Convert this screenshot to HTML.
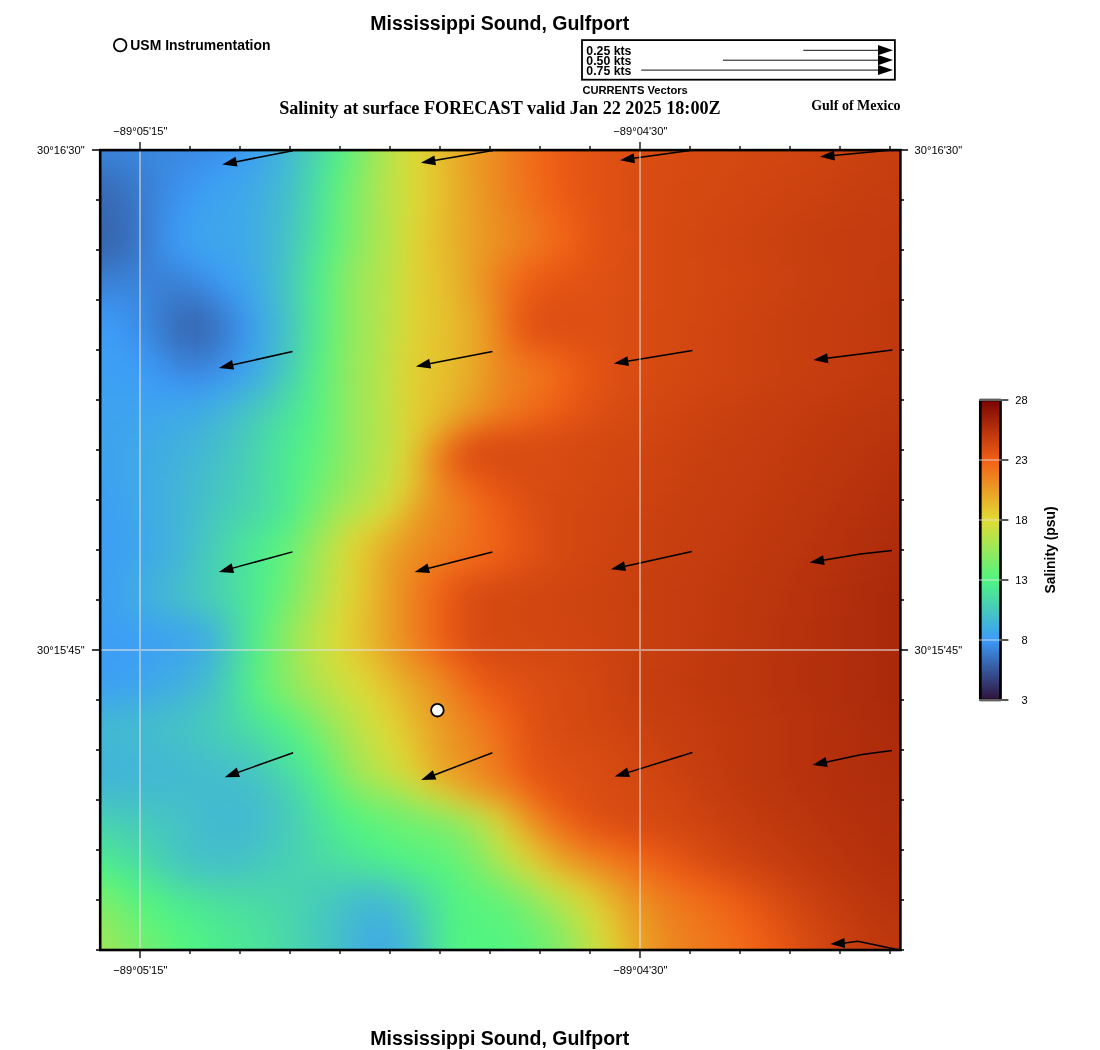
<!DOCTYPE html>
<html><head><meta charset="utf-8"><title>Mississippi Sound, Gulfport</title>
<style>
html,body{margin:0;padding:0;background:#fff}
body{width:1100px;height:1050px;position:relative;overflow:hidden;font-family:"Liberation Sans",sans-serif}
#f{position:absolute;left:100px;top:150px;width:800px;height:800px;overflow:hidden;font-size:0;line-height:0}
#f i{display:block;width:800px;height:2px}
svg{position:absolute;left:0;top:0;will-change:transform}
text{font-family:"Liberation Sans",sans-serif;fill:#000}
.sb{font-weight:bold}
.tb{font-family:"Liberation Serif",serif;font-weight:bold}
.an{font-size:11.11px}
</style></head><body>
<div id="f">
<i style="background:linear-gradient(90deg,#3a82d7,#3a83d9,#3a85db,#3a87de,#3a88e0,#3b8ae2,#3b8ce5,#3b90ea,#3c95ef,#3d9cf1,#3ea4ec,#41b0de,#44becc,#47ceb6,#4ddf9f,#59eb87,#73ed71,#94e95d,#b4e44c,#cddd3e,#ddd234,#e4c22e,#e7b12a,#e9a126,#eb9423,#ed8720,#ee791c,#f06c19,#ee6117,#ea5915,#e45514,#e15213,#de5013,#dc4e12,#da4d12,#d94c12,#d74b12,#d64a12,#d54911,#d54911,#d44811,#d24711,#d14611,#d04511,#cf4410,#cd4310,#cc4210,#cb4110,#c94010,#c83f0f,#c73e0f)"></i>
<i style="background:linear-gradient(90deg,#3a81d6,#3a82d8,#3a84da,#3a86dd,#3a88e0,#3b8ae3,#3b8de6,#3b91ea,#3c96ef,#3d9cf1,#3ea5eb,#41b0de,#44becc,#47ceb6,#4ddf9e,#59eb87,#73ed71,#95e95d,#b4e44c,#cddd3e,#ddd334,#e4c22e,#e7b12a,#e9a126,#eb9423,#ed8720,#ee791c,#f06c19,#ee6117,#ea5a15,#e45514,#e15213,#de5013,#dc4e12,#da4d12,#d94c12,#d74b12,#d64a12,#d54911,#d44911,#d34811,#d24711,#d14611,#d04511,#cf4410,#cd4310,#cc4210,#cb4110,#c94010,#c83f0f,#c73e0f)"></i>
<i style="background:linear-gradient(90deg,#3a80d4,#3a81d6,#3a84d9,#3a86dd,#3a88e0,#3b8be3,#3b8de7,#3b91eb,#3c97f0,#3d9df1,#3ea5eb,#41b0dd,#44becb,#47ceb6,#4ddf9e,#5aeb86,#74ed70,#95e95d,#b4e44c,#cddd3e,#ddd334,#e4c32e,#e7b12a,#e9a226,#eb9423,#ed8720,#ee791c,#f06c19,#ee6217,#ea5a15,#e45514,#e15213,#de5013,#dc4e12,#da4d12,#d84c12,#d74b12,#d64a12,#d54911,#d44911,#d34811,#d24711,#d14611,#d04511,#cf4410,#cd4310,#cc4210,#cb4110,#c94010,#c83f0f,#c73e0f)"></i>
<i style="background:linear-gradient(90deg,#3a7fd3,#3a80d5,#3a83d8,#3a86dc,#3a88e0,#3b8be4,#3b8ee7,#3b92ec,#3c98f0,#3d9ef1,#3ea6ea,#41b1dd,#44becb,#48ceb5,#4ddf9d,#5aeb86,#75ed70,#96e95d,#b4e44c,#cddd3e,#ddd334,#e4c32e,#e7b12a,#e9a226,#eb9423,#ed8720,#ee791c,#f06d19,#ee6217,#ea5a15,#e55514,#e15213,#de5013,#dc4e12,#da4d12,#d84c12,#d74b12,#d64a12,#d54911,#d44911,#d34811,#d24711,#d14611,#d04511,#ce4410,#cd4310,#cc4210,#cb4110,#c94010,#c83f0f,#c73e0f)"></i>
<i style="background:linear-gradient(90deg,#397ed1,#3a7fd4,#3a82d7,#3a85dc,#3a88e0,#3b8be4,#3b8fe8,#3b93ed,#3c98f0,#3d9ef0,#3fa6ea,#41b1dc,#44bfcb,#48cfb5,#4de09d,#5bec85,#75ed6f,#96e95c,#b5e34c,#cddd3e,#ddd334,#e4c32e,#e7b22a,#e9a226,#eb9423,#ed8720,#ee791c,#f06d19,#ee6217,#ea5a15,#e55514,#e15213,#de5013,#dc4e12,#da4d12,#d84c12,#d74b12,#d64a12,#d54911,#d44811,#d34811,#d24711,#d14611,#d04511,#ce4410,#cd4310,#cc4210,#ca4110,#c94010,#c83f0f,#c73e0f)"></i>
<i style="background:linear-gradient(90deg,#397ccf,#397ed2,#3a81d6,#3a85db,#3a88e0,#3b8ce5,#3b8fe9,#3c94ee,#3c99f1,#3d9ff0,#3fa7e9,#41b1dc,#44bfca,#48cfb5,#4ee09c,#5bec84,#76ed6f,#97e95c,#b5e34c,#cddd3e,#ddd334,#e4c32e,#e7b22a,#e9a226,#eb9423,#ed8720,#ee791c,#f06d19,#ef6217,#ea5a15,#e55514,#e15213,#de5013,#dc4e12,#da4d12,#d84c12,#d74b12,#d64a12,#d54911,#d44811,#d34811,#d24711,#d14611,#d04511,#ce4410,#cd4310,#cc4210,#ca4110,#c9400f,#c83f0f,#c63e0f)"></i>
<i style="background:linear-gradient(90deg,#397bce,#397dd1,#3a81d5,#3a85db,#3a89e0,#3b8ce5,#3b90ea,#3c95ee,#3c9af1,#3da0f0,#3fa7e9,#41b2db,#44bfca,#48cfb4,#4ee09c,#5cec84,#77ed6e,#98e95c,#b5e34b,#cddd3e,#ddd334,#e4c32e,#e7b22a,#e9a226,#eb9423,#ed8720,#ee791c,#f06d19,#ef6217,#ea5a15,#e55514,#e15213,#de5013,#dc4e12,#da4d12,#d84b12,#d74b12,#d64a12,#d54911,#d44811,#d34811,#d24711,#d14611,#cf4511,#ce4410,#cd4310,#cc4210,#ca4110,#c9400f,#c73f0f,#c63e0f)"></i>
<i style="background:linear-gradient(90deg,#397acc,#397ccf,#3a80d4,#3a84da,#3a89e0,#3b8de6,#3b91eb,#3c96ef,#3c9bf1,#3da1ef,#3fa8e8,#41b2db,#44bfc9,#48d0b4,#4ee19b,#5cec83,#78ed6e,#98e85b,#b6e34b,#cedd3e,#ddd334,#e4c32e,#e7b22a,#e9a226,#eb9423,#ed8720,#ee7a1c,#f06d19,#ef6217,#ea5a15,#e55514,#e15213,#de5013,#dc4e12,#da4d12,#d84b12,#d74b12,#d64a12,#d54911,#d44811,#d34711,#d24711,#d14611,#cf4511,#ce4410,#cd4310,#cb4210,#ca4110,#c9400f,#c73f0f,#c63e0f)"></i>
<i style="background:linear-gradient(90deg,#3979ca,#397bce,#3a7fd3,#3a84da,#3a89e0,#3b8de6,#3b92ec,#3c97f0,#3d9cf1,#3ea1ef,#3fa9e7,#41b3da,#44c0c9,#48d0b3,#4ee19b,#5dec83,#78ed6d,#99e85b,#b6e34b,#cedd3e,#ddd334,#e4c32e,#e7b22a,#e9a226,#eb9423,#ed8720,#ee7a1c,#f06d19,#ef6217,#ea5a15,#e55514,#e15213,#de5013,#db4e12,#da4d12,#d84b12,#d74a12,#d64a12,#d54911,#d44811,#d34711,#d24611,#d04611,#cf4510,#ce4410,#cd4310,#cb4210,#ca4110,#c9400f,#c73f0f,#c63e0f)"></i>
<i style="background:linear-gradient(90deg,#3977c8,#397acc,#397ed2,#3a83d9,#3a89e0,#3b8de7,#3b92ec,#3c98f0,#3d9df1,#3ea2ef,#3fa9e7,#41b3da,#44c0c9,#48d0b3,#4ee19a,#5eec82,#79ed6d,#99e85b,#b6e34b,#cedd3e,#ddd335,#e4c32e,#e7b22a,#e9a226,#eb9423,#ed8720,#ee7a1c,#f06d19,#ef6217,#ea5a15,#e55514,#e15213,#de5013,#db4e12,#da4c12,#d84b12,#d74a12,#d64a12,#d54911,#d44811,#d34711,#d24611,#d04511,#cf4410,#ce4410,#cc4310,#cb4210,#ca4110,#c8400f,#c73e0f,#c63e0f)"></i>
<i style="background:linear-gradient(90deg,#3976c6,#3979cb,#397dd1,#3a83d9,#3a89e0,#3b8ee7,#3b93ed,#3c99f1,#3d9ef1,#3ea3ee,#3faae6,#41b4d9,#44c0c8,#48d1b2,#4fe29a,#5eec81,#7aed6d,#9ae85a,#b6e34b,#cedd3e,#ddd335,#e4c42e,#e7b22a,#e9a226,#eb9423,#ed8720,#ee7a1c,#f06d19,#ef6217,#ea5a15,#e55514,#e15213,#de5013,#db4e12,#da4c12,#d84b12,#d74a12,#d64a12,#d54911,#d44811,#d34711,#d14611,#d04511,#cf4410,#ce4310,#cc4210,#cb4110,#ca4010,#c83f0f,#c73e0f,#c63e0f)"></i>
<i style="background:linear-gradient(90deg,#3975c5,#3978c9,#397dd0,#3a83d8,#3a89e0,#3b8ee8,#3b94ee,#3c9af1,#3d9ef1,#3ea3ee,#3faae6,#42b4d9,#44c1c8,#48d1b2,#4fe299,#5fed81,#7bed6c,#9ae85a,#b7e34b,#cedd3e,#ddd335,#e4c42e,#e7b22a,#e9a226,#eb9423,#ed8720,#ee7a1c,#f06d19,#ef6217,#ea5a15,#e55514,#e15213,#de5013,#db4e12,#d94c12,#d84b12,#d74a12,#d64a12,#d54911,#d44811,#d24711,#d14611,#d04511,#cf4410,#cd4310,#cc4210,#cb4110,#ca4010,#c83f0f,#c73e0f,#c63e0f)"></i>
<i style="background:linear-gradient(90deg,#3974c3,#3977c8,#397ccf,#3a82d8,#3a89e1,#3b8fe8,#3c95ef,#3c9af1,#3d9ff1,#3ea4ed,#3fabe5,#42b4d8,#44c1c7,#48d1b2,#4fe298,#5fed80,#7bed6c,#9be85a,#b7e34b,#cedd3e,#ddd335,#e4c42e,#e7b32a,#e9a326,#eb9423,#ed8720,#ee7a1c,#f06d19,#ef6217,#ea5a15,#e55514,#e15213,#de5013,#db4e12,#d94c12,#d84b12,#d74a12,#d64912,#d54911,#d44811,#d24711,#d14611,#d04511,#cf4410,#cd4310,#cc4210,#cb4110,#c94010,#c83f0f,#c73e0f,#c63d0f)"></i>
<i style="background:linear-gradient(90deg,#3872c1,#3976c6,#397bce,#3a82d7,#3a89e1,#3b8fe9,#3c95ef,#3c9bf2,#3da0f1,#3ea4ed,#40abe4,#42b5d8,#45c1c7,#48d1b1,#4fe398,#60ed80,#7ced6b,#9be85a,#b7e34a,#cedd3e,#ddd335,#e4c42f,#e7b32a,#e9a326,#eb9423,#ed8720,#ee7a1c,#f06d19,#ef6217,#ea5a15,#e55514,#e15213,#de5013,#db4e12,#d94c12,#d84b12,#d74a12,#d64911,#d54911,#d34811,#d24711,#d14611,#d04511,#ce4410,#cd4310,#cc4210,#cb4110,#c94010,#c83f0f,#c73e0f,#c63d0f)"></i>
<i style="background:linear-gradient(90deg,#3871c0,#3975c5,#397bcd,#3a82d7,#3a89e1,#3b90e9,#3c96f0,#3d9cf2,#3da1f0,#3ea5ec,#40ace4,#42b5d7,#45c2c7,#48d2b1,#50e397,#60ed7f,#7ded6b,#9ce859,#b7e34a,#cedd3e,#ddd335,#e4c42f,#e7b32a,#e9a326,#eb9523,#ed8720,#ee7a1c,#f06d19,#ef6317,#eb5b15,#e55514,#e15213,#de5013,#db4e12,#d94c12,#d84b12,#d74a12,#d54911,#d44911,#d34811,#d24711,#d14611,#d04511,#ce4410,#cd4310,#cc4210,#ca4110,#c94010,#c83f0f,#c73e0f,#c53d0f)"></i>
<i style="background:linear-gradient(90deg,#3870bf,#3974c4,#397acc,#3a81d6,#3a89e1,#3b90ea,#3c97f0,#3d9df2,#3da1f0,#3ea5ec,#40ace3,#42b5d7,#45c2c6,#49d2b0,#50e397,#61ed7f,#7ded6a,#9ce859,#b8e34a,#cedd3e,#ddd335,#e4c42f,#e7b32a,#e9a326,#eb9523,#ed8720,#ee7a1d,#f06e1a,#ef6317,#eb5b15,#e55614,#e15213,#de5013,#db4e12,#d94c12,#d84b12,#d74a12,#d54911,#d44811,#d34811,#d24711,#d14611,#cf4511,#ce4410,#cd4310,#cc4210,#ca4110,#c94010,#c83f0f,#c63e0f,#c53d0f)"></i>
<i style="background:linear-gradient(90deg,#386fbd,#3973c3,#3979cb,#3a81d6,#3a89e1,#3b90ea,#3c97f1,#3d9df2,#3ea2f0,#3ea6eb,#40ace3,#42b6d6,#45c2c6,#49d2b0,#50e396,#62ed7e,#7eec6a,#9de859,#b8e34a,#cedd3e,#ddd335,#e4c42f,#e7b32a,#e9a326,#eb9523,#ed8720,#ee7a1d,#f06e1a,#ef6317,#eb5b15,#e65614,#e15213,#de5013,#db4e12,#d94c12,#d84b12,#d64a12,#d54911,#d44811,#d34811,#d24711,#d14611,#cf4511,#ce4410,#cd4310,#cb4210,#ca4110,#c9400f,#c83f0f,#c63e0f,#c53d0f)"></i>
<i style="background:linear-gradient(90deg,#386ebc,#3872c1,#3979ca,#3a81d6,#3a89e1,#3b91eb,#3c98f1,#3d9ef2,#3ea2ef,#3fa6eb,#40ade2,#42b6d6,#45c2c5,#49d3b0,#50e496,#62ed7e,#7eec6a,#9de859,#b8e34a,#cedd3e,#ddd335,#e4c42f,#e7b32a,#e9a326,#eb9523,#ec8720,#ee7a1d,#f06e1a,#ef6317,#eb5b15,#e65614,#e15213,#de5013,#db4e12,#d94c12,#d84b12,#d64a12,#d54911,#d44811,#d34711,#d24711,#d04611,#cf4510,#ce4410,#cd4310,#cb4210,#ca4110,#c9400f,#c73f0f,#c63e0f,#c53d0f)"></i>
<i style="background:linear-gradient(90deg,#386ebb,#3872c0,#3978c9,#3a81d5,#3a89e1,#3b91eb,#3c99f1,#3d9ef2,#3ea3ef,#3fa7ea,#40ade2,#42b6d5,#45c3c5,#49d3af,#51e496,#62ed7d,#7fec69,#9de858,#b8e34a,#cedd3e,#ddd335,#e4c42f,#e7b32a,#e9a326,#eb9523,#ec8820,#ee7b1d,#f06e1a,#ef6317,#eb5b15,#e65614,#e15213,#de5013,#db4e12,#d94c12,#d84b12,#d64a12,#d54911,#d44811,#d34711,#d24611,#d04511,#cf4410,#ce4410,#cc4310,#cb4210,#ca4110,#c9400f,#c73f0f,#c63e0f,#c53d0f)"></i>
<i style="background:linear-gradient(90deg,#386dba,#3871bf,#3978c9,#3a80d5,#3a8ae2,#3b92ec,#3c99f1,#3d9ff1,#3ea3ef,#3fa7ea,#40ade1,#42b7d5,#45c3c5,#49d3af,#51e495,#63ed7d,#7fec69,#9ee858,#b8e34a,#cedd3e,#ddd335,#e4c42f,#e7b32a,#e9a326,#eb9523,#ec8820,#ee7b1d,#f06e1a,#ef6417,#eb5b15,#e65614,#e15213,#de5013,#db4e12,#d94c12,#d84b12,#d64a12,#d54911,#d44811,#d34711,#d24611,#d04511,#cf4410,#ce4310,#cc4210,#cb4110,#ca4010,#c83f0f,#c73f0f,#c63e0f,#c53d0f)"></i>
<i style="background:linear-gradient(90deg,#386cb9,#3870be,#3977c8,#3a80d5,#3a8ae2,#3b92ec,#3c9af2,#3da0f1,#3ea3ee,#3fa7e9,#40aee1,#42b7d5,#45c3c4,#49d3af,#51e495,#63ed7d,#80ec69,#9ee858,#b8e34a,#cedd3e,#ddd335,#e4c42f,#e7b32a,#e9a326,#eb9523,#ec8820,#ee7b1d,#f06f1a,#ef6417,#eb5c15,#e65614,#e15213,#de5013,#db4e12,#d94c12,#d84b12,#d64a12,#d54911,#d44811,#d34711,#d14611,#d04511,#cf4410,#cd4310,#cc4210,#cb4110,#ca4010,#c83f0f,#c73e0f,#c63d0f,#c53d0f)"></i>
<i style="background:linear-gradient(90deg,#386bb8,#3870be,#3977c8,#3a80d5,#3b8ae2,#3b93ed,#3c9af2,#3da0f1,#3ea4ee,#3fa8e9,#40aee1,#42b7d4,#45c3c4,#49d4ae,#51e594,#64ed7c,#80ec69,#9ee858,#b8e34a,#cedd3e,#ddd334,#e4c42f,#e7b32a,#e9a326,#eb9523,#ec8820,#ee7b1d,#f06f1a,#ef6417,#ec5c15,#e65614,#e15213,#de5013,#db4e12,#d94c12,#d84b12,#d64a12,#d54911,#d44811,#d34711,#d14611,#d04511,#cf4410,#cd4310,#cc4210,#cb4110,#c94010,#c83f0f,#c73e0f,#c63d0f,#c53d0f)"></i>
<i style="background:linear-gradient(90deg,#386bb7,#386fbd,#3976c7,#3a80d4,#3b8ae2,#3b93ed,#3c9bf2,#3da0f1,#3ea4ee,#3fa8e9,#40aee0,#42b7d4,#45c4c4,#49d4ae,#51e594,#64ee7c,#81ec68,#9ee758,#b8e34a,#cedd3e,#ddd334,#e4c42f,#e7b32a,#e9a426,#eb9523,#ec8820,#ee7b1d,#f06f1a,#ef6417,#ec5c15,#e65614,#e25313,#de5013,#db4e12,#d94c12,#d84b12,#d64a12,#d54911,#d44811,#d24711,#d14611,#d04511,#ce4410,#cd4310,#cc4210,#cb4110,#c94010,#c83f0f,#c73e0f,#c63d0f,#c53d0f)"></i>
<i style="background:linear-gradient(90deg,#386ab6,#386fbc,#3976c6,#3a80d4,#3b8ae2,#3b94ed,#3c9bf2,#3da1f1,#3ea4ed,#3fa8e9,#40aee0,#42b8d4,#45c4c4,#49d4ae,#51e594,#64ee7c,#81ec68,#9ee758,#b8e34a,#cedd3e,#ddd334,#e4c42f,#e7b32a,#e9a426,#eb9623,#ec8820,#ee7c1d,#f0701a,#ef6517,#ec5c16,#e75714,#e25313,#de5013,#db4e12,#d94c12,#d84b12,#d64a12,#d54911,#d44811,#d24711,#d14611,#d04511,#ce4410,#cd4310,#cc4210,#ca4110,#c94010,#c83f0f,#c73e0f,#c53d0f,#c43c0f)"></i>
<i style="background:linear-gradient(90deg,#386ab5,#386ebb,#3976c6,#3a80d4,#3b8be3,#3c94ee,#3d9cf2,#3da1f0,#3ea5ed,#3fa8e8,#40afe0,#42b8d4,#45c4c3,#49d4ad,#52e593,#65ee7b,#81ec68,#9fe758,#b8e34a,#cedd3e,#ddd334,#e4c42f,#e7b32a,#e9a426,#eb9623,#ec8920,#ee7c1d,#ef701a,#ef6518,#ec5d16,#e75714,#e25313,#de5013,#db4e12,#d94c12,#d74b12,#d64a12,#d54911,#d34811,#d24711,#d14611,#cf4511,#ce4410,#cd4310,#cb4210,#ca4110,#c9400f,#c83f0f,#c63e0f,#c53d0f,#c43c0f)"></i>
<i style="background:linear-gradient(90deg,#3869b5,#386ebb,#3975c5,#3a80d4,#3b8be3,#3c94ee,#3d9cf2,#3ea2f0,#3ea5ed,#3fa8e8,#40afe0,#42b8d3,#45c4c3,#49d4ad,#52e593,#65ee7b,#82ec68,#9fe758,#b8e34a,#cedd3e,#ddd334,#e4c42e,#e7b32a,#e9a427,#eb9623,#ec8920,#ee7c1d,#ef701a,#ef6618,#ec5d16,#e75714,#e25313,#de5013,#db4e12,#d94c12,#d74b12,#d64a12,#d54911,#d34811,#d24711,#d14611,#cf4511,#ce4410,#cd4310,#cb4210,#ca4110,#c9400f,#c73f0f,#c63e0f,#c53d0f,#c43c0f)"></i>
<i style="background:linear-gradient(90deg,#3869b4,#386dba,#3975c5,#3a80d4,#3b8be3,#3c95ee,#3d9df2,#3ea2f0,#3ea5ed,#3fa9e8,#40afdf,#42b8d3,#45c4c3,#49d5ad,#52e593,#65ee7b,#82ec68,#9fe758,#b8e34a,#cedd3e,#ddd334,#e4c42e,#e7b32a,#e9a427,#ea9623,#ec8920,#ee7d1d,#ef711a,#f06618,#ed5d16,#e75714,#e25313,#de5013,#db4e12,#d94c12,#d74b12,#d64a12,#d44911,#d34811,#d24711,#d14611,#cf4510,#ce4410,#cc4210,#cb4110,#ca4110,#c9400f,#c73f0f,#c63e0f,#c53d0f,#c43c0f)"></i>
<i style="background:linear-gradient(90deg,#3868b3,#386dba,#3975c5,#3a80d4,#3b8be4,#3c95ef,#3d9df2,#3ea2f0,#3ea5ec,#3fa9e8,#40afdf,#43b8d3,#45c5c2,#49d5ac,#52e693,#65ee7b,#82ec67,#9fe758,#b8e34a,#cedd3e,#ddd334,#e4c42e,#e7b32a,#e9a427,#ea9623,#ec8920,#ee7d1d,#ef711a,#f06618,#ed5e16,#e75714,#e25313,#de5013,#db4e12,#d94c12,#d74b12,#d64a12,#d44911,#d34811,#d24711,#d04511,#cf4410,#ce4310,#cc4210,#cb4110,#ca4010,#c83f0f,#c73e0f,#c63e0f,#c53d0f,#c43c0f)"></i>
<i style="background:linear-gradient(90deg,#3868b3,#386cb9,#3974c4,#3a80d4,#3b8ce4,#3c96ef,#3d9ef2,#3ea3ef,#3ea5ec,#3fa9e8,#40afdf,#43b9d3,#45c5c2,#49d5ac,#52e692,#66ee7b,#82ec67,#9fe758,#b8e34a,#cedd3e,#ddd334,#e4c32e,#e7b32a,#e9a427,#ea9723,#ec8a20,#ee7d1d,#ef721a,#f06718,#ed5e16,#e85814,#e25313,#de5013,#db4e12,#d94c12,#d74b12,#d64a12,#d44811,#d34711,#d24611,#d04511,#cf4410,#cd4310,#cc4210,#cb4110,#c94010,#c83f0f,#c73e0f,#c63d0f,#c53d0f,#c43c0f)"></i>
<i style="background:linear-gradient(90deg,#3768b2,#386cb8,#3974c4,#3a80d4,#3b8ce4,#3c96ef,#3d9ef2,#3ea3ef,#3ea5ec,#3fa9e7,#41afdf,#43b9d2,#45c5c2,#4ad5ac,#52e692,#66ee7a,#83ec67,#9fe758,#b8e34a,#cedd3e,#ded234,#e4c32e,#e7b32a,#e9a427,#ea9723,#ec8a20,#ee7e1d,#ef721b,#f06718,#ed5e16,#e85815,#e25313,#de5013,#db4e12,#d94c12,#d74b12,#d64a12,#d44811,#d34711,#d14611,#d04511,#cf4410,#cd4310,#cc4210,#cb4110,#c94010,#c83f0f,#c73e0f,#c63d0f,#c53d0f,#c43c0f)"></i>
<i style="background:linear-gradient(90deg,#3767b2,#386cb8,#3974c4,#3a80d4,#3b8ce4,#3c97ef,#3d9ef1,#3ea3ef,#3ea6ec,#3fa9e7,#41afdf,#43b9d2,#45c5c2,#4ad5ac,#52e692,#66ee7a,#83ec67,#9fe758,#b8e34a,#cedd3e,#ded234,#e4c32e,#e7b32a,#e9a427,#ea9723,#ec8a20,#ee7e1e,#ef731b,#f06818,#ed5f16,#e85815,#e25314,#de5013,#db4e12,#d94c12,#d74b12,#d64a12,#d44811,#d34711,#d14611,#d04511,#ce4410,#cd4310,#cc4210,#ca4110,#c94010,#c83f0f,#c73e0f,#c53d0f,#c43c0f,#c43c0f)"></i>
<i style="background:linear-gradient(90deg,#3767b1,#386bb8,#3974c3,#3a80d4,#3b8ce5,#3c97f0,#3d9ff1,#3ea3ee,#3ea6ec,#3fa9e7,#41b0df,#43b9d2,#45c5c1,#4ad6ab,#52e692,#66ee7a,#83ec67,#9fe758,#b8e34a,#cedd3e,#ded234,#e4c32e,#e7b32a,#e9a427,#ea9723,#ec8b21,#ee7f1e,#ef731b,#f06818,#ee5f16,#e85815,#e25314,#de5013,#db4e12,#d94c12,#d74b12,#d64912,#d44811,#d34711,#d14611,#d04511,#ce4410,#cd4310,#cc4210,#ca4110,#c9400f,#c83f0f,#c63e0f,#c53d0f,#c43c0f,#c33c0f)"></i>
<i style="background:linear-gradient(90deg,#3767b1,#386bb7,#3973c3,#3a80d4,#3b8de5,#3c97f0,#3d9ff1,#3ea4ee,#3ea6ec,#3fa9e7,#41b0df,#43b9d2,#45c6c1,#4ad6ab,#52e691,#66ee7a,#83ec67,#9fe758,#b7e34a,#cedd3e,#ded234,#e4c32e,#e7b32a,#e9a527,#ea9724,#ec8b21,#ee7f1e,#ef741b,#f06918,#ee6016,#e85815,#e25314,#de5013,#db4e12,#d94c12,#d74b12,#d64911,#d44811,#d24711,#d14611,#d04511,#ce4410,#cd4310,#cb4210,#ca4110,#c9400f,#c73f0f,#c63e0f,#c53d0f,#c43c0f,#c33c0f)"></i>
<i style="background:linear-gradient(90deg,#3766b1,#386bb7,#3973c3,#3a80d4,#3b8de5,#3c98f0,#3da0f1,#3ea4ee,#3ea6eb,#3fa9e7,#41b0de,#43b9d2,#46c6c1,#4ad6ab,#53e691,#66ee7a,#83ec67,#9fe758,#b7e34a,#cedc3e,#ded134,#e4c32e,#e7b32a,#e9a527,#ea9824,#ec8b21,#ee801e,#ef741b,#f06a19,#ee6016,#e95915,#e25314,#de5013,#db4e12,#d94c12,#d74b12,#d64911,#d44811,#d24711,#d14611,#cf4511,#ce4410,#cd4310,#cb4210,#ca4110,#c9400f,#c73f0f,#c63e0f,#c53d0f,#c43c0f,#c33c0f)"></i>
<i style="background:linear-gradient(90deg,#3766b0,#386ab6,#3973c2,#3a80d4,#3b8de6,#3c98f0,#3da0f1,#3ea4ee,#3ea6eb,#3fa9e7,#41b0de,#43b9d2,#46c6c1,#4ad6aa,#53e791,#67ee7a,#83ec67,#9fe758,#b7e34a,#cedc3e,#ded134,#e4c22e,#e7b32a,#e9a527,#ea9824,#ec8c21,#ed801e,#ef751b,#f06a19,#ee6116,#e95915,#e35314,#de5013,#db4e12,#d94c12,#d74b12,#d54911,#d44811,#d24711,#d14611,#cf4511,#ce4410,#cc4210,#cb4110,#ca4010,#c83f0f,#c73e0f,#c63e0f,#c53d0f,#c43c0f,#c33b0f)"></i>
<i style="background:linear-gradient(90deg,#3766b0,#386ab6,#3873c2,#3a80d4,#3b8de6,#3c99f0,#3da0f1,#3ea4ed,#3ea6eb,#3fa9e7,#41b0de,#43b9d1,#46c6c0,#4ad7aa,#53e791,#67ee79,#84ec67,#9fe758,#b7e34b,#cedc3e,#ded134,#e4c22e,#e7b32a,#e8a527,#ea9824,#ec8c21,#ed811e,#ef751b,#f06b19,#ee6117,#e95915,#e35314,#de5013,#db4e12,#d94c12,#d74b12,#d54911,#d44811,#d24711,#d14611,#cf4510,#ce4310,#cc4210,#cb4110,#ca4010,#c83f0f,#c73e0f,#c63d0f,#c53d0f,#c43c0f,#c33b0f)"></i>
<i style="background:linear-gradient(90deg,#3766b0,#386ab6,#3873c2,#3a80d4,#3b8ee6,#3c99f0,#3da1f0,#3ea4ed,#3ea6eb,#3fa9e7,#41b0de,#43bad1,#46c6c0,#4ad7aa,#53e790,#67ee79,#84ec66,#9fe758,#b7e34b,#cedc3e,#ded134,#e4c22e,#e7b32a,#e8a527,#ea9824,#ec8c21,#ed811e,#ef761b,#f06b19,#ee6117,#e95915,#e35314,#de5013,#db4e12,#d94c12,#d74b12,#d54911,#d44811,#d24711,#d14611,#cf4410,#ce4310,#cc4210,#cb4110,#c94010,#c83f0f,#c73e0f,#c63d0f,#c53d0f,#c43c0f,#c33b0f)"></i>
<i style="background:linear-gradient(90deg,#3766af,#386ab6,#3873c2,#3a80d4,#3b8ee6,#3c99f0,#3da1f0,#3ea5ed,#3ea6eb,#3fa9e7,#41b0de,#43bad1,#46c7c0,#4ad7aa,#53e790,#67ee79,#84ec66,#9fe758,#b7e34b,#cedc3e,#ded134,#e4c22e,#e7b32a,#e8a527,#ea9824,#ec8d21,#ed811e,#ef761c,#f06b19,#ef6217,#e95a15,#e35414,#de5013,#db4e12,#d94c12,#d74b12,#d54911,#d44811,#d24711,#d04611,#cf4410,#cd4310,#cc4210,#cb4110,#c94010,#c83f0f,#c73e0f,#c63d0f,#c43c0f,#c43c0f,#c33b0f)"></i>
<i style="background:linear-gradient(90deg,#3765af,#386ab5,#3873c2,#3a80d4,#3b8ee6,#3c99f0,#3da1f0,#3ea5ed,#3ea6eb,#3fa9e7,#41b0de,#43bad1,#46c7c0,#4ad7a9,#53e790,#68ee79,#84ec66,#9fe757,#b7e34b,#cedc3e,#ded033,#e4c22e,#e7b32a,#e8a527,#ea9924,#ec8d21,#ed821e,#ef761c,#f06c19,#ef6217,#e95a15,#e35414,#de5013,#db4e12,#d94c12,#d74b12,#d54911,#d44811,#d24711,#d04511,#cf4410,#cd4310,#cc4210,#ca4110,#c94010,#c83f0f,#c73e0f,#c53d0f,#c43c0f,#c33c0f,#c33b0f)"></i>
<i style="background:linear-gradient(90deg,#3765af,#386ab5,#3873c2,#3a80d4,#3b8ee7,#3c9af0,#3da1f0,#3ea5ed,#3fa6eb,#3fa9e7,#41b0de,#43bad1,#46c7bf,#4ad7a9,#53e790,#68ee79,#84ec66,#9fe757,#b7e34b,#cedc3e,#ded033,#e4c22e,#e7b32a,#e8a527,#ea9924,#ec8d21,#ed821e,#ef771c,#f06c19,#ef6217,#ea5a15,#e35414,#de5013,#dc4e12,#d94c12,#d74b12,#d54911,#d34811,#d24711,#d04511,#cf4410,#cd4310,#cc4210,#ca4110,#c94010,#c83f0f,#c63e0f,#c53d0f,#c43c0f,#c33c0f,#c33b0e)"></i>
<i style="background:linear-gradient(90deg,#3765af,#386ab5,#3873c2,#3a80d4,#3b8ee7,#3c9af0,#3da1f0,#3ea5ed,#3fa6eb,#3fa9e7,#41b0de,#43bad1,#46c7bf,#4ad8a9,#54e78f,#68ee78,#85ec66,#9fe757,#b7e34b,#cedc3d,#ded033,#e4c22e,#e7b32a,#e8a527,#ea9924,#ec8d21,#ed821e,#ef771c,#f06c19,#ef6217,#ea5a15,#e35414,#de5013,#dc4e12,#d94c12,#d74b12,#d54911,#d34811,#d24711,#d04511,#cf4410,#cd4310,#cc4210,#ca4110,#c9400f,#c83f0f,#c63e0f,#c53d0f,#c43c0f,#c33c0f,#c33b0e)"></i>
<i style="background:linear-gradient(90deg,#3765af,#386ab5,#3873c2,#3a80d4,#3b8ee7,#3c9af0,#3da1f0,#3ea5ed,#3fa6eb,#3fa9e7,#41b0de,#43bad0,#46c7bf,#4ad8a8,#54e88f,#68ee78,#85ec66,#9fe757,#b7e34b,#cedc3d,#ded033,#e4c12e,#e7b32a,#e8a527,#ea9924,#ec8d21,#ed821e,#ef771c,#f06c19,#ef6317,#ea5a15,#e35414,#de5013,#dc4e12,#d94c12,#d74b12,#d54911,#d34811,#d24711,#d04511,#cf4410,#cd4310,#cc4210,#ca4110,#c9400f,#c83f0f,#c63e0f,#c53d0f,#c43c0f,#c33b0f,#c23b0e)"></i>
<i style="background:linear-gradient(90deg,#3766af,#386ab6,#3873c2,#3a80d4,#3b8ee7,#3c9af0,#3da1f0,#3ea5ed,#3ea6eb,#3fa9e7,#41b0de,#43bad0,#46c8bf,#4ad8a8,#54e88f,#69ee78,#85ec66,#9fe757,#b7e34b,#cedc3d,#ded033,#e4c12e,#e7b32a,#e8a527,#ea9924,#ec8d21,#ed821e,#ef771c,#f06c19,#ef6317,#ea5a15,#e35414,#de5013,#dc4e12,#d94c12,#d74b12,#d54911,#d34811,#d24611,#d04511,#cf4410,#cd4310,#cc4210,#ca4110,#c9400f,#c73f0f,#c63e0f,#c53d0f,#c43c0f,#c33b0f,#c23b0e)"></i>
<i style="background:linear-gradient(90deg,#3766b0,#386ab6,#3873c2,#3a80d4,#3b8ee7,#3c9af0,#3da1f0,#3ea5ed,#3ea6eb,#3fa9e7,#41b0de,#43bad0,#46c8be,#4ad8a8,#54e88e,#69ee78,#86eb65,#a0e757,#b7e34b,#cedc3d,#dfd033,#e4c12e,#e7b32a,#e8a527,#ea9924,#ec8d21,#ed821e,#ef771c,#f06c19,#ef6317,#ea5a15,#e35414,#de5013,#dc4e12,#d94c12,#d74b12,#d54911,#d34811,#d24611,#d04511,#ce4410,#cd4310,#cb4210,#ca4110,#c9400f,#c73f0f,#c63e0f,#c53d0f,#c43c0f,#c33b0f,#c23b0e)"></i>
<i style="background:linear-gradient(90deg,#3766b0,#386ab6,#3973c2,#3a80d4,#3b8ee6,#3c99f0,#3da1f0,#3ea4ed,#3ea6eb,#3fa9e7,#41b0de,#43bbd0,#46c8be,#4bd9a7,#54e88e,#6aee77,#86eb65,#a0e757,#b7e34b,#cedb3d,#dfd033,#e4c12e,#e7b32a,#e8a527,#ea9924,#ec8d21,#ed821e,#ef771c,#f06c19,#ef6217,#ea5a15,#e35414,#de5013,#dc4e12,#d94c12,#d74b12,#d54911,#d34811,#d24611,#d04511,#ce4410,#cd4310,#cb4210,#ca4110,#c9400f,#c73f0f,#c63e0f,#c53d0f,#c43c0f,#c33b0f,#c23b0e)"></i>
<i style="background:linear-gradient(90deg,#3766b1,#386bb7,#3973c3,#3a80d5,#3b8ee6,#3c99f0,#3da1f0,#3ea4ed,#3ea6eb,#3fa9e7,#41b0de,#43bbd0,#46c8be,#4bd9a7,#55e88d,#6aee77,#87eb65,#a0e757,#b7e34b,#cedb3d,#dfcf33,#e4c12e,#e7b32a,#e8a527,#ea9924,#ec8d21,#ed811e,#ef761c,#f06c19,#ef6217,#ea5a15,#e35414,#de5013,#dc4e12,#d94c12,#d74b12,#d54911,#d34811,#d24611,#d04511,#ce4410,#cd4310,#cb4210,#ca4110,#c9400f,#c73f0f,#c63e0f,#c53d0f,#c43c0f,#c33b0f,#c23b0e)"></i>
<i style="background:linear-gradient(90deg,#3767b1,#386bb7,#3974c3,#3a80d5,#3b8ee6,#3c99ef,#3da0f0,#3ea4ed,#3ea6eb,#3fa9e7,#41b0de,#43bbd0,#46c8bd,#4bd9a6,#55e88d,#6bee77,#87eb64,#a0e757,#b7e34b,#cedb3d,#dfcf33,#e4c12e,#e7b32a,#e8a527,#ea9924,#ec8c21,#ed811e,#ef761b,#f06b19,#ef6217,#e95a15,#e35414,#de5013,#dc4e12,#d94c12,#d74b12,#d54911,#d34811,#d24611,#d04511,#ce4410,#cd4310,#cb4210,#ca4110,#c9400f,#c73f0f,#c63e0f,#c53d0f,#c43c0f,#c33b0f,#c23b0e)"></i>
<i style="background:linear-gradient(90deg,#3768b2,#386cb8,#3974c4,#3a80d5,#3b8de6,#3c98ef,#3da0f0,#3ea4ee,#3ea6ec,#3fa9e7,#41b0de,#43bbd0,#46c9bd,#4bdaa6,#55e98d,#6bee76,#88eb64,#a1e757,#b7e34b,#cfdb3d,#dfcf33,#e4c12e,#e7b32a,#e8a527,#ea9824,#ec8c21,#ed801e,#ef751b,#f06b19,#ee6217,#e95a15,#e35414,#de5013,#dc4e12,#d94c12,#d74b12,#d54911,#d34811,#d24611,#d04511,#ce4410,#cd4310,#cb4210,#ca4110,#c9400f,#c73f0f,#c63e0f,#c53d0f,#c43c0f,#c33b0f,#c23b0e)"></i>
<i style="background:linear-gradient(90deg,#3868b3,#386cb9,#3975c5,#3a80d5,#3b8de5,#3c98ef,#3d9ff0,#3ea3ee,#3ea5ec,#3fa9e7,#41b0de,#43bbcf,#46c9bd,#4bdaa5,#56e98c,#6cee76,#89eb64,#a1e756,#b7e34b,#cfdb3d,#dfcf33,#e4c12e,#e7b32a,#e8a527,#ea9824,#ec8b21,#ee801e,#ef741b,#ef6a19,#ee6117,#e95915,#e35314,#de5013,#dc4e12,#d94c12,#d74b12,#d54911,#d34811,#d24611,#d04511,#ce4410,#cd4310,#cb4210,#ca4110,#c9400f,#c73f0f,#c63e0f,#c53d0f,#c43c0f,#c33b0f,#c23b0e)"></i>
<i style="background:linear-gradient(90deg,#3869b4,#386dba,#3975c5,#3a81d5,#3b8de5,#3c97ee,#3d9ff0,#3ea3ee,#3ea5ec,#3fa9e7,#41b0de,#43bbcf,#46c9bc,#4bdaa5,#56e98c,#6dee75,#89eb63,#a2e756,#b7e34a,#cfdb3d,#dfcf33,#e4c22e,#e7b32a,#e8a527,#ea9824,#ec8b21,#ee7f1e,#ef741b,#ef6a19,#ee6117,#e95915,#e35314,#de5013,#dc4e12,#d94c12,#d74b12,#d54911,#d34811,#d24611,#d04511,#ce4410,#cd4310,#cb4210,#ca4110,#c9400f,#c73f0f,#c63e0f,#c53d0f,#c43c0f,#c33b0f,#c23b0e)"></i>
<i style="background:linear-gradient(90deg,#386ab6,#386ebb,#3976c6,#3a81d5,#3b8ce4,#3c96ed,#3d9eef,#3ea2ee,#3ea5ec,#3fa9e8,#41b0de,#43bbcf,#46cabc,#4bdba4,#56e98b,#6dee75,#8aeb63,#a2e756,#b7e34a,#cfdb3d,#dfcf33,#e4c22e,#e6b42a,#e8a527,#ea9724,#ec8a20,#ee7e1d,#ef731b,#ef6918,#ee6016,#e95915,#e25314,#de5013,#db4e12,#d94c12,#d74b12,#d54911,#d34811,#d24611,#d04511,#cf4410,#cd4310,#cc4210,#ca4110,#c9400f,#c73f0f,#c63e0f,#c53d0f,#c43c0f,#c33b0f,#c23a0e)"></i>
<i style="background:linear-gradient(90deg,#386bb7,#386fbd,#3976c7,#3a81d5,#3b8ce4,#3c95ed,#3d9def,#3ea2ef,#3ea4ed,#3fa9e8,#41b0de,#43bbcf,#46cabc,#4bdba4,#57e98b,#6eee74,#8beb63,#a2e756,#b7e34a,#cfdb3d,#dfcf33,#e4c22e,#e6b42a,#e8a527,#ea9723,#ec8920,#ee7d1d,#ef721a,#ef6818,#ed6016,#e85915,#e25314,#de5013,#db4e12,#d94c12,#d74b12,#d54911,#d34811,#d24711,#d04511,#cf4410,#cd4310,#cc4210,#ca4110,#c9400f,#c73f0f,#c63e0f,#c53d0f,#c43c0f,#c33b0e,#c23a0e)"></i>
<i style="background:linear-gradient(90deg,#386cb9,#3870be,#3977c8,#3a81d6,#3b8be3,#3c94ec,#3d9cef,#3da1ef,#3ea4ed,#3fa8e8,#41b0de,#43bbcf,#47cabb,#4cdba3,#57ea8a,#6fee74,#8ceb62,#a3e755,#b8e34a,#cfdb3d,#dfcf33,#e4c22e,#e6b42a,#e8a527,#ea9723,#ec8920,#ee7c1d,#ef711a,#ef6718,#ed5f16,#e85815,#e25313,#de5013,#db4e12,#d94c12,#d74b12,#d54911,#d34811,#d24711,#d04511,#cf4410,#cd4310,#cc4210,#ca4110,#c9400f,#c73f0f,#c63e0f,#c53d0f,#c43c0f,#c33b0e,#c23a0e)"></i>
<i style="background:linear-gradient(90deg,#386dba,#3871c0,#3978c9,#3a81d6,#3b8be2,#3c93eb,#3d9bef,#3da0ef,#3ea4ed,#3fa8e8,#41b0de,#43bbcf,#47cabb,#4cdca3,#58ea89,#70ee73,#8cea62,#a3e755,#b8e24a,#cfdb3d,#dfcf33,#e4c22e,#e6b42a,#e8a527,#ea9623,#ec8820,#ee7b1d,#ef6f1a,#ef6618,#ec5e16,#e85815,#e25313,#de5013,#db4e12,#d94c12,#d74b12,#d54911,#d34811,#d24711,#d04511,#cf4410,#cd4310,#cc4210,#ca4110,#c9400f,#c73f0f,#c63e0f,#c53d0f,#c43c0f,#c33b0e,#c23a0e)"></i>
<i style="background:linear-gradient(90deg,#386ebc,#3872c1,#3979ca,#3a81d6,#3b8ae1,#3b92ea,#3c9aee,#3d9fef,#3ea3ee,#3fa8e9,#41b0de,#43bccf,#47cbba,#4cdca2,#58ea89,#70ee73,#8dea61,#a4e755,#b8e24a,#cfdb3d,#dfcf33,#e4c22e,#e6b42a,#e8a527,#eb9623,#ed8720,#ee7a1c,#ef6e1a,#ee6517,#ec5d16,#e75714,#e25313,#de5013,#db4e12,#d94c12,#d74b12,#d54911,#d34811,#d24711,#d04511,#cf4410,#cd4310,#cc4210,#ca4110,#c9400f,#c73f0f,#c63e0f,#c53d0f,#c43c0f,#c33b0e,#c23a0e)"></i>
<i style="background:linear-gradient(90deg,#3870be,#3974c3,#397acc,#3a81d6,#3a89e1,#3b91e9,#3c99ee,#3d9eef,#3ea3ee,#3fa8e9,#41b0de,#43bcce,#47cbba,#4cdca2,#59ea88,#71ee72,#8eea61,#a4e655,#b8e24a,#cfdb3d,#dfcf33,#e4c22e,#e6b42b,#e8a527,#eb9523,#ed861f,#ee781c,#ef6d19,#ee6417,#eb5d16,#e75714,#e25313,#de5013,#db4e12,#d94c12,#d74b12,#d54911,#d44811,#d24711,#d04511,#cf4410,#cd4310,#cc4210,#ca4110,#c9400f,#c83f0f,#c63e0f,#c53d0f,#c43c0f,#c23b0e,#c23a0e)"></i>
<i style="background:linear-gradient(90deg,#3871c0,#3975c5,#397bcd,#3a82d7,#3a89e0,#3b90e7,#3c97ed,#3d9eef,#3ea2ee,#3fa7e9,#41b0de,#43bcce,#47cbba,#4cdda1,#59ea88,#72ed72,#8fea60,#a5e654,#b9e24a,#cfdb3d,#dfcf33,#e4c22e,#e6b52b,#e8a527,#eb9523,#ed851f,#ee771c,#ef6b19,#ee6317,#eb5c15,#e65714,#e15213,#de5013,#db4e12,#d94c12,#d74b12,#d54911,#d44811,#d24711,#d04511,#cf4410,#cd4310,#cc4210,#ca4110,#c9400f,#c83f0f,#c63e0f,#c53d0f,#c43c0f,#c23b0e,#c23a0e)"></i>
<i style="background:linear-gradient(90deg,#3873c2,#3976c7,#397cce,#3a82d7,#3a88df,#3b8ee6,#3c96ec,#3d9def,#3ea2ef,#3fa7e9,#41b0df,#43bcce,#47cbba,#4cdda1,#59ea87,#73ed71,#8fea60,#a5e654,#b9e24a,#d0db3d,#dfcf33,#e4c32e,#e6b52b,#e8a527,#eb9523,#ed841f,#ee761b,#ef6a19,#ed6117,#ea5b15,#e65614,#e15213,#de5013,#db4e12,#d94c12,#d74b12,#d54911,#d44811,#d24711,#d04611,#cf4410,#cd4310,#cc4210,#ca4110,#c94010,#c83f0f,#c63e0f,#c53d0f,#c43c0f,#c23b0e,#c13a0e)"></i>
<i style="background:linear-gradient(90deg,#3974c4,#3978c9,#397ccf,#3a82d7,#3a87de,#3b8de5,#3c95eb,#3d9bef,#3da1ef,#3fa7ea,#41afdf,#43bcce,#47ccb9,#4ddda0,#5aeb87,#74ed71,#90ea60,#a6e654,#b9e249,#d0db3d,#dfcf33,#e4c32e,#e6b52b,#e8a527,#eb9423,#ed831f,#ef751b,#ee6918,#ed6016,#ea5a15,#e55614,#e15213,#de5013,#db4e12,#d94c12,#d74b12,#d54911,#d44811,#d24711,#d04611,#cf4410,#cd4310,#cc4210,#ca4110,#c94010,#c83f0f,#c63e0f,#c53d0f,#c43c0f,#c23b0e,#c13a0e)"></i>
<i style="background:linear-gradient(90deg,#3976c6,#3979ca,#397dd1,#3a82d7,#3a86dd,#3b8ce3,#3c93ea,#3c9aef,#3da0ef,#3fa7ea,#41afdf,#43bcce,#47ccb9,#4ddda0,#5aeb86,#74ed70,#91ea5f,#a6e654,#b9e249,#d0db3d,#dfcf33,#e4c32e,#e6b52b,#e8a527,#eb9423,#ed821e,#ef731b,#ee6718,#ec5f16,#e95a15,#e55514,#e15213,#de4f13,#db4e12,#d94c12,#d74b12,#d54911,#d44811,#d24711,#d14611,#cf4410,#cd4310,#cc4210,#cb4110,#c94010,#c83f0f,#c63e0f,#c53d0f,#c43c0f,#c23b0e,#c13a0e)"></i>
<i style="background:linear-gradient(90deg,#3977c8,#397acc,#397ed2,#3a82d8,#3a86dc,#3b8be2,#3b92e9,#3c99ee,#3da0ef,#3fa6ea,#40afdf,#43bcce,#47ccb9,#4ddea0,#5beb86,#75ed70,#92ea5f,#a7e653,#bae249,#d0db3c,#dfcf33,#e4c32e,#e6b52b,#e8a527,#eb9323,#ed821e,#ef721b,#ee6618,#ec5e16,#e85915,#e45514,#e15213,#dd4f13,#db4e12,#d94c12,#d74b12,#d54911,#d44811,#d24711,#d14611,#cf4410,#ce4310,#cc4210,#cb4110,#c94010,#c83f0f,#c63e0f,#c53d0f,#c43c0f,#c23b0e,#c13a0e)"></i>
<i style="background:linear-gradient(90deg,#3979ca,#397cce,#3a7fd3,#3a82d8,#3a85db,#3a89e0,#3b90e7,#3c98ee,#3d9fef,#3ea6eb,#40afdf,#43bcce,#47ccb8,#4dde9f,#5beb86,#76ed6f,#92ea5f,#a7e653,#bae249,#d0db3c,#dfcf33,#e4c32e,#e6b62b,#e8a527,#eb9323,#ed811e,#ef711a,#ee6517,#eb5d16,#e85815,#e45514,#e05213,#dd4f13,#db4e12,#d94c12,#d74b12,#d54911,#d44811,#d24711,#d14611,#cf4510,#ce4310,#cc4210,#cb4110,#c94010,#c83f0f,#c63e0f,#c53d0f,#c43c0f,#c23b0e,#c13a0e)"></i>
<i style="background:linear-gradient(90deg,#397acc,#397dd0,#3a80d5,#3a83d8,#3a84da,#3a88de,#3b8fe6,#3c97ed,#3d9eef,#3ea5eb,#40afdf,#43bcce,#47ccb8,#4dde9f,#5beb85,#76ed6f,#93e95e,#a7e653,#bae249,#d0db3c,#dfcf33,#e4c32e,#e6b62b,#e8a527,#eb9322,#ed801e,#ef701a,#ed6417,#ea5c15,#e75714,#e35414,#e05113,#dd4f13,#db4e12,#d94c12,#d74b12,#d54911,#d44811,#d24711,#d14611,#cf4510,#ce4310,#cc4210,#cb4110,#c94010,#c83f0f,#c63e0f,#c53d0f,#c43c0f,#c23b0e,#c13a0e)"></i>
<i style="background:linear-gradient(90deg,#397cce,#397ed2,#3a81d6,#3a83d8,#3a84d9,#3a87dd,#3b8de4,#3c95ec,#3d9eef,#3ea5eb,#40afe0,#43bcce,#47ccb8,#4dde9f,#5ceb85,#77ed6f,#93e95e,#a8e653,#bae249,#d0da3c,#dfcf33,#e4c42e,#e6b62b,#e8a627,#eb9322,#ed7f1e,#ef6f1a,#ed6317,#ea5b15,#e65714,#e35414,#e05113,#dd4f13,#db4e12,#d94c12,#d74b12,#d54911,#d44811,#d24711,#d14611,#cf4510,#ce4310,#cc4210,#cb4110,#c94010,#c83f0f,#c63e0f,#c53d0f,#c43c0f,#c23b0e,#c13a0e)"></i>
<i style="background:linear-gradient(90deg,#397dd1,#3a80d4,#3a82d7,#3a83d9,#3a83d9,#3a85db,#3b8be2,#3c94eb,#3d9def,#3ea5eb,#40afe0,#43bcce,#47ccb8,#4dde9e,#5ceb85,#77ed6e,#94e95e,#a8e653,#bae249,#d0da3c,#dfcf33,#e4c42e,#e6b62b,#e8a627,#eb9322,#ed7f1e,#ee6e1a,#ed6117,#e95a15,#e65614,#e35314,#e05113,#dd4f13,#db4e12,#d94c12,#d74b12,#d54911,#d44811,#d24711,#d14611,#cf4510,#ce4310,#cc4210,#cb4110,#c94010,#c83f0f,#c63e0f,#c53d0f,#c43c0f,#c23b0e,#c13a0e)"></i>
<i style="background:linear-gradient(90deg,#3a7fd3,#3a81d6,#3a83d8,#3a83d9,#3a82d8,#3a84d9,#3b8ae1,#3c93ea,#3d9cef,#3ea4ec,#40aee0,#43bcce,#47ccb8,#4ddf9e,#5ceb84,#77ed6e,#94e95e,#a8e653,#bae249,#d1da3c,#dfcf33,#e4c42e,#e6b62b,#e8a627,#eb9222,#ee7e1e,#ee6d19,#ec6016,#e85915,#e55514,#e25314,#df5113,#dd4f13,#db4e12,#d94c12,#d74b12,#d54911,#d44811,#d24711,#d14611,#cf4510,#ce4310,#cc4210,#cb4110,#c94010,#c83f0f,#c63e0f,#c53d0f,#c33c0f,#c23b0e,#c13a0e)"></i>
<i style="background:linear-gradient(90deg,#3a80d5,#3a82d8,#3a84da,#3a83d9,#3a82d7,#3a83d8,#3a88df,#3b91e8,#3d9bee,#3ea4ec,#40aee0,#43bcce,#47cdb8,#4ddf9e,#5ceb84,#78ed6e,#94e95d,#a8e653,#bbe249,#d1da3c,#dfcf33,#e4c42e,#e6b72b,#e8a627,#eb9222,#ee7e1d,#ee6c19,#ec5f16,#e85815,#e45514,#e25313,#df5113,#dd4f13,#db4d12,#d94c12,#d74b12,#d54911,#d44811,#d24711,#d14611,#cf4510,#ce4310,#cc4210,#cb4110,#c94010,#c83f0f,#c63e0f,#c53d0f,#c33c0f,#c23b0e,#c13a0e)"></i>
<i style="background:linear-gradient(90deg,#3a82d7,#3a84d9,#3a85db,#3a84d9,#3a81d6,#3a81d6,#3a87dd,#3b90e7,#3c9aee,#3ea3ec,#40aee1,#43bcce,#47cdb8,#4ddf9e,#5deb84,#78ed6e,#94e95d,#a8e652,#bbe248,#d1da3c,#dfcf33,#e4c42e,#e6b72b,#e8a627,#eb9222,#ee7d1d,#ee6b19,#eb5e16,#e75814,#e45414,#e15213,#df5113,#dd4f13,#db4d12,#d94c12,#d74b12,#d54911,#d44811,#d24711,#d14611,#cf4510,#ce4310,#cc4210,#cb4110,#c94010,#c83f0f,#c63e0f,#c53d0f,#c33c0f,#c23b0e,#c13a0e)"></i>
<i style="background:linear-gradient(90deg,#3a83d9,#3a85db,#3a85dc,#3a84da,#3a81d5,#3a80d4,#3a85db,#3b8ee5,#3c99ed,#3ea2ec,#40aee1,#43bccf,#47ccb8,#4ddf9e,#5deb84,#78ed6e,#95e95d,#a9e652,#bbe248,#d1da3c,#dfcf33,#e4c42e,#e6b72b,#e8a627,#eb9322,#ee7d1d,#ee6a19,#eb5e16,#e65714,#e35414,#e15213,#df5113,#dd4f13,#db4d12,#d94c12,#d74b12,#d54911,#d44811,#d24711,#d14611,#cf4410,#ce4310,#cc4210,#cb4110,#c94010,#c83f0f,#c63e0f,#c53d0f,#c33c0f,#c23b0e,#c13a0e)"></i>
<i style="background:linear-gradient(90deg,#3a85db,#3a86dd,#3a86dd,#3a84da,#3a80d5,#3a7fd3,#3a83d8,#3b8de4,#3c98ed,#3ea2ec,#40ade1,#43bbcf,#47ccb8,#4edf9e,#5deb84,#78ed6e,#95e95d,#a9e652,#bbe248,#d1da3c,#dfcf33,#e4c42e,#e6b72b,#e8a727,#eb9322,#ed7d1d,#ee6a19,#ea5d16,#e65614,#e35314,#e15213,#df5013,#dd4f13,#db4d12,#d94c12,#d74b12,#d54911,#d44811,#d24711,#d14611,#cf4410,#cd4310,#cc4210,#ca4110,#c94010,#c83f0f,#c63e0f,#c53d0f,#c33c0f,#c23b0e,#c13a0e)"></i>
<i style="background:linear-gradient(90deg,#3a86dd,#3a87de,#3a87de,#3a84da,#3a80d4,#397ed1,#3a82d6,#3b8be2,#3c96ec,#3ea1ec,#40ade1,#43bbcf,#47ccb8,#4edf9e,#5deb84,#79ed6d,#95e95d,#a9e652,#bbe248,#d1da3c,#e0cf33,#e4c42e,#e6b72b,#e8a727,#eb9322,#ed7d1d,#ee6918,#ea5c15,#e55614,#e25313,#e05213,#df5013,#dd4f13,#db4d12,#d94c12,#d74a12,#d54911,#d44811,#d24711,#d04611,#cf4410,#cd4310,#cc4210,#ca4110,#c9400f,#c73f0f,#c63e0f,#c53d0f,#c33c0f,#c23a0e,#c13a0e)"></i>
<i style="background:linear-gradient(90deg,#3a88df,#3a88e0,#3a87df,#3a84da,#3a7fd3,#397ccf,#3a80d4,#3b8ae0,#3c95eb,#3ea0ec,#40ade2,#43bbcf,#47ccb8,#4edf9e,#5dec83,#79ed6d,#95e95d,#a9e652,#bbe248,#d1da3c,#e0cf33,#e4c42e,#e6b82b,#e8a727,#eb9323,#ed7d1d,#ed6818,#e95b15,#e45514,#e25313,#e05113,#de5013,#dd4f13,#db4d12,#d94c12,#d74a12,#d54911,#d44811,#d24711,#d04611,#cf4410,#cd4310,#cc4210,#ca4110,#c9400f,#c73f0f,#c63e0f,#c53d0f,#c33b0f,#c23a0e,#c13a0e)"></i>
<i style="background:linear-gradient(90deg,#3a89e1,#3a89e2,#3a88e0,#3a84da,#3a7fd2,#397bce,#3a7ed2,#3a88de,#3c94ea,#3da0ec,#40ace2,#43bbcf,#47ccb8,#4edf9e,#5dec83,#79ed6d,#95e95d,#a9e652,#bbe248,#d1da3c,#e0cf33,#e4c42e,#e6b82b,#e8a827,#eb9423,#ed7d1d,#ed6818,#e95b15,#e45514,#e15213,#e05113,#de5013,#dd4f13,#db4d12,#d94c12,#d74a12,#d54911,#d44811,#d24711,#d04511,#cf4410,#cd4310,#cc4210,#ca4110,#c9400f,#c73f0f,#c63e0f,#c53d0f,#c33b0f,#c23a0e,#c13a0e)"></i>
<i style="background:linear-gradient(90deg,#3b8be3,#3b8be3,#3a89e1,#3a84db,#397ed2,#397acc,#397dd0,#3a86dc,#3c93e9,#3d9fec,#40ace2,#43bbd0,#47ccb8,#4edf9e,#5dec83,#79ed6d,#95e95d,#a9e652,#bbe248,#d1da3c,#e0cf33,#e4c42e,#e6b82b,#e8a828,#eb9423,#ed7c1d,#ed6718,#e85a15,#e35414,#e15213,#df5113,#de5013,#dc4f13,#db4d12,#d94c12,#d74a12,#d54911,#d34811,#d24711,#d04511,#cf4410,#cd4310,#cc4210,#ca4110,#c9400f,#c73f0f,#c63d0f,#c43c0f,#c33b0f,#c23a0e,#c13a0e)"></i>
<i style="background:linear-gradient(90deg,#3b8ce5,#3b8ce5,#3a89e2,#3a85db,#397ed1,#3979cb,#397bce,#3a85da,#3b91e7,#3d9eec,#40abe3,#43bad0,#47ccb9,#4edf9e,#5dec83,#79ed6d,#95e95d,#a9e652,#bbe248,#d1da3c,#e0cf32,#e4c52e,#e6b82b,#e8a828,#eb9423,#ed7c1d,#ec6718,#e75915,#e25314,#e05113,#df5113,#de5013,#dc4f13,#da4d12,#d94c12,#d74a12,#d54911,#d34811,#d24711,#d04511,#cf4410,#cd4310,#cc4210,#ca4110,#c9400f,#c73e0f,#c63d0f,#c43c0f,#c33b0f,#c23a0e,#c1390e)"></i>
<i style="background:linear-gradient(90deg,#3b8de7,#3b8de6,#3b8ae2,#3a85db,#397dd1,#3978c9,#397acb,#3a83d8,#3b90e6,#3d9dec,#40abe3,#43bad0,#47ccb9,#4edf9e,#5dec83,#79ed6d,#95e95d,#a9e652,#bce248,#d2da3b,#e0cf32,#e4c52e,#e6b92c,#e8a928,#eb9523,#ed7d1d,#ec6618,#e75915,#e25314,#e05113,#df5013,#de5013,#dc4f13,#da4d12,#d84c12,#d74a12,#d54911,#d34811,#d24611,#d04511,#ce4410,#cd4310,#cb4210,#ca4110,#c83f0f,#c73e0f,#c63d0f,#c43c0f,#c33b0f,#c23a0e,#c0390e)"></i>
<i style="background:linear-gradient(90deg,#3b8fe8,#3b8ee7,#3b8be3,#3a85db,#397dd0,#3977c8,#3978c9,#3a81d5,#3b8fe5,#3d9deb,#40abe3,#43bad1,#47ccb9,#4edf9e,#5dec83,#79ed6d,#95e95d,#a9e652,#bce248,#d2da3b,#e0cf32,#e4c52e,#e6b92c,#e8a928,#eb9523,#ed7d1d,#ec6618,#e65815,#e15313,#df5113,#de5013,#de4f13,#dc4e13,#da4d12,#d84c12,#d74a12,#d54911,#d34811,#d24611,#d04511,#ce4410,#cd4310,#cb4210,#ca4110,#c83f0f,#c73e0f,#c63d0f,#c43c0f,#c33b0f,#c13a0e,#c0390e)"></i>
<i style="background:linear-gradient(90deg,#3b90ea,#3b8fe9,#3b8be4,#3a85db,#397ccf,#3976c6,#3977c7,#3a80d3,#3b8de3,#3d9ceb,#3faae3,#43bad1,#47ccb9,#4edf9e,#5dec83,#79ed6d,#95e95d,#a9e652,#bce248,#d2da3b,#e0cf32,#e4c52f,#e6b92c,#e8aa28,#ea9623,#ed7d1d,#ec6618,#e65815,#e15213,#df5013,#de5013,#dd4f13,#dc4e13,#da4d12,#d84c12,#d74a12,#d54911,#d34811,#d14611,#d04511,#ce4410,#cd4310,#cb4210,#ca4010,#c83f0f,#c73e0f,#c53d0f,#c43c0f,#c33b0f,#c13a0e,#c0390e)"></i>
<i style="background:linear-gradient(90deg,#3b91ec,#3b90ea,#3b8ce5,#3a85dc,#397ccf,#3975c5,#3975c5,#397ed1,#3b8ce2,#3d9beb,#3faae4,#43b9d1,#47cbb9,#4edf9e,#5dec83,#79ed6d,#95e95d,#a9e652,#bce248,#d2da3b,#e0cf32,#e4c52f,#e6b92c,#e8aa28,#ea9623,#ed7d1d,#eb6518,#e55714,#e05213,#df5013,#de5013,#dd4f13,#dc4e13,#da4d12,#d84c12,#d74a12,#d54911,#d34811,#d14611,#d04511,#ce4410,#cd4310,#cb4110,#ca4010,#c83f0f,#c73e0f,#c53d0f,#c43c0f,#c33b0e,#c13a0e,#c0390e)"></i>
<i style="background:linear-gradient(90deg,#3b93ed,#3b91eb,#3b8ce6,#3a85dc,#397cce,#3974c4,#3974c3,#397dcf,#3b8be0,#3d9aea,#3fa9e4,#43b9d2,#47cbba,#4ede9e,#5dec83,#79ed6d,#95e95d,#a9e652,#bce248,#d2da3b,#e0cf32,#e4c52f,#e6b92c,#e8ab28,#ea9623,#ed7d1d,#eb6518,#e55714,#e05113,#de5013,#de5013,#dd4f13,#dc4e13,#da4d12,#d84b12,#d64a12,#d54911,#d34811,#d14611,#d04511,#ce4410,#cc4210,#cb4110,#c94010,#c83f0f,#c73e0f,#c53d0f,#c43c0f,#c33b0e,#c13a0e,#c0390e)"></i>
<i style="background:linear-gradient(90deg,#3b94ee,#3b92ec,#3b8de6,#3a85dc,#397bce,#3973c3,#3873c2,#397bcd,#3b8adf,#3d99ea,#3fa9e4,#43b9d2,#47cbba,#4ede9e,#5dec83,#79ed6d,#95e95d,#a9e652,#bce148,#d2d93b,#e0cf32,#e4c52f,#e6ba2c,#e8ab28,#ea9723,#ed7d1d,#eb6518,#e55714,#e05113,#de5013,#dd4f13,#dd4f13,#dc4e13,#da4d12,#d84b12,#d64a12,#d54911,#d34711,#d14611,#d04511,#ce4410,#cc4210,#cb4110,#c94010,#c83f0f,#c63e0f,#c53d0f,#c43c0f,#c23b0e,#c13a0e,#c0390e)"></i>
<i style="background:linear-gradient(90deg,#3c95f0,#3b93ed,#3b8ee7,#3a86dc,#397bce,#3872c2,#3871c0,#397acc,#3b89de,#3c99ea,#3fa9e4,#43b9d2,#47cbba,#4ede9e,#5dec83,#79ed6d,#95e95d,#a9e652,#bce148,#d2d93b,#e0cf32,#e4c52f,#e6ba2c,#e8ab28,#ea9724,#ec7d1d,#eb6517,#e45614,#df5113,#de5013,#dd4f13,#dd4f13,#dc4e12,#da4d12,#d84b12,#d64a12,#d54911,#d34711,#d14611,#cf4511,#ce4410,#cc4210,#cb4110,#c94010,#c83f0f,#c63e0f,#c53d0f,#c43c0f,#c23b0e,#c13a0e,#c0390e)"></i>
<i style="background:linear-gradient(90deg,#3c96f1,#3b93ee,#3b8ee8,#3a86dd,#397bcd,#3872c1,#3870be,#3979ca,#3a88dd,#3c98e9,#3fa8e5,#43b9d2,#47cbba,#4ede9e,#5dec83,#79ed6d,#95e95d,#a9e652,#bce148,#d2d93b,#e0cf32,#e4c52f,#e6ba2c,#e8ac28,#ea9824,#ec7d1d,#ea6417,#e45614,#df5113,#dd4f13,#dd4f13,#dd4f13,#dc4e12,#da4d12,#d84b12,#d64a12,#d54911,#d34711,#d14611,#cf4511,#ce4310,#cc4210,#cb4110,#c94010,#c83f0f,#c63e0f,#c53d0f,#c43c0f,#c23b0e,#c13a0e,#c0390e)"></i>
<i style="background:linear-gradient(90deg,#3c97f2,#3b94ef,#3b8fe9,#3a86dd,#397bcd,#3871c0,#386fbd,#3978c9,#3a87db,#3c98e9,#3fa8e5,#43b8d3,#47cbba,#4ede9e,#5dec83,#79ed6d,#95e95d,#a9e652,#bce148,#d2d93b,#e0cf32,#e4c52f,#e6ba2c,#e8ac28,#ea9824,#ec7d1d,#ea6417,#e45614,#df5113,#dd4f13,#dd4f13,#dd4f13,#dc4e12,#da4d12,#d84b12,#d64a12,#d44911,#d34711,#d14611,#cf4510,#ce4310,#cc4210,#ca4110,#c94010,#c83f0f,#c63e0f,#c53d0f,#c43c0f,#c23b0e,#c13a0e,#c0390e)"></i>
<i style="background:linear-gradient(90deg,#3c98f3,#3c95f0,#3b8fe9,#3a86dd,#397bcd,#3871bf,#386fbc,#3977c7,#3a86da,#3c97e8,#3fa8e5,#42b8d3,#47cbba,#4ede9e,#5eec83,#79ed6d,#95e95d,#a9e652,#bce148,#d3d93b,#e0cf32,#e4c52f,#e6ba2c,#e7ac29,#ea9824,#ec7e1d,#ea6417,#e45614,#df5113,#dd4f13,#dd4f13,#dd4f13,#dc4e12,#da4d12,#d84b12,#d64a12,#d44911,#d34711,#d14611,#cf4510,#cd4310,#cc4210,#ca4110,#c9400f,#c73f0f,#c63e0f,#c53d0f,#c33c0f,#c23b0e,#c13a0e,#c0390e)"></i>
<i style="background:linear-gradient(90deg,#3c99f3,#3c96f1,#3b90ea,#3a87de,#397bcd,#3870bf,#386ebb,#3976c6,#3a85da,#3c97e8,#3fa7e5,#42b8d3,#47cbba,#4ede9e,#5eec83,#79ed6d,#95e95d,#a9e652,#bce148,#d3d93b,#e0cf32,#e4c52f,#e6ba2c,#e7ad29,#ea9924,#ec7e1d,#ea6417,#e45614,#df5113,#dd4f13,#dd4f13,#dd4f13,#dc4e12,#da4d12,#d84b12,#d64a12,#d44911,#d34711,#d14611,#cf4410,#cd4310,#cc4210,#ca4110,#c9400f,#c73f0f,#c63e0f,#c53d0f,#c33c0f,#c23b0e,#c13a0e,#c0390e)"></i>
<i style="background:linear-gradient(90deg,#3c99f4,#3c96f2,#3b90eb,#3a87de,#397bcd,#3870be,#386dbb,#3975c5,#3a85d9,#3c96e8,#3fa7e5,#42b8d3,#47cbbb,#4ede9e,#5eec83,#79ed6d,#95e95d,#a9e652,#bce147,#d3d93b,#e0cf32,#e4c52f,#e6ba2c,#e7ad29,#ea9924,#ec7e1d,#ea6417,#e45614,#df5113,#dd4f13,#dd4f13,#dd4f13,#dc4e12,#da4d12,#d84b12,#d64a12,#d44811,#d34711,#d14611,#cf4410,#cd4310,#cc4210,#ca4110,#c9400f,#c73f0f,#c63e0f,#c53d0f,#c33c0f,#c23b0e,#c13a0e,#c0390e)"></i>
<i style="background:linear-gradient(90deg,#3c9af4,#3c97f2,#3b91eb,#3a87de,#397bcd,#3870be,#386dba,#3975c5,#3a84d8,#3c96e8,#3fa7e5,#42b8d3,#47cabb,#4ede9e,#5eec83,#79ed6d,#95e95d,#a9e652,#bde147,#d3d93b,#e0ce32,#e4c52f,#e6bb2c,#e7ad29,#ea9924,#ec7e1e,#ea6518,#e45614,#df5113,#de5013,#dd4f13,#dd4f13,#dc4e12,#da4d12,#d84b12,#d64a12,#d44811,#d24711,#d14611,#cf4410,#cd4310,#cc4210,#ca4110,#c9400f,#c73f0f,#c63e0f,#c53d0f,#c33c0f,#c23b0e,#c13a0e,#c0390e)"></i>
<i style="background:linear-gradient(90deg,#3c9bf5,#3c98f3,#3b91ec,#3a88df,#397bce,#3870be,#386dba,#3975c5,#3a84d8,#3c96e8,#3fa7e5,#42b8d3,#47cbbb,#4ede9e,#5eec83,#79ed6d,#95e95d,#a9e652,#bde147,#d3d93b,#e0ce32,#e4c52f,#e6bb2c,#e7ad29,#ea9a24,#ec7f1e,#ea6518,#e45714,#df5113,#de5013,#dd4f13,#dd4f13,#dc4e12,#da4d12,#d84b12,#d64a12,#d44811,#d24711,#d14611,#cf4410,#cd4310,#cc4210,#ca4110,#c9400f,#c73f0f,#c63e0f,#c43c0f,#c33c0f,#c23b0e,#c13a0e,#c0390e)"></i>
<i style="background:linear-gradient(90deg,#3c9bf5,#3c98f3,#3b92ed,#3a88e0,#397cce,#3870be,#386dba,#3975c4,#3a84d8,#3c96e8,#3fa7e5,#42b8d3,#47cbba,#4ede9e,#5eec83,#79ed6d,#95e95d,#a9e652,#bde147,#d3d93a,#e0ce32,#e4c52f,#e6bb2c,#e7ad29,#ea9a24,#ec7f1e,#ea6518,#e45714,#e05213,#de5013,#dd4f13,#dd4f13,#dc4e12,#da4d12,#d84b12,#d64a12,#d44811,#d24711,#d14611,#cf4410,#cd4310,#cc4210,#ca4110,#c9400f,#c73f0f,#c63d0f,#c43c0f,#c33b0f,#c23b0e,#c13a0e,#c0390e)"></i>
<i style="background:linear-gradient(90deg,#3c9cf5,#3c99f4,#3b92ed,#3a89e0,#397ccf,#3871bf,#386dba,#3975c4,#3a84d8,#3c96e8,#3fa7e5,#42b8d3,#47cbba,#4edf9e,#5eec82,#79ed6d,#95e95d,#a9e652,#bde147,#d3d93a,#e0ce32,#e4c52f,#e6bb2c,#e7ad29,#ea9a24,#ec7f1e,#ea6618,#e55815,#e05213,#df5113,#de5013,#dd4f13,#dc4e12,#da4d12,#d84b12,#d64a12,#d44811,#d24711,#d04611,#cf4410,#cd4310,#cc4210,#ca4110,#c9400f,#c73e0f,#c63d0f,#c43c0f,#c33b0f,#c23b0e,#c13a0e,#c0390e)"></i>
<i style="background:linear-gradient(90deg,#3c9cf5,#3c99f4,#3b93ee,#3a89e1,#397ccf,#3871bf,#386dbb,#3975c5,#3a84d8,#3c96e8,#3fa7e5,#42b8d3,#47cbba,#4edf9e,#5eec82,#7aed6d,#95e95d,#a9e652,#bde147,#d4d93a,#e0ce32,#e4c52e,#e6bb2c,#e7ad29,#ea9a24,#ec801e,#eb6718,#e55915,#e15314,#df5113,#de5013,#dd4f13,#dc4e12,#da4d12,#d84b12,#d64a12,#d44811,#d24711,#d04611,#cf4410,#cd4310,#cb4210,#ca4110,#c9400f,#c73e0f,#c63d0f,#c43c0f,#c33b0f,#c23b0e,#c13a0e,#c0390e)"></i>
<i style="background:linear-gradient(90deg,#3c9df5,#3c9af4,#3b94ee,#3b8ae2,#397dd0,#3872c0,#386ebb,#3975c5,#3a84d9,#3c96e8,#3fa7e5,#42b8d3,#47cbba,#4edf9d,#5eec82,#7aed6d,#95e95d,#a9e652,#bde147,#d4d83a,#e1ce32,#e4c52e,#e6bb2c,#e7ad29,#ea9a24,#ec801e,#eb6718,#e65915,#e25414,#e05213,#df5013,#dd4f13,#dc4e12,#da4d12,#d84b12,#d64a12,#d44811,#d24711,#d04611,#cf4410,#cd4310,#cb4210,#ca4110,#c9400f,#c73e0f,#c63d0f,#c43c0f,#c33b0f,#c23b0e,#c13a0e,#c0390e)"></i>
<i style="background:linear-gradient(90deg,#3d9df5,#3c9af4,#3b94ef,#3b8ae3,#397ed1,#3872c1,#386fbc,#3976c6,#3a85d9,#3c96e8,#3fa7e5,#43b8d3,#47cbba,#4edf9d,#5fec82,#7aed6c,#95e95d,#a9e552,#bee147,#d4d83a,#e1ce32,#e4c52e,#e6bb2c,#e7ad29,#ea9a24,#ec801e,#eb6818,#e75b15,#e35514,#e15213,#df5113,#dd4f13,#dc4e13,#da4d12,#d84b12,#d64a12,#d44811,#d24711,#d04611,#cf4410,#cd4310,#cb4210,#ca4110,#c8400f,#c73e0f,#c63d0f,#c43c0f,#c33b0f,#c23a0e,#c13a0e,#c0390e)"></i>
<i style="background:linear-gradient(90deg,#3d9df5,#3c9bf5,#3c95f0,#3b8be4,#3a7fd2,#3973c2,#386fbd,#3977c7,#3a85da,#3c97e8,#3fa8e5,#43b8d2,#47cbb9,#4edf9d,#5fec82,#7aed6c,#95e95d,#aae552,#bee147,#d4d83a,#e1ce32,#e4c52e,#e6bb2c,#e7ad29,#ea9a24,#ec811e,#ec6919,#e75c15,#e45614,#e15314,#e05113,#de5013,#dc4e13,#da4d12,#d84b12,#d64a12,#d44811,#d24711,#d04511,#cf4410,#cd4310,#cb4210,#ca4110,#c8400f,#c73e0f,#c63d0f,#c43c0f,#c33b0f,#c23a0e,#c13a0e,#c0390e)"></i>
<i style="background:linear-gradient(90deg,#3d9ef5,#3c9bf5,#3c95f0,#3b8ce5,#3a7fd3,#3974c4,#3870bf,#3977c8,#3a86db,#3c97e8,#3fa8e5,#43b9d2,#47cbb9,#4edf9d,#5fec81,#7aed6c,#96e95d,#aae552,#bee147,#d4d83a,#e1ce32,#e4c42e,#e6bb2c,#e7ad29,#ea9b24,#ec811e,#ec6a19,#e85d16,#e55714,#e25414,#e05213,#de5013,#dc4e13,#da4d12,#d84b12,#d64a12,#d44811,#d24711,#d04511,#cf4410,#cd4310,#cb4210,#ca4110,#c8400f,#c73e0f,#c63d0f,#c43c0f,#c33b0f,#c23a0e,#c13a0e,#c0390e)"></i>
<i style="background:linear-gradient(90deg,#3d9ef5,#3c9bf5,#3c96f1,#3b8de6,#3a80d5,#3975c5,#3872c0,#3978ca,#3a87db,#3c98e9,#3fa8e4,#43b9d2,#47ccb9,#4fe09c,#5fec81,#7bed6c,#96e95d,#aae552,#bee147,#d4d83a,#e1ce32,#e4c42e,#e6bb2c,#e7ad29,#ea9b24,#ec821e,#ec6c19,#e95f16,#e65815,#e35514,#e15213,#de5013,#dc4e13,#da4d12,#d84b12,#d64a12,#d44811,#d24711,#d04511,#cf4410,#cd4310,#cb4210,#ca4110,#c8400f,#c73e0f,#c63d0f,#c43c0f,#c33b0f,#c23a0e,#c13a0e,#c0390e)"></i>
<i style="background:linear-gradient(90deg,#3d9ef5,#3c9cf5,#3c96f1,#3b8ee7,#3a81d6,#3976c7,#3873c2,#397acb,#3a87dc,#3c98e9,#3fa9e4,#43b9d1,#47ccb8,#4fe09c,#60ec81,#7bed6c,#96e95c,#aae552,#bee146,#d5d83a,#e1cd32,#e4c42e,#e6ba2c,#e7ad29,#ea9b24,#ec831f,#ec6d19,#ea6016,#e75a15,#e45614,#e15313,#df5013,#dc4f13,#da4d12,#d84b12,#d64a12,#d44811,#d24711,#d04511,#cf4410,#cd4310,#cb4210,#ca4110,#c8400f,#c73e0f,#c63d0f,#c43c0f,#c33b0f,#c23a0e,#c13a0e,#c0390e)"></i>
<i style="background:linear-gradient(90deg,#3d9ef5,#3c9cf5,#3c97f2,#3b8ee8,#3a83d8,#3978c9,#3974c4,#397bcd,#3a88de,#3c99e9,#3fa9e4,#43bad1,#47ccb8,#4fe09b,#60ec81,#7bed6c,#96e95c,#aae551,#bfe146,#d5d83a,#e1cd32,#e4c42e,#e6ba2c,#e7ad29,#ea9b24,#ec831f,#ed6e1a,#ea6217,#e85b15,#e55714,#e25314,#df5113,#dc4f13,#da4d12,#d84b12,#d64a12,#d44811,#d24711,#d04511,#cf4410,#cd4310,#cb4210,#ca4110,#c8400f,#c73e0f,#c63d0f,#c43c0f,#c33b0f,#c23a0e,#c13a0e,#c0390e)"></i>
<i style="background:linear-gradient(90deg,#3d9ff5,#3c9cf5,#3c98f2,#3b8fe9,#3a84d9,#3979cb,#3975c6,#397ccf,#3b89df,#3d99ea,#3fa9e4,#43bad1,#47cdb8,#4fe09b,#60ec80,#7ced6b,#96e95c,#aae551,#bfe146,#d5d839,#e1cd31,#e4c42e,#e6ba2c,#e7ad29,#ea9b24,#ec841f,#ed6f1a,#eb6417,#e95d16,#e65815,#e35414,#df5113,#dd4f13,#da4d12,#d84b12,#d64a12,#d44811,#d24711,#d04511,#cf4410,#cd4310,#cb4210,#ca4110,#c8400f,#c73e0f,#c63d0f,#c43c0f,#c33b0f,#c23a0e,#c13a0e,#c0390e)"></i>
<i style="background:linear-gradient(90deg,#3d9ff5,#3d9df5,#3c98f3,#3b90ea,#3a85db,#397acd,#3977c8,#397dd0,#3b8be0,#3d9aea,#3faae3,#43bad0,#47cdb7,#4fe19b,#60ec80,#7ced6b,#97e95c,#abe551,#bfe046,#d5d839,#e1cd31,#e4c42e,#e6ba2c,#e7ad29,#ea9b24,#ec841f,#ed711a,#ec6518,#ea5e16,#e75915,#e35414,#e05113,#dd4f13,#da4d12,#d84b12,#d64a12,#d44811,#d24711,#d04511,#cf4410,#cd4310,#cb4210,#ca4110,#c8400f,#c73e0f,#c63d0f,#c43c0f,#c33b0f,#c23a0e,#c13a0e,#c0390e)"></i>
<i style="background:linear-gradient(90deg,#3d9ff4,#3d9df5,#3c99f3,#3b91eb,#3a86dd,#397ccf,#3979ca,#3a7fd2,#3b8ce1,#3d9bea,#40aae3,#43bbd0,#48cdb6,#4fe19a,#61ec80,#7ced6b,#97e95c,#abe551,#bfe046,#d5d739,#e1cd31,#e4c42e,#e6ba2c,#e7ad29,#ea9b24,#ec851f,#ed721b,#ec6718,#eb6016,#e85a15,#e45514,#e05113,#dd4f13,#da4d12,#d84b12,#d64a12,#d44811,#d24711,#d04511,#cf4410,#cd4310,#cb4210,#ca4110,#c8400f,#c73e0f,#c63d0f,#c43c0f,#c33b0f,#c23a0e,#c13a0e,#c0390e)"></i>
<i style="background:linear-gradient(90deg,#3d9ff4,#3d9df5,#3c99f3,#3b92ec,#3a88de,#397dd1,#397acc,#3a80d4,#3b8de3,#3d9cea,#40abe2,#43bbcf,#48ceb6,#4fe19a,#61ed80,#7ced6b,#97e95c,#abe551,#bfe046,#d5d739,#e1cd31,#e4c42e,#e6ba2c,#e7ad29,#ea9b24,#ec861f,#ee741b,#ed6918,#eb6117,#e95b15,#e55514,#e05213,#dd4f13,#da4d12,#d84b12,#d64a12,#d44811,#d24711,#d04511,#cf4410,#cd4310,#cb4210,#ca4110,#c8400f,#c73e0f,#c63d0f,#c43c0f,#c33b0f,#c23a0e,#c13a0e,#c0390e)"></i>
<i style="background:linear-gradient(90deg,#3d9ff4,#3d9ef5,#3c9af4,#3b93ed,#3a89e0,#3a7fd3,#397ccf,#3a82d6,#3b8ee4,#3d9dea,#40abe2,#43bcce,#48ceb5,#4fe199,#61ed7f,#7ded6b,#97e95c,#abe551,#c0e046,#d6d739,#e1cd31,#e4c42e,#e6ba2c,#e7ad29,#ea9b24,#ec861f,#ee751b,#ed6a19,#ec6317,#ea5c15,#e55614,#e15213,#dd4f13,#da4d12,#d84b12,#d64a12,#d44811,#d24711,#d04511,#cf4410,#cd4310,#cb4210,#ca4110,#c8400f,#c73e0f,#c63d0f,#c43c0f,#c33b0f,#c23a0e,#c13a0e,#c0390e)"></i>
<i style="background:linear-gradient(90deg,#3d9ff4,#3d9ef5,#3c9af4,#3b94ee,#3b8ae2,#3a81d5,#397ed1,#3a84d8,#3b8fe5,#3d9deb,#40ace1,#43bcce,#48cfb5,#50e299,#61ed7f,#7ded6b,#98e95c,#abe551,#c0e046,#d6d739,#e1cd31,#e4c32e,#e6ba2c,#e7ac29,#ea9b24,#ec8720,#ee761c,#ee6c19,#ed6417,#ea5d16,#e65614,#e15213,#dd4f13,#da4d12,#d84b12,#d64a12,#d44811,#d24711,#d04511,#cf4410,#cd4310,#cb4210,#ca4110,#c8400f,#c73e0f,#c63d0f,#c43c0f,#c33b0f,#c23a0e,#c13a0e,#c0390e)"></i>
<i style="background:linear-gradient(90deg,#3da0f4,#3d9ef5,#3c9bf4,#3c95ef,#3b8ce4,#3a82d7,#3a80d3,#3a85da,#3b91e6,#3d9eeb,#40ade1,#44bdcd,#48cfb4,#50e298,#61ed7f,#7ded6a,#98e95b,#abe551,#c0e046,#d6d739,#e1cc31,#e4c32e,#e6b92c,#e8ac29,#ea9b24,#ec8720,#ee771c,#ee6d19,#ed6618,#eb5e16,#e65714,#e15213,#dd4f13,#da4d12,#d84b12,#d64912,#d44811,#d24711,#d04511,#cf4410,#cd4310,#cb4210,#ca4110,#c83f0f,#c73e0f,#c63d0f,#c43c0f,#c33b0f,#c23a0e,#c13a0e,#c0390e)"></i>
<i style="background:linear-gradient(90deg,#3da0f4,#3d9ef5,#3c9bf4,#3c96f0,#3b8de5,#3a84da,#3a81d6,#3a87dc,#3c92e7,#3d9fea,#40ade0,#44bdcc,#48d0b3,#50e298,#62ed7e,#7eed6a,#98e95b,#ace551,#c0e045,#d6d739,#e1cc31,#e4c32e,#e6b92c,#e8ac28,#ea9b24,#ec8720,#ee781c,#ee6f1a,#ee6718,#ec5e16,#e75714,#e15213,#dd4f13,#da4d12,#d84b12,#d64912,#d44811,#d24711,#d04511,#ce4410,#cd4310,#cb4210,#ca4110,#c83f0f,#c73e0f,#c63d0f,#c43c0f,#c33b0f,#c23a0e,#c13a0e,#c0390e)"></i>
<i style="background:linear-gradient(90deg,#3da0f3,#3d9ff4,#3c9cf5,#3c97f1,#3b8ee7,#3a86dc,#3a83d8,#3b89de,#3c94e8,#3ea0ea,#40aedf,#44becb,#48d0b3,#50e397,#62ed7e,#7eed6a,#98e95b,#ace551,#c0e045,#d6d739,#e1cc31,#e4c32e,#e6b92c,#e8ac28,#ea9b24,#ec8820,#ee791c,#ee701a,#ee6818,#ec5f16,#e75815,#e25313,#dd4f13,#da4d12,#d84b12,#d64911,#d44811,#d24711,#d04511,#ce4410,#cd4310,#cb4210,#ca4110,#c83f0f,#c73e0f,#c63d0f,#c43c0f,#c33b0f,#c23a0e,#c13a0e,#c0390e)"></i>
<i style="background:linear-gradient(90deg,#3da0f3,#3d9ff4,#3c9cf5,#3c97f1,#3b90e8,#3a87de,#3a85da,#3b8be0,#3c95e9,#3ea1ea,#40afde,#44bfcb,#48d1b2,#50e397,#62ed7e,#7eed6a,#98e95b,#ace551,#c0e045,#d6d739,#e1cc31,#e4c32e,#e6b92c,#e8ac28,#ea9a24,#ec8820,#ee7a1c,#ef711a,#ef6918,#ed6016,#e85815,#e25313,#dd4f13,#da4d12,#d84b12,#d64911,#d44811,#d24611,#d04511,#ce4410,#cd4310,#cb4210,#ca4110,#c83f0f,#c73e0f,#c63d0f,#c43c0f,#c33b0f,#c23a0e,#c13a0e,#c0390e)"></i>
<i style="background:linear-gradient(90deg,#3da0f3,#3d9ff4,#3d9df5,#3c98f2,#3b91ea,#3a89e0,#3a87dd,#3b8ce2,#3c97ea,#3ea2e9,#41b0de,#44bfca,#48d1b1,#50e396,#62ed7e,#7eed6a,#98e95b,#ace551,#c0e045,#d6d739,#e1cc31,#e4c32e,#e6b92c,#e8ab28,#ea9a24,#ec8820,#ee7b1d,#ef721b,#ef6a19,#ed6016,#e85815,#e25313,#dd4f13,#da4d12,#d84b12,#d54911,#d34811,#d24611,#d04511,#ce4410,#cd4310,#cb4210,#ca4110,#c83f0f,#c73e0f,#c63d0f,#c43c0f,#c33b0f,#c23a0e,#c13a0e,#c0390e)"></i>
<i style="background:linear-gradient(90deg,#3da0f3,#3d9ff4,#3d9df5,#3c99f2,#3b92eb,#3b8be2,#3a89df,#3b8ee4,#3c98ea,#3ea4e9,#41b0dd,#44c0c9,#49d2b0,#50e496,#62ed7d,#7eec6a,#98e85b,#ace551,#c0e045,#d6d739,#e1cc31,#e4c32e,#e6b82b,#e8ab28,#ea9a24,#ec8820,#ee7b1d,#ef731b,#ef6a19,#ed6117,#e85915,#e25313,#dd4f13,#da4d12,#d84b12,#d54911,#d34811,#d24611,#d04511,#ce4410,#cd4310,#cb4210,#ca4010,#c83f0f,#c73e0f,#c53d0f,#c43c0f,#c33b0f,#c23a0e,#c1390e,#c0390e)"></i>
<i style="background:linear-gradient(90deg,#3da0f3,#3d9ff4,#3d9df5,#3c9af3,#3b93ec,#3b8de4,#3b8be1,#3b90e5,#3d9aea,#3ea5e8,#41b1db,#44c1c8,#49d3af,#51e495,#63ed7d,#7eec6a,#99e85b,#ace551,#c1e045,#d6d738,#e2cc31,#e4c22e,#e6b82b,#e8ab28,#ea9a24,#ec8920,#ee7c1d,#ef731b,#ef6b19,#ee6117,#e85915,#e25313,#dd4f13,#da4d12,#d84b12,#d54911,#d34811,#d14611,#d04511,#ce4410,#cd4310,#cb4210,#ca4010,#c83f0f,#c73e0f,#c53d0f,#c43c0f,#c33b0f,#c23a0e,#c0390e,#c0390e)"></i>
<i style="background:linear-gradient(90deg,#3da1f3,#3da0f4,#3d9ef4,#3c9af3,#3c95ed,#3b8ee6,#3b8de3,#3b92e7,#3d9beb,#3fa6e7,#41b2da,#45c2c6,#49d3af,#51e595,#63ee7d,#7fec6a,#99e85b,#ace550,#c1e045,#d6d638,#e2cc31,#e4c22e,#e6b82b,#e8aa28,#ea9a24,#ec8920,#ee7c1d,#ef741b,#ef6b19,#ee6117,#e85915,#e25313,#dd4f13,#da4d12,#d74b12,#d54911,#d34811,#d14611,#d04511,#ce4410,#cd4310,#cb4110,#ca4010,#c83f0f,#c73e0f,#c53d0f,#c43c0f,#c33b0f,#c23a0e,#c0390e,#c0390e)"></i>
<i style="background:linear-gradient(90deg,#3da1f2,#3da0f3,#3d9ef4,#3c9bf3,#3c96ee,#3b90e8,#3b8ee5,#3c93e8,#3d9deb,#3fa7e6,#41b4d9,#45c3c5,#49d4ae,#51e594,#63ee7d,#7fec69,#99e85b,#ace550,#c1e045,#d6d638,#e2cc31,#e4c22e,#e6b82b,#e8aa28,#ea9924,#ec8920,#ee7c1d,#ef741b,#ef6b19,#ee6117,#e85915,#e25313,#dd4f13,#da4d12,#d74b12,#d54911,#d34811,#d14611,#d04511,#ce4410,#cc4310,#cb4110,#c94010,#c83f0f,#c73e0f,#c53d0f,#c43c0f,#c33b0f,#c13a0e,#c0390e,#bf390e)"></i>
<i style="background:linear-gradient(90deg,#3da1f2,#3da0f3,#3d9ff4,#3c9cf3,#3c97ef,#3b91e9,#3b90e6,#3c95e9,#3d9eea,#3fa9e5,#42b5d7,#45c4c4,#49d5ad,#51e594,#63ee7c,#7fec69,#99e85b,#ace550,#c1e045,#d6d638,#e2cb31,#e4c22e,#e6b72b,#e8aa28,#ea9924,#ec8820,#ee7c1d,#ef741b,#ef6b19,#ee6117,#e85915,#e25313,#dd4f13,#da4d12,#d74b12,#d54911,#d34711,#d14611,#cf4511,#ce4410,#cc4210,#cb4110,#c94010,#c83f0f,#c63e0f,#c53d0f,#c43c0f,#c33b0e,#c13a0e,#c0390e,#bf390e)"></i>
<i style="background:linear-gradient(90deg,#3da1f2,#3da0f3,#3d9ff4,#3d9df3,#3c98f0,#3c93ea,#3c92e8,#3c97e9,#3ea0ea,#3faae4,#42b6d6,#45c5c3,#49d6ac,#51e693,#63ee7c,#7fec69,#99e85b,#ace550,#c1e045,#d6d638,#e2cb31,#e4c22e,#e6b72b,#e8a928,#ea9924,#ec8820,#ee7c1d,#ef741b,#f06b19,#ee6117,#e85915,#e25313,#dd4f13,#da4d12,#d74b12,#d54911,#d34711,#d14611,#cf4510,#ce4310,#cc4210,#cb4110,#c94010,#c83f0f,#c63e0f,#c53d0f,#c43c0f,#c23b0e,#c13a0e,#c0390e,#bf380e)"></i>
<i style="background:linear-gradient(90deg,#3da1f2,#3da0f3,#3d9ff4,#3d9df3,#3c99f0,#3c95ec,#3c94e9,#3c99ea,#3ea1e9,#40abe2,#42b7d4,#45c6c1,#4ad6ab,#51e692,#63ee7c,#7fed69,#99e85b,#ace550,#c1e045,#d6d638,#e2cb31,#e5c22e,#e6b72b,#e8a928,#ea9824,#ec8820,#ee7c1d,#ef741b,#f06b19,#ee6117,#e85915,#e25313,#dd4f13,#da4c12,#d74a12,#d54911,#d34711,#d14611,#cf4510,#ce4310,#cc4210,#cb4110,#c94010,#c83f0f,#c63e0f,#c53d0f,#c33c0f,#c23b0e,#c13a0e,#c0390e,#bf380e)"></i>
<i style="background:linear-gradient(90deg,#3da1f2,#3da1f3,#3da0f3,#3d9ef3,#3c9af1,#3c96ed,#3c96ea,#3d9bea,#3ea3e8,#40ade1,#43b8d3,#46c7c0,#4ad7aa,#51e792,#63ee7c,#7fed69,#99e85b,#ace550,#c1e045,#d7d638,#e2cb31,#e5c12e,#e6b62b,#e8a828,#ea9824,#ec8820,#ee7c1d,#ef741b,#f06b19,#ee6117,#e85815,#e25313,#dd4f13,#d94c12,#d74a12,#d44911,#d24711,#d14611,#cf4410,#cd4310,#cc4210,#ca4110,#c9400f,#c73f0f,#c63e0f,#c53d0f,#c33c0f,#c23b0e,#c13a0e,#c0390e,#bf380e)"></i>
<i style="background:linear-gradient(90deg,#3da1f2,#3da1f2,#3da0f3,#3d9ef3,#3c9bf1,#3c98ed,#3c98eb,#3d9dea,#3ea5e7,#40aedf,#43bad1,#46c8be,#4ad8a8,#52e791,#63ee7c,#7fed69,#99e85b,#ace550,#c1e045,#d7d638,#e2cb31,#e5c12e,#e6b62b,#e8a827,#ea9723,#ec8720,#ee7c1d,#ef731b,#f06a19,#ed6016,#e85815,#e15213,#dd4f13,#d94c12,#d74a12,#d44811,#d24711,#d04611,#cf4410,#cd4310,#cc4210,#ca4110,#c9400f,#c73f0f,#c63d0f,#c43c0f,#c33b0f,#c23b0e,#c13a0e,#c0390e,#bf380e)"></i>
<i style="background:linear-gradient(90deg,#3da1f2,#3da1f2,#3da0f3,#3d9ff3,#3d9cf1,#3c99ee,#3c99ec,#3d9eea,#3fa6e6,#41b0dd,#43bbcf,#46c9bd,#4ad9a7,#52e791,#63ee7b,#7fed69,#99e85b,#ace550,#c1e045,#d7d638,#e2cb31,#e5c12e,#e6b52b,#e8a727,#ea9723,#ed8720,#ee7b1d,#ef731b,#ef6a19,#ed6016,#e85815,#e15213,#dc4f13,#d94c12,#d64a12,#d44811,#d24711,#d04511,#cf4410,#cd4310,#cb4210,#ca4110,#c8400f,#c73e0f,#c63d0f,#c43c0f,#c33b0f,#c23a0e,#c0390e,#bf390e,#be380e)"></i>
<i style="background:linear-gradient(90deg,#3da1f2,#3da1f2,#3da0f2,#3d9ff3,#3d9df1,#3d9bee,#3d9bec,#3ea0ea,#3fa8e5,#41b1db,#43bdcd,#47cabb,#4adaa6,#52e890,#64ee7b,#7fed69,#99e85b,#ace550,#c1e045,#d7d638,#e2cb31,#e5c12d,#e6b52b,#e8a627,#ea9623,#ed861f,#ee7b1d,#ef721b,#ef6918,#ed6016,#e75814,#e15213,#dc4e13,#d94c12,#d64a12,#d44811,#d24711,#d04511,#ce4410,#cd4310,#cb4210,#ca4010,#c83f0f,#c73e0f,#c53d0f,#c43c0f,#c33b0f,#c13a0e,#c0390e,#bf380e,#be380e)"></i>
<i style="background:linear-gradient(90deg,#3da1f1,#3da1f2,#3da1f2,#3da0f2,#3d9ef1,#3d9cee,#3d9dec,#3ea2e9,#3faae3,#41b3d9,#44becb,#47ccb9,#4bdba5,#52e890,#64ee7b,#7fed69,#99e85b,#ace550,#c1e045,#d6d638,#e2cb31,#e5c02d,#e6b42a,#e8a627,#eb9523,#ed861f,#ee7a1d,#ef721a,#ef6918,#ed5f16,#e75714,#e15213,#dc4e13,#d94c12,#d64a12,#d44811,#d24611,#d04511,#ce4410,#cd4310,#cb4110,#ca4010,#c83f0f,#c73e0f,#c53d0f,#c43c0f,#c33b0e,#c13a0e,#c0390e,#bf380e,#be380e)"></i>
<i style="background:linear-gradient(90deg,#3da2f1,#3da1f2,#3da1f2,#3da0f2,#3d9ff1,#3d9dee,#3d9fec,#3ea3e8,#40abe2,#42b5d7,#44c0c9,#47cdb8,#4bdba4,#52e98f,#64ef7b,#7fed69,#99e85b,#ace550,#c1e045,#d6d638,#e2cb31,#e5c02d,#e7b32a,#e8a527,#eb9423,#ed851f,#ee7a1c,#ef711a,#ef6818,#ec5f16,#e65714,#e05213,#dc4e12,#d84c12,#d64a12,#d34811,#d14611,#d04511,#ce4410,#cc4210,#cb4110,#c94010,#c83f0f,#c63e0f,#c53d0f,#c43c0f,#c23b0e,#c13a0e,#c0390e,#bf380e,#be370e)"></i>
<i style="background:linear-gradient(90deg,#3da2f1,#3da1f1,#3da1f2,#3da1f1,#3da0f0,#3d9fee,#3ea0ec,#3ea5e8,#40ade0,#42b6d6,#44c1c7,#47ceb6,#4bdca3,#52e98e,#64ef7b,#7fed69,#99e85b,#ace550,#c1e045,#d6d638,#e2cb31,#e5bf2d,#e7b32a,#e9a426,#eb9423,#ed841f,#ee791c,#ef701a,#ef6718,#ec5e16,#e65714,#e05113,#db4e12,#d84b12,#d54911,#d34811,#d14611,#cf4511,#ce4310,#cc4210,#cb4110,#c94010,#c83f0f,#c63e0f,#c53d0f,#c33c0f,#c23b0e,#c13a0e,#c0390e,#be380e,#be370e)"></i>
<i style="background:linear-gradient(90deg,#3da2f1,#3da2f1,#3da2f1,#3da1f1,#3da1f0,#3da0ee,#3ea2eb,#3fa7e6,#40aedf,#42b8d4,#45c2c5,#48cfb4,#4bdda1,#52e98e,#64ef7b,#7fed69,#99e85b,#ace550,#c1e045,#d6d638,#e2cb31,#e5bf2d,#e7b22a,#e9a326,#eb9222,#ed841f,#ee781c,#ef6f1a,#ef6618,#ec5d16,#e65614,#e05113,#db4e12,#d84b12,#d54911,#d34711,#d14611,#cf4510,#cd4310,#cc4210,#ca4110,#c9400f,#c73f0f,#c63e0f,#c43c0f,#c33b0f,#c23a0e,#c1390e,#bf390e,#be380e,#bd370e)"></i>
<i style="background:linear-gradient(90deg,#3ea2f1,#3da2f1,#3ea2f1,#3ea2f0,#3ea2ef,#3ea1ed,#3ea3ea,#3fa8e5,#41b0dd,#43b9d2,#45c4c3,#48d0b3,#4bdea0,#52ea8d,#64ef7a,#7fed69,#99e85b,#ace551,#c1e045,#d6d638,#e2ca31,#e5bf2d,#e7b12a,#e9a126,#eb9122,#ed831f,#ee771c,#ef6e1a,#ef6618,#eb5d16,#e55614,#df5113,#db4d12,#d84b12,#d54911,#d34711,#d14611,#cf4410,#cd4310,#cc4210,#ca4110,#c9400f,#c73e0f,#c63d0f,#c43c0f,#c33b0f,#c23a0e,#c0390e,#bf380e,#be380e,#bd370e)"></i>
<i style="background:linear-gradient(90deg,#3ea2f1,#3ea2f1,#3ea2f1,#3ea2f0,#3ea2ef,#3ea2ed,#3ea5ea,#3faae4,#41b1db,#43bbd0,#45c5c2,#48d2b1,#4cdf9f,#53ea8d,#64ef7a,#7fed69,#99e85b,#ace551,#c1e045,#d6d638,#e2ca31,#e5be2d,#e7b029,#e9a026,#eb9022,#ed811e,#ee761c,#ef6d19,#ee6517,#eb5c15,#e55514,#df5013,#db4d12,#d74b12,#d54911,#d24711,#d04611,#cf4410,#cd4310,#cb4210,#ca4110,#c83f0f,#c73e0f,#c53d0f,#c43c0f,#c33b0e,#c13a0e,#c0390e,#bf380e,#be370e,#bd370e)"></i>
<i style="background:linear-gradient(90deg,#3ea2f1,#3ea2f1,#3ea2f0,#3ea3ef,#3ea3ee,#3ea4ec,#3fa6e9,#40abe3,#41b3da,#43bcce,#46c7c0,#48d3b0,#4ce09e,#53eb8c,#64ef7a,#7fed69,#99e85b,#ace551,#c1e045,#d6d638,#e2ca31,#e5bd2d,#e7af29,#e99e25,#eb8e21,#ed801e,#ee751b,#ef6c19,#ee6417,#ea5b15,#e45514,#de5013,#da4d12,#d74b12,#d54911,#d24711,#d04511,#ce4410,#cd4310,#cb4210,#ca4010,#c83f0f,#c73e0f,#c53d0f,#c43c0f,#c23b0e,#c13a0e,#c0390e,#bf380e,#bd370e,#bd370e)"></i>
<i style="background:linear-gradient(90deg,#3ea2f1,#3ea2f1,#3ea3f0,#3ea3ef,#3ea4ed,#3ea5eb,#3fa7e8,#40ace1,#42b4d8,#44bdcc,#46c8be,#49d4ae,#4ce09d,#53eb8c,#64ef7a,#7fed69,#99e85b,#ace551,#c0e045,#d6d638,#e2ca31,#e5bd2d,#e7ad29,#e99d25,#eb8d21,#ed7f1e,#ee741b,#ee6b19,#ed6317,#e95b15,#e35414,#de5013,#da4d12,#d74a12,#d44811,#d24711,#d04511,#ce4410,#cc4310,#cb4110,#c94010,#c83f0f,#c63e0f,#c53d0f,#c33c0f,#c23b0e,#c13a0e,#c0390e,#be380e,#bd370e,#bc360e)"></i>
<i style="background:linear-gradient(90deg,#3ea2f1,#3ea2f0,#3ea3f0,#3ea4ee,#3ea4ed,#3ea6ea,#3fa8e7,#40aee0,#42b5d6,#44bfca,#46c9bc,#49d5ad,#4ce19c,#53eb8b,#64ef7a,#7fed69,#99e85b,#ace551,#c0e045,#d6d639,#e2ca30,#e5bc2c,#e7ac28,#e99b24,#eb8b21,#ec7d1d,#ed721b,#ee6a19,#ed6117,#e95a15,#e35414,#de4f13,#da4d12,#d74a12,#d44811,#d24711,#d04511,#ce4410,#cc4210,#cb4110,#c94010,#c83f0f,#c63e0f,#c53d0f,#c33c0f,#c23b0e,#c13a0e,#bf390e,#be380e,#bd370e,#bc360d)"></i>
<i style="background:linear-gradient(90deg,#3ea2f1,#3ea2f0,#3ea3ef,#3ea4ee,#3ea5ec,#3fa7ea,#3fa9e6,#40afdf,#42b7d5,#44c0c9,#47cabb,#49d6ab,#4ce29b,#53ec8a,#64ef79,#7fed69,#99e85b,#ace551,#c0e045,#d6d639,#e2c930,#e5bb2c,#e8aa28,#e99824,#eb8920,#ec7b1d,#ed711a,#ed6818,#ec6016,#e85915,#e25314,#dd4f13,#d94c12,#d64a12,#d44811,#d24611,#d04511,#ce4310,#cc4210,#ca4110,#c9400f,#c73f0f,#c63e0f,#c43c0f,#c33b0f,#c23a0e,#c0390e,#bf380e,#be370e,#bd370e,#bc360d)"></i>
<i style="background:linear-gradient(90deg,#3ea2f1,#3ea2f0,#3ea3ef,#3ea4ed,#3ea6eb,#3fa7e9,#40abe4,#41b0dd,#42b8d3,#44c1c7,#47cbb9,#49d7aa,#4ce39a,#53ec8a,#65ef79,#7fed69,#99e85b,#ace551,#c0e045,#d6d639,#e2c930,#e5ba2c,#e8a828,#e99623,#eb861f,#ec791c,#ed6f1a,#ed6718,#eb5f16,#e75815,#e15313,#dd4f13,#d94c12,#d64a12,#d44811,#d14611,#cf4511,#cd4310,#cc4210,#ca4110,#c9400f,#c73f0f,#c63d0f,#c43c0f,#c33b0f,#c13a0e,#c0390e,#bf380e,#be370e,#bc360e,#bc360d)"></i>
<i style="background:linear-gradient(90deg,#3ea2f0,#3ea3f0,#3ea3ef,#3ea5ed,#3fa6eb,#3fa8e8,#40ace3,#41b1dc,#43b9d2,#45c2c6,#47ccb8,#4ad8a9,#4de399,#53ec89,#65f079,#7fed69,#99e85b,#ace551,#c0e045,#d6d639,#e2c930,#e6b92c,#e8a627,#e99323,#eb831f,#ec771c,#ec6d19,#ec6518,#ea5e16,#e65714,#e15213,#dc4e13,#d94c12,#d64a12,#d34811,#d14611,#cf4510,#cd4310,#cc4210,#ca4110,#c9400f,#c73e0f,#c63d0f,#c43c0f,#c33b0f,#c13a0e,#c0390e,#bf380e,#bd370e,#bc360d,#bb360d)"></i>
<i style="background:linear-gradient(90deg,#3ea2f0,#3ea3f0,#3ea4ee,#3ea5ec,#3fa7ea,#3fa9e7,#40ade2,#41b2db,#43bad1,#45c3c5,#47cdb7,#4ad9a8,#4de498,#54ed89,#65f079,#80ed69,#99e85b,#ace551,#c0e045,#d6d639,#e2c830,#e6b72b,#e8a427,#e99022,#ea801e,#eb741b,#eb6b19,#eb6317,#e95c16,#e55614,#e05113,#dc4e12,#d84b12,#d64911,#d34811,#d14611,#cf4410,#cd4310,#cb4210,#ca4110,#c83f0f,#c73e0f,#c53d0f,#c43c0f,#c23b0e,#c13a0e,#c0390e,#be380e,#bd370e,#bc360d,#bb350d)"></i>
<i style="background:linear-gradient(90deg,#3ea2f0,#3ea3f0,#3ea4ee,#3ea6ec,#3fa7e9,#3faae6,#40ade1,#41b3da,#43bbd0,#45c4c3,#47ceb6,#4ad9a7,#4de498,#54ed89,#65f079,#80ed69,#99e85b,#ace551,#c0e045,#d6d639,#e2c830,#e6b62b,#e8a126,#e98d21,#ea7d1d,#ea721b,#eb6919,#ea6217,#e85b15,#e45514,#df5113,#db4e12,#d84b12,#d54911,#d34711,#d14611,#cf4410,#cd4310,#cb4210,#ca4010,#c83f0f,#c73e0f,#c53d0f,#c43c0f,#c23b0e,#c13a0e,#c0390e,#be380e,#bd370e,#bc360d,#bb350d)"></i>
<i style="background:linear-gradient(90deg,#3ea2f0,#3ea3ef,#3ea4ee,#3ea6ec,#3fa8e9,#3faae5,#40aee0,#42b4d9,#43bcce,#45c5c2,#48cfb4,#4adaa6,#4de597,#54ed88,#65f078,#80ed69,#99e85b,#ace551,#c0e046,#d5d639,#e2c730,#e6b42b,#e89f25,#e98a20,#e97a1d,#ea6f1a,#ea6718,#e96016,#e75a15,#e35414,#de5013,#da4d12,#d74b12,#d54911,#d34711,#d14611,#cf4410,#cd4310,#cb4110,#c94010,#c83f0f,#c63e0f,#c53d0f,#c43c0f,#c23b0e,#c13a0e,#bf390e,#be380e,#bd370e,#bc360d,#bb350d)"></i>
<i style="background:linear-gradient(90deg,#3ea2f0,#3ea3ef,#3ea4ee,#3ea6eb,#3fa8e8,#40abe4,#40afdf,#42b5d8,#43bccd,#45c6c1,#48d0b3,#4adba5,#4de596,#54ee88,#65f078,#80ed68,#99e85b,#ace551,#c0e046,#d5d639,#e2c630,#e6b22a,#e99c25,#e9861f,#e9771c,#e96c19,#e96418,#e85e16,#e65815,#e25314,#de5013,#da4d12,#d74b12,#d54911,#d34711,#d04611,#ce4410,#cd4310,#cb4110,#c94010,#c83f0f,#c63e0f,#c53d0f,#c33c0f,#c23b0e,#c1390e,#bf380e,#be370e,#bd360e,#bb360d,#ba350d)"></i>
<i style="background:linear-gradient(90deg,#3ea2f0,#3ea3ef,#3ea5ed,#3fa7eb,#3fa9e7,#40ace4,#41b0de,#42b6d7,#44bdcc,#46c6c0,#48d1b3,#4adba4,#4de696,#54ee87,#66f078,#80ed68,#99e85b,#ace551,#c0e046,#d5d639,#e2c630,#e7b02a,#e99824,#e9821f,#e8731b,#e86919,#e86217,#e75c16,#e55714,#e15313,#dd4f13,#d94c12,#d74a12,#d44911,#d24711,#d04511,#ce4410,#cc4210,#cb4110,#c94010,#c83f0f,#c63e0f,#c53d0f,#c33c0f,#c23a0e,#c0390e,#bf380e,#be370e,#bc360e,#bb350d,#ba350d)"></i>
<i style="background:linear-gradient(90deg,#3ea2f0,#3ea3ef,#3ea5ed,#3fa7ea,#3fa9e7,#40ace3,#41b0dd,#42b6d6,#44becc,#46c7bf,#48d1b2,#4adca3,#4de695,#54ee87,#66f078,#80ed68,#99e85b,#ace551,#c0e046,#d5d639,#e2c530,#e7ae29,#e99523,#e97f1e,#e76f1a,#e76618,#e76016,#e55a15,#e35614,#e05213,#dc4e13,#d94c12,#d64a12,#d44811,#d24711,#d04511,#ce4410,#cc4210,#cb4110,#c94010,#c83f0f,#c63e0f,#c53d0f,#c33b0f,#c23a0e,#c0390e,#bf380e,#bd370e,#bc360d,#bb350d,#ba350d)"></i>
<i style="background:linear-gradient(90deg,#3ea2f0,#3ea3ef,#3ea5ed,#3fa7ea,#3faae6,#40ade2,#41b1dd,#42b7d5,#44becb,#46c8bf,#48d2b1,#4bdda3,#4ee794,#55ee86,#66f078,#80ed68,#99e85b,#ace550,#c0e046,#d5d639,#e2c42f,#e7ac29,#e99222,#e87b1d,#e66c19,#e66417,#e55e16,#e45915,#e25414,#df5113,#db4e12,#d84c12,#d64a12,#d44811,#d24711,#d04511,#ce4410,#cc4210,#ca4110,#c9400f,#c73f0f,#c63e0f,#c43c0f,#c33b0f,#c13a0e,#c0390e,#bf380e,#bd370e,#bc360d,#bb350d,#ba340d)"></i>
<i style="background:linear-gradient(90deg,#3ea2f0,#3ea3ef,#3ea5ed,#3fa7e9,#3faae6,#40ade2,#41b2dc,#42b8d4,#44bfca,#46c8be,#48d2b0,#4bdda2,#4ee794,#55ef86,#66f077,#80ed68,#99e85b,#ace550,#c0e046,#d5d639,#e2c32f,#e7aa28,#e98e21,#e8771c,#e56818,#e56117,#e45b15,#e35714,#e15314,#de5013,#db4d12,#d84b12,#d64911,#d44811,#d24611,#d04511,#ce4310,#cc4210,#ca4110,#c9400f,#c73f0f,#c63d0f,#c43c0f,#c33b0f,#c13a0e,#c0390e,#bf380e,#bd370e,#bc360d,#bb350d,#ba340d)"></i>
<i style="background:linear-gradient(90deg,#3ea2f0,#3ea3ef,#3ea5ec,#3fa8e9,#3faae5,#40aee1,#41b2db,#42b8d3,#44c0c9,#46c9bd,#48d3b0,#4bdea1,#4ee893,#55ef86,#67f077,#80ed68,#99e85b,#ace550,#c0e046,#d5d639,#e2c22f,#e8a727,#e98b21,#e7731b,#e46518,#e35e16,#e35915,#e25514,#e05213,#dd4f13,#da4d12,#d74b12,#d54911,#d34811,#d14611,#d04511,#ce4310,#cc4210,#ca4110,#c9400f,#c73e0f,#c63d0f,#c43c0f,#c33b0f,#c13a0e,#c0390e,#be380e,#bd370e,#bc360d,#ba350d,#b9340d)"></i>
<i style="background:linear-gradient(90deg,#3ea2f0,#3ea4ef,#3ea5ec,#3fa8e9,#40abe5,#40aee0,#41b3da,#43b9d2,#44c0c8,#46c9bd,#49d3af,#4bdea1,#4ee893,#55ef85,#67f077,#81ed68,#99e85b,#ace550,#c0e046,#d5d539,#e2c12f,#e8a527,#e98720,#e76f1a,#e36217,#e25b15,#e25715,#e05414,#df5113,#dc4e13,#d94c12,#d74a12,#d54911,#d34711,#d14611,#cf4511,#cd4310,#cc4210,#ca4110,#c8400f,#c73e0f,#c63d0f,#c43c0f,#c33b0e,#c13a0e,#c0390e,#be380e,#bd370e,#bb360d,#ba350d,#b9340d)"></i>
<i style="background:linear-gradient(90deg,#3ea2f0,#3ea4ee,#3ea6ec,#3fa8e8,#40abe4,#40afe0,#41b3da,#43b9d2,#44c1c8,#46cabc,#49d4ae,#4bdea0,#4ee892,#56ef85,#67f077,#81ed68,#99e85b,#ace550,#c0e046,#d5d539,#e2bf2e,#e8a226,#e9841f,#e66c19,#e25f16,#e15915,#e05614,#df5313,#de5013,#db4e12,#d94c12,#d64a12,#d44911,#d34711,#d14611,#cf4510,#cd4310,#cb4210,#ca4110,#c83f0f,#c73e0f,#c53d0f,#c43c0f,#c23b0e,#c13a0e,#c0390e,#be380e,#bd370e,#bb360d,#ba340d,#b9340d)"></i>
<i style="background:linear-gradient(90deg,#3ea2f0,#3ea4ee,#3ea6ec,#3fa8e8,#40ace4,#40afdf,#41b4d9,#43bad1,#44c1c7,#46cabb,#49d4ae,#4bdfa0,#4ee992,#56ef84,#68f076,#81ec68,#99e85b,#ace550,#c0e045,#d5d539,#e3be2e,#e8a026,#e9811e,#e56919,#e15c16,#e05714,#df5414,#de5113,#dd4f13,#da4d12,#d84b12,#d64a12,#d44811,#d24711,#d14611,#cf4410,#cd4310,#cb4210,#ca4010,#c83f0f,#c73e0f,#c53d0f,#c43c0f,#c23b0e,#c13a0e,#bf390e,#be380e,#bd360e,#bb350d,#ba340d,#b9340d)"></i>
<i style="background:linear-gradient(90deg,#3ea2f0,#3ea4ee,#3ea6eb,#3fa9e8,#40ace4,#41b0df,#42b4d8,#43bad0,#45c2c7,#47cabb,#49d4ad,#4bdf9f,#4ee991,#56ef84,#68f076,#81ec68,#99e85b,#ade550,#c0e045,#d5d439,#e3bd2e,#e99d25,#e97d1d,#e56618,#e05915,#df5514,#de5213,#dd5013,#dc4f13,#da4d12,#d84b12,#d64911,#d44811,#d24711,#d14611,#cf4410,#cd4310,#cb4210,#ca4010,#c83f0f,#c73e0f,#c53d0f,#c43c0f,#c23b0e,#c13a0e,#bf390e,#be370e,#bc360e,#bb350d,#ba340d,#b8330d)"></i>
<i style="background:linear-gradient(90deg,#3ea3f0,#3ea4ee,#3ea6eb,#3fa9e7,#40ace3,#41b0de,#42b5d8,#43bbd0,#45c2c6,#47cbba,#49d5ad,#4bdf9f,#4fe991,#57ef84,#68f076,#81ec67,#99e85b,#ade550,#c0e045,#d5d439,#e3bb2d,#e99b24,#e97a1d,#e46317,#df5715,#de5314,#dd5113,#dc5013,#db4e12,#d94c12,#d74b12,#d54911,#d34811,#d24711,#d04511,#cf4410,#cd4310,#cb4110,#c94010,#c83f0f,#c73e0f,#c53d0f,#c43c0f,#c23b0e,#c13a0e,#bf380e,#be370e,#bc360d,#bb350d,#b9340d,#b8330d)"></i>
<i style="background:linear-gradient(90deg,#3ea3f0,#3ea4ee,#3ea6eb,#3fa9e7,#40ace3,#41b0de,#42b5d7,#43bbcf,#45c2c5,#47cbba,#49d5ac,#4be09e,#4fe991,#57f083,#69f075,#82ec67,#99e85b,#ade550,#c1e045,#d5d438,#e3ba2d,#e99824,#e9781c,#e46017,#df5514,#dd5213,#dc5013,#dc4f13,#db4d12,#d94c12,#d74a12,#d54911,#d34811,#d24611,#d04511,#ce4410,#cd4310,#cb4110,#c94010,#c83f0f,#c63e0f,#c53d0f,#c43c0f,#c23b0e,#c1390e,#bf380e,#be370e,#bc360d,#bb350d,#b9340d,#b8330d)"></i>
<i style="background:linear-gradient(90deg,#3ea3f0,#3ea4ee,#3fa6eb,#3fa9e7,#40ade2,#41b1dd,#42b5d7,#43bbcf,#45c3c5,#47cbb9,#49d5ac,#4be09e,#4fea90,#57f083,#69f075,#82ec67,#9ae85a,#ade550,#c1e045,#d6d338,#e3b92d,#e99623,#e9751b,#e35e16,#de5414,#dc5113,#dc4f13,#db4e12,#da4d12,#d84c12,#d64a12,#d54911,#d34711,#d14611,#d04511,#ce4410,#cc4210,#cb4110,#c94010,#c83f0f,#c63e0f,#c53d0f,#c33c0f,#c23b0e,#c0390e,#bf380e,#bd370e,#bc360d,#ba350d,#b9340d,#b8330d)"></i>
<i style="background:linear-gradient(90deg,#3ea3f0,#3ea4ee,#3fa6eb,#3fa9e7,#40ade2,#41b1dd,#42b6d6,#43bcce,#45c3c4,#47ccb9,#49d6ac,#4be09e,#4fea90,#58f082,#6af075,#82ec67,#9ae85a,#ade550,#c1e045,#d6d338,#e4b82c,#e99423,#e9731b,#e35c16,#dd5213,#dc5013,#db4f13,#db4e12,#da4d12,#d84b12,#d64a12,#d44911,#d34711,#d14611,#d04511,#ce4410,#cc4210,#cb4110,#c94010,#c83f0f,#c63e0f,#c53d0f,#c33c0f,#c23a0e,#c0390e,#bf380e,#bd370e,#bc360d,#ba350d,#b9340d,#b8330d)"></i>
<i style="background:linear-gradient(90deg,#3ea2f0,#3ea4ee,#3fa7eb,#3faae6,#40ade2,#41b1dc,#42b6d6,#43bcce,#45c4c4,#47ccb9,#49d6ab,#4ce09d,#4fea90,#58f082,#6af075,#83ec67,#9ae85a,#aee550,#c2e044,#d6d238,#e4b72c,#ea9222,#e9711a,#e25b15,#dd5113,#db4f13,#db4e12,#da4d12,#d94c12,#d84b12,#d64a12,#d44811,#d24711,#d14611,#cf4511,#ce4410,#cc4210,#ca4110,#c94010,#c83f0f,#c63e0f,#c53d0f,#c33c0f,#c23a0e,#c0390e,#bf380e,#bd370e,#bc360d,#ba350d,#b9330d,#b7330d)"></i>
<i style="background:linear-gradient(90deg,#3ea2f0,#3ea4ee,#3fa7ea,#3faae6,#40ade1,#41b2dc,#42b7d5,#43bdcd,#45c4c3,#47ccb8,#49d6ab,#4ce19d,#4fea8f,#58f082,#6bf074,#83ec67,#9ae85a,#aee54f,#c2df44,#d7d238,#e4b62c,#ea9122,#e96f1a,#e25a15,#dd5113,#db4e13,#da4d12,#da4d12,#d94c12,#d84b12,#d64a12,#d44811,#d24711,#d14611,#cf4511,#ce4310,#cc4210,#ca4110,#c9400f,#c73f0f,#c63e0f,#c53d0f,#c33b0f,#c23a0e,#c0390e,#bf380e,#bd370e,#bb360d,#ba340d,#b8330d,#b7320d)"></i>
<i style="background:linear-gradient(90deg,#3ea2f0,#3ea4ee,#3fa7ea,#3faae6,#40aee1,#41b2dc,#42b7d5,#44bdcd,#45c4c3,#47cdb8,#49d6ab,#4ce19d,#4fea8f,#59f081,#6bf074,#83ec66,#9ae85a,#aee54f,#c3df44,#d7d137,#e4b52c,#ea8f22,#e96e1a,#e25915,#dc5013,#db4e12,#da4d12,#da4d12,#d94c12,#d84b12,#d64a12,#d44811,#d24711,#d14611,#cf4510,#ce4310,#cc4210,#ca4110,#c9400f,#c73f0f,#c63e0f,#c43c0f,#c33b0f,#c13a0e,#c0390e,#be380e,#bd370e,#bb360d,#ba340d,#b8330d,#b7320d)"></i>
<i style="background:linear-gradient(90deg,#3ea2f0,#3ea4ee,#3fa7ea,#3faae6,#40aee1,#41b2db,#42b7d4,#44bdcc,#45c5c3,#47cdb7,#49d7ab,#4ce19d,#50ea8f,#59f081,#6cf074,#84ec66,#9ae85a,#afe54f,#c3df44,#d7d137,#e4b42b,#ea8e21,#e96d19,#e25815,#dc5013,#da4e12,#da4d12,#da4d12,#d94c12,#d74b12,#d64911,#d44811,#d24711,#d04611,#cf4410,#cd4310,#cc4210,#ca4110,#c9400f,#c73f0f,#c63e0f,#c43c0f,#c33b0f,#c13a0e,#c0390e,#be380e,#bd370e,#bb350d,#ba340d,#b8330d,#b7320d)"></i>
<i style="background:linear-gradient(90deg,#3ea2f0,#3ea4ee,#3fa7ea,#3faae6,#40aee1,#41b2db,#42b8d4,#44becc,#45c5c2,#47cdb7,#49d7aa,#4ce19c,#50eb8e,#5af081,#6cf073,#84ec66,#9be85a,#afe44f,#c4df44,#d8d137,#e4b32b,#ea8d21,#e96c19,#e25815,#dd5013,#da4d12,#da4d12,#d94c12,#d94c12,#d74b12,#d54911,#d44811,#d24711,#d04511,#cf4410,#cd4310,#cb4210,#ca4110,#c9400f,#c73f0f,#c63d0f,#c43c0f,#c33b0f,#c13a0e,#c0390e,#be380e,#bd370e,#bb350d,#b9340d,#b8330d,#b7320d)"></i>
<i style="background:linear-gradient(90deg,#3ea2f0,#3ea4ee,#3fa7ea,#3faae6,#40aee0,#41b3da,#42b8d4,#44becb,#45c5c2,#47cdb7,#49d7aa,#4ce19c,#50eb8e,#5af080,#6df073,#85ec66,#9be85a,#afe44f,#c4df43,#d8d037,#e5b32b,#ea8c21,#e96c19,#e35815,#dd5013,#db4d12,#da4d12,#d94c12,#d94c12,#d74b12,#d54911,#d34811,#d24711,#d04511,#cf4410,#cd4310,#cb4210,#ca4110,#c83f0f,#c73e0f,#c63d0f,#c43c0f,#c33b0f,#c13a0e,#c0390e,#be380e,#bc360e,#bb350d,#b9340d,#b8330d,#b6320d)"></i>
<i style="background:linear-gradient(90deg,#3ea2f0,#3ea4ee,#3fa7ea,#3faae5,#40aee0,#41b3da,#42b8d3,#44becb,#45c6c1,#47ceb6,#49d7aa,#4ce19c,#50eb8e,#5af080,#6eef72,#85ec65,#9be859,#b0e44e,#c4df43,#d8d036,#e5b22b,#ea8c21,#e96c19,#e35815,#de5013,#db4e12,#da4d12,#d94c12,#d94c12,#d74b12,#d54911,#d34811,#d24611,#d04511,#cf4410,#cd4310,#cb4210,#ca4010,#c83f0f,#c73e0f,#c63d0f,#c43c0f,#c33b0e,#c13a0e,#c0390e,#be380e,#bc360e,#bb350d,#b9340d,#b7330d,#b6320d)"></i>
<i style="background:linear-gradient(90deg,#3ea2f0,#3ea4ee,#3fa7ea,#3faae5,#40afe0,#41b3da,#43b8d3,#44bfca,#46c6c1,#47ceb6,#49d7aa,#4ce19c,#50eb8e,#5bf080,#6eef72,#86ec65,#9ce859,#b0e44e,#c5df43,#d8d036,#e5b22b,#ea8c21,#ea6c19,#e45915,#de5113,#db4e12,#da4d12,#d94c12,#d84c12,#d74b12,#d54911,#d34811,#d24611,#d04511,#ce4410,#cd4310,#cb4210,#ca4010,#c83f0f,#c73e0f,#c53d0f,#c43c0f,#c23b0e,#c13a0e,#bf390e,#be370e,#bc360d,#bb350d,#b9340d,#b7320d,#b6310c)"></i>
<i style="background:linear-gradient(90deg,#3ea2f1,#3ea4ee,#3fa7ea,#3fabe5,#40afe0,#41b3da,#43b9d2,#44bfca,#46c6c1,#47ceb6,#49d7aa,#4ce19c,#50eb8d,#5bf07f,#6fef72,#86ec65,#9ce859,#b1e44e,#c5de42,#d9cf36,#e5b12b,#ea8c21,#ea6c19,#e45a15,#df5113,#dc4e12,#da4d12,#d94c12,#d84c12,#d74a12,#d54911,#d34811,#d14611,#d04511,#ce4410,#cd4310,#cb4110,#c94010,#c83f0f,#c73e0f,#c53d0f,#c43c0f,#c23b0e,#c13a0e,#bf390e,#be370e,#bc360d,#ba350d,#b9340d,#b7320d,#b6310c)"></i>
<i style="background:linear-gradient(90deg,#3ea2f1,#3ea4ee,#3fa7ea,#3fabe5,#40afe0,#41b4d9,#43b9d2,#44bfca,#46c6c0,#47ceb6,#49d7a9,#4ce29c,#50eb8d,#5cf07f,#70ef71,#87ec64,#9de859,#b1e44e,#c6de42,#d9cf36,#e5b12b,#eb8c21,#ea6d1a,#e55b15,#e05213,#dc4f13,#da4d12,#d94c12,#d84c12,#d74a12,#d54911,#d34811,#d14611,#d04511,#ce4410,#cd4310,#cb4110,#c94010,#c83f0f,#c73e0f,#c53d0f,#c43c0f,#c23b0e,#c13a0e,#bf380e,#be370e,#bc360d,#ba350d,#b9330d,#b7320d,#b5310c)"></i>
<i style="background:linear-gradient(90deg,#3ea2f1,#3ea4ee,#3fa7ea,#3fabe5,#40afdf,#42b4d9,#43b9d2,#44c0c9,#46c7c0,#47cfb5,#49d8a9,#4ce29c,#51eb8d,#5cf07e,#71ef71,#88eb64,#9ee858,#b2e44d,#c6de42,#d9cf36,#e5b12b,#eb8c21,#eb6e1a,#e65c16,#e15314,#dd4f13,#db4d12,#d94c12,#d84b12,#d74a12,#d54911,#d34811,#d14611,#d04511,#ce4410,#cd4310,#cb4110,#c94010,#c83f0f,#c73e0f,#c53d0f,#c43c0f,#c23b0e,#c13a0e,#bf380e,#bd370e,#bc360d,#ba350d,#b8330d,#b7320d,#b5310c)"></i>
<i style="background:linear-gradient(90deg,#3ea2f1,#3ea4ee,#3fa7ea,#40abe5,#40afdf,#42b4d9,#43b9d1,#44c0c9,#46c7bf,#47cfb5,#49d8a9,#4ce29c,#51eb8d,#5df07e,#71ef70,#89eb64,#9ee858,#b2e44d,#c7de42,#dacf36,#e5b12a,#eb8d21,#eb6f1a,#e75d16,#e25414,#dd5013,#db4d12,#d94c12,#d84b12,#d74a12,#d54911,#d34711,#d14611,#d04511,#ce4410,#cd4310,#cb4110,#c94010,#c83f0f,#c63e0f,#c53d0f,#c43c0f,#c23b0e,#c0390e,#bf380e,#bd370e,#bc360d,#ba340d,#b8330d,#b6320d,#b5310c)"></i>
<i style="background:linear-gradient(90deg,#3da2f1,#3ea4ee,#3fa7ea,#40abe5,#41afdf,#42b4d8,#43bad1,#44c0c9,#46c7bf,#48cfb5,#4ad8a9,#4ce29c,#51eb8d,#5ef07e,#72ef70,#89eb63,#9fe758,#b3e44d,#c7de41,#dace35,#e5b12a,#eb8d21,#eb701a,#e85f16,#e35514,#de5013,#db4e12,#d94c12,#d84b12,#d64a12,#d54911,#d34711,#d14611,#d04511,#ce4410,#cc4310,#cb4110,#c94010,#c83f0f,#c63e0f,#c53d0f,#c33c0f,#c23b0e,#c0390e,#bf380e,#bd370e,#bb360d,#ba340d,#b8330d,#b6320d,#b5310c)"></i>
<i style="background:linear-gradient(90deg,#3da1f1,#3ea4ee,#3fa7ea,#40abe5,#41afdf,#42b4d8,#43bad1,#44c0c8,#46c7bf,#48cfb5,#4ad8a9,#4ce29b,#51eb8c,#5ef07d,#73ef6f,#8aeb63,#a0e757,#b4e44c,#c8de41,#dace35,#e5b02a,#eb8e21,#ec721b,#e96016,#e45614,#df5113,#dc4e12,#da4c12,#d84b12,#d64a12,#d54911,#d34711,#d14611,#d04511,#ce4410,#cc4210,#ca4110,#c9400f,#c83f0f,#c63e0f,#c53d0f,#c33c0f,#c23a0e,#c0390e,#bf380e,#bd370e,#bb360d,#ba340d,#b8330d,#b6320d,#b5300c)"></i>
<i style="background:linear-gradient(90deg,#3da1f2,#3ea4ef,#3fa7ea,#40abe5,#41b0df,#42b5d8,#43bad0,#44c1c8,#46c8be,#48cfb4,#4ad8a9,#4ce29b,#51eb8c,#5ff07d,#74ee6f,#8beb62,#a0e757,#b5e34c,#c9dd41,#dacd35,#e5b02a,#eb8f21,#ec731b,#e96217,#e55714,#e05213,#dc4e13,#da4c12,#d84b12,#d64a12,#d44911,#d34711,#d14611,#d04511,#ce4410,#cc4210,#ca4110,#c9400f,#c73f0f,#c63e0f,#c53d0f,#c33c0f,#c23a0e,#c0390e,#bf380e,#bd370e,#bb350d,#b9340d,#b8330d,#b6310c,#b4300c)"></i>
<i style="background:linear-gradient(90deg,#3da1f2,#3ea3ef,#3fa7ea,#40abe5,#41b0df,#42b5d8,#43bad0,#44c1c7,#46c8be,#48cfb4,#4ad8a9,#4ce29b,#52eb8c,#5ff07d,#75ee6e,#8ceb62,#a1e756,#b5e34b,#c9dd40,#dbcd35,#e6b02a,#eb8f22,#ec751b,#ea6317,#e65915,#e05213,#dc4f13,#da4d12,#d84b12,#d64a12,#d44911,#d34711,#d14611,#cf4511,#ce4410,#cc4210,#ca4110,#c9400f,#c73f0f,#c63e0f,#c53d0f,#c33b0f,#c23a0e,#c0390e,#be380e,#bd370e,#bb350d,#b9340d,#b7330d,#b6310c,#b4300c)"></i>
<i style="background:linear-gradient(90deg,#3da1f2,#3ea3ef,#3fa7ea,#40abe5,#41b0de,#42b5d8,#43bbd0,#44c1c7,#46c8be,#48d0b4,#4ad8a9,#4ce29b,#52eb8c,#60f07c,#76ee6e,#8dea61,#a2e756,#b6e34b,#cadd40,#dbcc34,#e6af2a,#eb9022,#ec761c,#eb6518,#e75a15,#e15313,#dd4f13,#da4d12,#d84b12,#d64a12,#d44811,#d34711,#d14611,#cf4511,#ce4410,#cc4210,#ca4110,#c9400f,#c73f0f,#c63e0f,#c43c0f,#c33b0f,#c13a0e,#c0390e,#be380e,#bd360e,#bb350d,#b9340d,#b7320d,#b5310c,#b4300c)"></i>
<i style="background:linear-gradient(90deg,#3da1f2,#3ea3ef,#3fa7ea,#40abe5,#41b0de,#42b5d7,#43bbd0,#45c1c7,#46c8bd,#48d0b4,#4ad8a9,#4ce29b,#52eb8c,#61f07c,#77ee6d,#8eea60,#a3e755,#b7e34a,#cbdc3f,#dccc34,#e6af2a,#eb9022,#ed771c,#ec6618,#e85b15,#e25414,#dd4f13,#da4d12,#d84b12,#d64a12,#d44811,#d24711,#d14611,#cf4511,#ce4410,#cc4210,#ca4110,#c83f0f,#c73e0f,#c63d0f,#c43c0f,#c33b0f,#c13a0e,#c0390e,#be380e,#bc360e,#bb350d,#b9340d,#b7320d,#b5310c,#b4300c)"></i>
<i style="background:linear-gradient(90deg,#3da1f2,#3ea3ef,#3fa7ea,#40abe5,#41b0de,#42b5d7,#43bbcf,#45c2c6,#46c9bd,#48d0b3,#4ad8a8,#4ce29b,#52eb8b,#61f07b,#78ee6d,#8fea60,#a4e655,#b8e34a,#ccdc3f,#dccb34,#e6ae2a,#eb9022,#ed781c,#ec6818,#e95c16,#e35414,#de5013,#da4d12,#d84b12,#d64a12,#d44811,#d24711,#d14611,#cf4510,#ce4310,#cc4210,#ca4110,#c83f0f,#c73e0f,#c63d0f,#c43c0f,#c33b0f,#c13a0e,#c0390e,#be380e,#bc360d,#bb350d,#b9340d,#b7320d,#b5310c,#b4300c)"></i>
<i style="background:linear-gradient(90deg,#3da1f3,#3ea3ef,#3fa7ea,#40abe5,#41b0de,#42b5d7,#43bbcf,#45c2c6,#46c9bd,#48d0b3,#4ad8a8,#4ce29b,#53eb8b,#62f07b,#79ee6c,#91ea5f,#a5e654,#b9e249,#ccdb3e,#ddca33,#e6ad29,#eb9022,#ed7a1c,#ed6919,#ea5d16,#e45514,#de5013,#da4d12,#d84b12,#d64911,#d44811,#d24711,#d14611,#cf4410,#cd4310,#cc4210,#ca4110,#c83f0f,#c73e0f,#c63d0f,#c43c0f,#c33b0f,#c13a0e,#c0390e,#be370e,#bc360d,#ba350d,#b9330d,#b7320d,#b5310c,#b32f0c)"></i>
<i style="background:linear-gradient(90deg,#3da0f3,#3ea3ef,#3fa7ea,#40abe5,#41b0de,#42b5d7,#43bbcf,#45c2c6,#46c9bc,#48d0b3,#4ad8a8,#4ce29b,#53eb8b,#63f07a,#7aed6b,#92ea5f,#a7e653,#bae249,#cddb3e,#ddc933,#e6ac29,#eb9022,#ed7b1d,#ed6a19,#ea5e16,#e55614,#df5113,#da4d12,#d84b12,#d54911,#d44811,#d24711,#d04611,#cf4410,#cd4310,#cc4210,#ca4010,#c83f0f,#c73e0f,#c53d0f,#c43c0f,#c33b0e,#c13a0e,#bf390e,#be370e,#bc360d,#ba350d,#b8330d,#b7320d,#b5300c,#b32f0c)"></i>
<i style="background:linear-gradient(90deg,#3da0f3,#3ea3f0,#3fa7eb,#40abe5,#41b0de,#42b6d7,#43bccf,#45c2c5,#46cabc,#48d1b3,#4ad8a8,#4ce29b,#53eb8b,#64ef7a,#7ced6b,#93e95e,#a8e653,#bce248,#ceda3d,#dec732,#e7ab29,#eb9022,#ed7b1d,#ee6c19,#eb5f16,#e65714,#df5113,#db4d12,#d74b12,#d54911,#d34811,#d24711,#d04511,#cf4410,#cd4310,#cb4210,#ca4010,#c83f0f,#c73e0f,#c53d0f,#c43c0f,#c23b0e,#c13a0e,#bf390e,#be370e,#bc360d,#ba350d,#b8330d,#b6320d,#b4300c,#b32f0c)"></i>
<i style="background:linear-gradient(90deg,#3da0f3,#3ea3f0,#3fa7eb,#40abe5,#41b0de,#42b6d6,#43bcce,#45c3c5,#46cabc,#48d1b2,#4ad9a8,#4ce29b,#54eb8a,#64ef79,#7ded6a,#95e95d,#a9e552,#bde147,#cfd93c,#dec632,#e7aa29,#eb9022,#ed7c1d,#ee6d19,#ec6016,#e65714,#e05113,#db4d12,#d74b12,#d54911,#d34811,#d24611,#d04511,#cf4410,#cd4310,#cb4210,#c94010,#c83f0f,#c73e0f,#c53d0f,#c43c0f,#c23b0e,#c13a0e,#bf380e,#bd370e,#bc360d,#ba340d,#b8330d,#b6320d,#b4300c,#b32f0c)"></i>
<i style="background:linear-gradient(90deg,#3da0f3,#3ea3f0,#3fa6eb,#40abe5,#41b0de,#42b6d6,#43bcce,#45c3c5,#46cabb,#48d1b2,#4ad9a8,#4de29b,#54ec8a,#65ef79,#7eed69,#96e95c,#abe551,#bee147,#d0d83c,#dfc531,#e7a928,#eb9022,#ed7d1d,#ee6e1a,#ec6117,#e75815,#e05213,#db4e12,#d74b12,#d54911,#d34811,#d24611,#d04511,#ce4410,#cd4310,#cb4210,#c94010,#c83f0f,#c63e0f,#c53d0f,#c43c0f,#c23b0e,#c13a0e,#bf380e,#bd370e,#bc360d,#ba340d,#b8330d,#b6320d,#b4300c,#b32f0c)"></i>
<i style="background:linear-gradient(90deg,#3da0f4,#3ea3f0,#3fa6eb,#40abe5,#41b0de,#42b6d6,#43bcce,#45c3c4,#47cabb,#48d1b1,#4ad9a7,#4de29a,#54ec8a,#66ef78,#7fed69,#98e95b,#ace550,#c0e046,#d2d73b,#dfc331,#e7a828,#eb9022,#ed7d1d,#ee6f1a,#ed6217,#e85915,#e15213,#db4e12,#d84b12,#d54911,#d34811,#d14611,#d04511,#ce4410,#cd4310,#cb4110,#c94010,#c83f0f,#c63e0f,#c53d0f,#c43c0f,#c23b0e,#c13a0e,#bf380e,#bd370e,#bb360d,#ba340d,#b8330d,#b6310c,#b4300c,#b22f0c)"></i>
<i style="background:linear-gradient(90deg,#3da0f4,#3ea2f0,#3fa6eb,#40abe5,#41b0de,#42b6d6,#43bcce,#45c4c4,#47cbba,#48d2b1,#4ad9a7,#4de29a,#55ec89,#67ef78,#81ec68,#99e85b,#aee54f,#c1e045,#d3d63a,#e0c230,#e8a727,#eb8f22,#ee7e1d,#ef6f1a,#ed6317,#e85915,#e15313,#db4e12,#d84b12,#d54911,#d34711,#d14611,#d04511,#ce4410,#cc4310,#cb4110,#c94010,#c83f0f,#c63e0f,#c53d0f,#c43c0f,#c23b0e,#c0390e,#bf380e,#bd370e,#bb360d,#ba340d,#b8330d,#b6310c,#b4300c,#b22f0c)"></i>
<i style="background:linear-gradient(90deg,#3da0f4,#3ea2f0,#3ea6eb,#40abe5,#41b0de,#42b6d6,#43bdcd,#45c4c4,#47cbba,#48d2b0,#4adaa7,#4de39a,#55ec89,#68ef77,#82ec67,#9be85a,#b0e44e,#c3df44,#d4d539,#e1c02f,#e8a527,#eb8f22,#ee7e1e,#ef701a,#ee6417,#e95a15,#e25313,#dc4e12,#d84b12,#d54911,#d34711,#d14611,#cf4511,#ce4410,#cc4210,#cb4110,#c94010,#c83f0f,#c63e0f,#c53d0f,#c33c0f,#c23b0e,#c0390e,#bf380e,#bd370e,#bb350d,#b9340d,#b7330d,#b6310c,#b4300c,#b22e0c)"></i>
<i style="background:linear-gradient(90deg,#3da0f4,#3ea2f0,#3ea6eb,#40abe5,#41b0de,#42b6d6,#43bdcd,#45c4c3,#47ccb9,#48d3b0,#4adaa6,#4de399,#56ec88,#69ef76,#84ec66,#9de859,#b2e44d,#c4df43,#d5d439,#e1bf2f,#e8a427,#eb8f21,#ee7f1e,#ef711a,#ee6417,#ea5b15,#e25314,#dc4e13,#d84b12,#d54911,#d34711,#d14611,#cf4511,#ce4310,#cc4210,#cb4110,#c9400f,#c73f0f,#c63e0f,#c53d0f,#c33c0f,#c23a0e,#c0390e,#bf380e,#bd370e,#bb350d,#b9340d,#b7320d,#b5310c,#b32f0c,#b22e0c)"></i>
<i style="background:linear-gradient(90deg,#3d9ff4,#3ea2f1,#3ea6eb,#40abe5,#41b0de,#42b6d6,#44bdcd,#45c5c3,#47ccb9,#48d3af,#4adaa5,#4de399,#56ec88,#6aef76,#86ec65,#9fe758,#b4e34c,#c6de42,#d6d338,#e2bd2e,#e8a226,#ec8e21,#ee7f1e,#ef711a,#ee6517,#ea5b15,#e35414,#dc4e13,#d84b12,#d54911,#d34711,#d14611,#cf4510,#ce4310,#cc4210,#ca4110,#c9400f,#c73f0f,#c63e0f,#c53d0f,#c33c0f,#c23a0e,#c0390e,#be380e,#bd370e,#bb350d,#b9340d,#b7320d,#b5310c,#b32f0c,#b22e0c)"></i>
<i style="background:linear-gradient(90deg,#3d9ff4,#3ea2f1,#3ea6eb,#40abe5,#41b0de,#42b6d6,#44bdcc,#45c5c2,#47cdb8,#49d4af,#4adba5,#4ee498,#57ec87,#6cef75,#87eb64,#a1e757,#b6e34b,#c8dd41,#d8d137,#e3bb2e,#e9a126,#ec8e21,#ee7f1e,#ef721a,#ef6518,#ea5b15,#e35414,#dc4f13,#d84b12,#d54911,#d24711,#d14611,#cf4410,#cd4310,#cc4210,#ca4110,#c9400f,#c73f0f,#c63e0f,#c53d0f,#c33b0f,#c23a0e,#c0390e,#be380e,#bd360e,#bb350d,#b9340d,#b7320d,#b5310c,#b32f0c,#b12e0c)"></i>
<i style="background:linear-gradient(90deg,#3d9ff4,#3ea2f1,#3ea6ec,#40abe5,#41b0de,#42b6d6,#44bdcc,#45c5c2,#47cdb7,#49d4ae,#4adba4,#4ee497,#58ec86,#6dee74,#89eb64,#a3e755,#b8e24a,#cadc40,#d9d036,#e3b92d,#e9a026,#ec8d21,#ee7f1e,#ef721b,#ef6618,#eb5c15,#e45414,#dd4f13,#d84b12,#d54911,#d24711,#d14611,#cf4410,#cd4310,#cc4210,#ca4110,#c9400f,#c73f0f,#c63d0f,#c43c0f,#c33b0f,#c23a0e,#c0390e,#be380e,#bc360e,#bb350d,#b9340d,#b7320d,#b5310c,#b32f0c,#b12e0c)"></i>
<i style="background:linear-gradient(90deg,#3d9ff4,#3da2f1,#3ea6ec,#3fabe5,#41b0de,#42b6d6,#44becc,#45c6c1,#47ceb7,#49d5ad,#4bdca3,#4ee497,#59ec86,#6eee73,#8beb63,#a5e654,#bae249,#ccdb3f,#dace35,#e4b72c,#e99f25,#ec8d21,#ee7f1e,#ef721b,#ef6618,#eb5c15,#e45514,#dd4f13,#d84b12,#d54911,#d24711,#d04611,#cf4410,#cd4310,#cc4210,#ca4110,#c8400f,#c73e0f,#c63d0f,#c43c0f,#c33b0f,#c13a0e,#c0390e,#be380e,#bc360d,#ba350d,#b9330d,#b7320d,#b5310c,#b32f0c,#b12e0c)"></i>
<i style="background:linear-gradient(90deg,#3d9ff4,#3da2f1,#3ea6ec,#3fabe5,#41b0de,#42b6d6,#44becc,#46c6c1,#47ceb6,#49d5ac,#4bdda2,#4fe596,#5aed85,#70ee72,#8dea62,#a7e653,#bce147,#ceda3d,#dbcc34,#e4b62c,#e99d25,#ec8c21,#ee7f1e,#ef721b,#ef6618,#ec5c16,#e45514,#dd4f13,#d84b12,#d54911,#d24711,#d04511,#cf4410,#cd4310,#cc4210,#ca4110,#c83f0f,#c73e0f,#c63d0f,#c43c0f,#c33b0f,#c13a0e,#c0390e,#be380e,#bc360d,#ba350d,#b8330d,#b7320d,#b5300c,#b22f0c,#b12e0c)"></i>
<i style="background:linear-gradient(90deg,#3d9ff5,#3da2f1,#3ea6ec,#3faae5,#41b0de,#42b6d5,#44becb,#46c6c0,#47cfb5,#49d6ab,#4bdda1,#4fe695,#5aed84,#71ee71,#8eea61,#a9e552,#bfe046,#d0d83c,#dcca33,#e5b42b,#ea9c25,#ec8b21,#ee7f1e,#ef721b,#ef6718,#ec5d16,#e55514,#dd4f13,#d84b12,#d54911,#d24711,#d04511,#cf4410,#cd4310,#cb4210,#ca4110,#c83f0f,#c73e0f,#c63d0f,#c43c0f,#c33b0f,#c13a0e,#c0390e,#be370e,#bc360d,#ba350d,#b8330d,#b6320d,#b4300c,#b22f0c,#b12d0c)"></i>
<i style="background:linear-gradient(90deg,#3d9ff5,#3da1f1,#3ea5ec,#3faae6,#41b0de,#42b6d5,#44becb,#46c7c0,#48cfb4,#49d7aa,#4bdea0,#4fe694,#5bed83,#73ee70,#90ea5f,#abe551,#c1df45,#d1d73b,#dec832,#e5b22b,#ea9b24,#ec8b21,#ee7f1e,#ef721b,#ef6718,#ec5d16,#e55514,#de5013,#d84c12,#d54911,#d24711,#d04511,#ce4410,#cd4310,#cb4210,#ca4010,#c83f0f,#c73e0f,#c53d0f,#c43c0f,#c33b0f,#c13a0e,#bf390e,#be370e,#bc360d,#ba350d,#b8330d,#b6320d,#b4300c,#b22f0c,#b12d0c)"></i>
<i style="background:linear-gradient(90deg,#3d9ff5,#3da1f2,#3ea5ec,#3faae6,#41b0de,#42b6d5,#44becb,#46c7bf,#48d0b3,#49d8a9,#4bdf9f,#50e793,#5ded82,#75ee6f,#92e95e,#aee450,#c3df44,#d3d63a,#dfc631,#e6b02a,#ea9a24,#ec8a20,#ee7f1e,#ef731b,#f06718,#ec5d16,#e55614,#de5013,#d84c12,#d54911,#d24711,#d04511,#ce4410,#cd4310,#cb4210,#ca4010,#c83f0f,#c73e0f,#c53d0f,#c43c0f,#c33b0e,#c13a0e,#bf390e,#be370e,#bc360d,#ba340d,#b8330d,#b6320d,#b4300c,#b22e0c,#b02d0c)"></i>
<i style="background:linear-gradient(90deg,#3d9ff5,#3da1f2,#3ea5ec,#3faae6,#41b0de,#42b6d5,#44bfcb,#46c8be,#48d1b3,#4ad8a8,#4ce09e,#50e892,#5eed81,#76ed6e,#94e95d,#b0e44e,#c6de42,#d5d439,#e0c431,#e6ae29,#ea9924,#ec8a20,#ee7e1e,#ef731b,#f06718,#ec5d16,#e55614,#de5013,#d94c12,#d54911,#d24711,#d04511,#ce4410,#cd4310,#cb4210,#ca4010,#c83f0f,#c73e0f,#c53d0f,#c43c0f,#c23b0e,#c13a0e,#bf380e,#bd370e,#bc360d,#ba340d,#b8330d,#b6310c,#b4300c,#b22e0c,#b02d0c)"></i>
<i style="background:linear-gradient(90deg,#3d9ff5,#3da1f2,#3ea5ed,#3faae6,#41b0de,#42b7d5,#44bfca,#46c8be,#48d1b2,#4ad9a7,#4ce19d,#51e890,#5fee80,#78ed6d,#96e95c,#b2e34d,#c8dd41,#d7d237,#e1c230,#e7ac29,#ea9824,#ec8920,#ee7e1d,#ef721b,#f06718,#ed5e16,#e65614,#de5013,#d94c12,#d54911,#d24711,#d04511,#ce4410,#cd4310,#cb4210,#ca4010,#c83f0f,#c73e0f,#c53d0f,#c43c0f,#c23b0e,#c13a0e,#bf380e,#bd370e,#bc360d,#ba340d,#b8330d,#b6310c,#b4300c,#b22e0c,#b02d0c)"></i>
<i style="background:linear-gradient(90deg,#3d9ff5,#3da1f2,#3ea5ed,#3faae6,#41b0de,#42b7d5,#44bfca,#46c9bd,#48d2b1,#4adaa6,#4ce29c,#51e98f,#60ee7e,#7aed6c,#98e85b,#b4e34c,#cadc40,#d9d136,#e2c02f,#e7ab28,#ea9723,#ec8920,#ee7e1d,#ef721b,#f06718,#ed5e16,#e65614,#de5013,#d94c12,#d54911,#d24711,#d04511,#ce4410,#cd4310,#cb4110,#c94010,#c83f0f,#c73e0f,#c53d0f,#c43c0f,#c23b0e,#c13a0e,#bf380e,#bd370e,#bb360d,#ba340d,#b8330d,#b6310c,#b4300c,#b22e0c,#b02d0c)"></i>
<i style="background:linear-gradient(90deg,#3d9ff5,#3da1f2,#3ea5ed,#3faae6,#41b0df,#42b7d5,#44bfca,#46c9bd,#48d2b0,#4adba5,#4ce29a,#52ea8e,#61ee7d,#7ced6b,#9ae85a,#b7e24b,#ccdb3e,#dacf35,#e2be2e,#e7a928,#eb9623,#ec8820,#ee7d1d,#ef721b,#f06718,#ed5e16,#e65614,#df5013,#d94c12,#d54911,#d24711,#d04511,#ce4410,#cd4310,#cb4110,#c94010,#c83f0f,#c63e0f,#c53d0f,#c43c0f,#c23b0e,#c1390e,#bf380e,#bd370e,#bb350d,#b9340d,#b7330d,#b5310c,#b3300c,#b12e0c,#b02d0c)"></i>
<i style="background:linear-gradient(90deg,#3d9ff5,#3da1f2,#3ea5ed,#3faae6,#41afdf,#42b7d5,#44bfc9,#46c9bc,#48d3af,#4adca4,#4de399,#53ea8d,#63ee7c,#7ded6a,#9ce859,#b9e249,#ceda3d,#dbcd34,#e3bc2d,#e8a728,#eb9523,#ec8820,#ee7d1d,#ef721b,#f06718,#ed5e16,#e65614,#df5113,#d94c12,#d54911,#d24711,#d04511,#ce4410,#cd4310,#cb4110,#c94010,#c83f0f,#c63e0f,#c53d0f,#c43c0f,#c23b0e,#c0390e,#bf380e,#bd370e,#bb350d,#b9340d,#b7320d,#b5310c,#b32f0c,#b12e0c,#b02d0b)"></i>
<i style="background:linear-gradient(90deg,#3d9ff5,#3da1f2,#3ea5ed,#3faae7,#41afdf,#42b7d5,#44c0c9,#46cabc,#49d4af,#4bdca3,#4de498,#53eb8b,#64ee7b,#7fec69,#9ee758,#bbe148,#d0d93c,#ddcb33,#e4b92d,#e8a527,#eb9423,#ed8720,#ee7d1d,#ef721b,#f06718,#ed5e16,#e65714,#df5113,#d94c12,#d54911,#d24711,#d04511,#ce4410,#cc4310,#cb4110,#c94010,#c83f0f,#c63e0f,#c53d0f,#c33c0f,#c23b0e,#c0390e,#bf380e,#bd370e,#bb350d,#b9340d,#b7320d,#b5310c,#b32f0c,#b12e0c,#af2c0b)"></i>
<i style="background:linear-gradient(90deg,#3d9ff5,#3da1f2,#3ea4ed,#3fa9e7,#41afdf,#42b7d5,#44c0c9,#46cabb,#49d4ae,#4bdda2,#4de597,#54ec8a,#65ee7a,#81ec68,#a0e757,#bde147,#d2d83b,#deca32,#e5b72c,#e8a427,#eb9322,#ed8720,#ee7c1d,#ef721b,#f06718,#ed5e16,#e65714,#df5113,#d94c12,#d54911,#d24711,#d04511,#ce4410,#cc4310,#cb4110,#c94010,#c83f0f,#c63e0f,#c53d0f,#c33c0f,#c23a0e,#c0390e,#be380e,#bd370e,#bb350d,#b9340d,#b7320d,#b5310c,#b32f0c,#b12e0c,#af2c0b)"></i>
<i style="background:linear-gradient(90deg,#3d9ff5,#3da1f2,#3ea4ee,#3fa9e7,#41afdf,#42b7d5,#44c0c9,#47cabb,#49d5ad,#4bdea1,#4ee696,#55ec89,#67ef79,#82ec67,#a2e756,#bfe046,#d3d73a,#dfc832,#e5b52b,#e9a226,#eb9222,#ed861f,#ee7c1d,#ef721a,#f06718,#ed5e16,#e75714,#df5113,#d94c12,#d54911,#d24711,#d04511,#ce4410,#cc4210,#cb4110,#c94010,#c83f0f,#c63e0f,#c53d0f,#c33c0f,#c23a0e,#c0390e,#be380e,#bd360e,#bb350d,#b9340d,#b7320d,#b5310c,#b32f0c,#b12e0c,#af2c0b)"></i>
<i style="background:linear-gradient(90deg,#3d9ff5,#3da1f3,#3ea4ee,#3fa9e7,#41afdf,#42b7d5,#44c0c8,#47cbba,#49d5ad,#4bdea0,#4ee795,#55ed88,#68ef78,#84ec66,#a3e655,#c0e045,#d5d639,#e0c631,#e6b32b,#e9a126,#eb9122,#ed851f,#ee7b1d,#ef711a,#f06718,#ed5e16,#e75714,#df5113,#d94c12,#d54911,#d24711,#d04511,#ce4410,#cc4210,#cb4110,#c94010,#c83f0f,#c63e0f,#c53d0f,#c33b0f,#c23a0e,#c0390e,#be380e,#bc360e,#bb350d,#b9340d,#b7320d,#b5310c,#b32f0c,#b12d0c,#af2c0b)"></i>
<i style="background:linear-gradient(90deg,#3d9ff5,#3da1f3,#3ea4ee,#3fa9e7,#41afdf,#42b7d5,#44c1c8,#47cbba,#49d6ac,#4bdf9f,#4ee794,#56ed87,#69ef77,#85eb66,#a5e654,#c2e044,#d6d538,#e1c530,#e6b22a,#e99f25,#eb9022,#ed851f,#ee7b1d,#ef711a,#f06718,#ed5e16,#e75714,#df5113,#d94c12,#d54911,#d24711,#d04511,#ce4410,#cc4210,#cb4110,#c94010,#c83f0f,#c63e0f,#c53d0f,#c33b0f,#c23a0e,#c0390e,#be380e,#bc360e,#ba350d,#b9330d,#b7320d,#b5300c,#b32f0c,#b02d0c,#af2c0b)"></i>
<i style="background:linear-gradient(90deg,#3d9ff5,#3da1f3,#3ea4ee,#3fa9e7,#41afdf,#42b7d5,#44c1c8,#47cbb9,#49d6ab,#4be09f,#4ee893,#57ee86,#6aef76,#87eb65,#a6e654,#c3df44,#d8d437,#e2c32f,#e6b02a,#e99e25,#eb8f22,#ed841f,#ee7a1d,#ef711a,#ef6718,#ed5e16,#e75714,#df5113,#d94c12,#d54911,#d24711,#d04511,#ce4410,#cc4210,#cb4110,#c94010,#c73f0f,#c63e0f,#c43c0f,#c33b0f,#c13a0e,#c0390e,#be380e,#bc360d,#ba350d,#b8330d,#b6320d,#b4300c,#b22f0c,#b02d0c,#af2c0b)"></i>
<i style="background:linear-gradient(90deg,#3d9ff5,#3da1f3,#3ea4ee,#3fa9e7,#41afdf,#42b7d5,#44c1c7,#47ccb9,#49d6ab,#4be09e,#4fe892,#57ee85,#6bef75,#88eb64,#a8e653,#c5df43,#d9d337,#e2c22f,#e7ae29,#ea9d25,#ec8e21,#ed831f,#ee7a1c,#ef701a,#ef6718,#ed5e16,#e65714,#df5113,#d94c12,#d54911,#d24711,#d04511,#ce4410,#cc4210,#cb4110,#c9400f,#c73f0f,#c63e0f,#c43c0f,#c33b0f,#c13a0e,#c0390e,#be370e,#bc360d,#ba350d,#b8330d,#b6320d,#b4300c,#b22f0c,#b02d0c,#ae2c0b)"></i>
<i style="background:linear-gradient(90deg,#3d9ff5,#3da1f3,#3ea4ee,#3fa9e7,#41afdf,#42b7d4,#44c1c7,#47ccb9,#49d7ab,#4ce09d,#4fe991,#58ee84,#6cef74,#8aeb63,#a9e552,#c6de42,#dad236,#e3c12e,#e7ad29,#ea9c25,#ec8d21,#ed821f,#ee791c,#ef6f1a,#ef6618,#ec5d16,#e65614,#df5113,#d94c12,#d54911,#d24611,#cf4511,#ce4310,#cc4210,#ca4110,#c9400f,#c73f0f,#c63d0f,#c43c0f,#c33b0f,#c13a0e,#c0390e,#be370e,#bc360d,#ba350d,#b8330d,#b6320d,#b4300c,#b22f0c,#b02d0c,#ae2c0b)"></i>
<i style="background:linear-gradient(90deg,#3d9ff5,#3da1f3,#3ea4ee,#3fa9e7,#41afdf,#42b7d4,#45c1c7,#47ccb8,#49d7aa,#4ce19d,#4fe990,#59ef83,#6def73,#8beb63,#aae551,#c7de42,#dad236,#e3bf2e,#e7ac29,#ea9a24,#ec8d21,#ed821e,#ee781c,#ef6f1a,#ef6618,#ec5d16,#e65614,#df5113,#d94c12,#d54911,#d24611,#cf4511,#ce4310,#cc4210,#ca4110,#c9400f,#c73f0f,#c63d0f,#c43c0f,#c33b0f,#c13a0e,#bf390e,#be370e,#bc360d,#ba340d,#b8330d,#b6320d,#b4300c,#b22e0c,#b02d0c,#ae2b0b)"></i>
<i style="background:linear-gradient(90deg,#3d9ff5,#3da1f2,#3ea4ee,#3fa9e7,#41b0de,#42b8d4,#45c2c7,#47ccb8,#49d7aa,#4ce19c,#4fea90,#59ef82,#6eef73,#8ceb62,#abe551,#c8de41,#dbd135,#e4be2e,#e8ab28,#ea9924,#ec8c21,#ed811e,#ee771c,#ef6e1a,#ef6518,#ec5d16,#e65614,#df5113,#d94c12,#d54911,#d24611,#cf4511,#ce4310,#cc4210,#ca4110,#c9400f,#c73f0f,#c63d0f,#c43c0f,#c33b0e,#c13a0e,#bf390e,#be370e,#bc360d,#ba340d,#b8330d,#b6310c,#b4300c,#b22e0c,#b02d0b,#ae2b0b)"></i>
<i style="background:linear-gradient(90deg,#3d9ff5,#3da1f2,#3ea4ed,#3faae7,#41b0de,#42b8d4,#45c2c6,#47cdb8,#49d7aa,#4ce19c,#4fea8f,#5aef81,#6fef72,#8dea61,#ace550,#c9dd41,#dcd135,#e4be2d,#e8aa28,#ea9824,#ec8b20,#ed801e,#ee761b,#ef6d19,#ee6417,#eb5c15,#e55614,#df5013,#d94c12,#d44911,#d14611,#cf4510,#cd4310,#cc4210,#ca4110,#c9400f,#c73e0f,#c63d0f,#c43c0f,#c23b0e,#c13a0e,#bf380e,#bd370e,#bc360d,#ba340d,#b8330d,#b6310c,#b4300c,#b22e0c,#af2c0b,#ae2b0b)"></i>
<i style="background:linear-gradient(90deg,#3d9ff5,#3da1f2,#3ea5ed,#3faae6,#41b0de,#42b8d3,#45c2c6,#47cdb7,#49d7a9,#4ce29c,#50ea8f,#5aef81,#70ef71,#8eea61,#ade550,#c9dd40,#dcd034,#e4bd2d,#e8a928,#ea9724,#ec8a20,#ee7e1e,#ee751b,#ee6c19,#ee6317,#ea5c15,#e55514,#de5013,#d94c12,#d44911,#d14611,#cf4510,#cd4310,#cc4210,#ca4110,#c9400f,#c73e0f,#c53d0f,#c43c0f,#c23b0e,#c13a0e,#bf380e,#bd370e,#bb360d,#ba340d,#b8330d,#b6310c,#b4300c,#b12e0c,#af2c0b,#ad2b0b)"></i>
<i style="background:linear-gradient(90deg,#3d9ff5,#3da1f2,#3ea5ed,#3faae6,#41b0de,#42b8d3,#45c2c6,#47cdb7,#49d8a9,#4ce29b,#50eb8e,#5bf080,#71ef71,#8fea60,#aee54f,#cadd40,#ddd034,#e4bc2d,#e8a828,#ea9623,#ec8920,#ee7d1d,#ee731b,#ee6b19,#ed6217,#ea5b15,#e45514,#de5013,#d84c12,#d44811,#d14611,#cf4410,#cd4310,#cc4210,#ca4110,#c83f0f,#c73e0f,#c53d0f,#c43c0f,#c23b0e,#c13a0e,#bf380e,#bd370e,#bb360d,#b9340d,#b7330d,#b5310c,#b3300c,#b12e0c,#af2c0b,#ad2b0b)"></i>
<i style="background:linear-gradient(90deg,#3d9ff5,#3da1f2,#3ea5ed,#3faae6,#41b1dd,#43b9d3,#45c3c5,#47cdb7,#49d8a9,#4ce29b,#50eb8e,#5bf080,#72ef70,#90ea60,#afe44f,#cbdd40,#ddcf34,#e5bb2d,#e8a727,#eb9623,#ec8820,#ee7c1d,#ee721b,#ee6919,#ec6117,#e95a15,#e35414,#dd4f13,#d84b12,#d44811,#d14611,#cf4410,#cd4310,#cc4210,#ca4110,#c83f0f,#c73e0f,#c53d0f,#c43c0f,#c23b0e,#c1390e,#bf380e,#bd370e,#bb350d,#b9340d,#b7320d,#b5310c,#b32f0c,#b12e0c,#af2c0b,#ad2b0b)"></i>
<i style="background:linear-gradient(90deg,#3d9ff5,#3da1f2,#3ea5ec,#3faae5,#41b1dd,#43b9d2,#45c3c5,#47cdb7,#4ad8a9,#4ce29b,#50eb8e,#5cf07f,#73ef70,#90ea5f,#afe44f,#cbdd3f,#ddcf34,#e5bb2c,#e8a627,#eb9523,#ed871f,#ee7b1d,#ee701a,#ed6818,#ec6016,#e85915,#e35414,#dd4f13,#d84b12,#d44811,#d14611,#cf4410,#cd4310,#cb4210,#ca4110,#c83f0f,#c73e0f,#c53d0f,#c43c0f,#c23b0e,#c0390e,#bf380e,#bd370e,#bb350d,#b9340d,#b7320d,#b5310c,#b32f0c,#b12e0c,#af2c0b,#ad2b0b)"></i>
<i style="background:linear-gradient(90deg,#3d9ff5,#3da1f2,#3ea5ec,#40abe5,#41b1dc,#43b9d2,#45c3c5,#47ceb7,#4ad8a9,#4ce29b,#50eb8d,#5cf07f,#73ee70,#91ea5f,#b0e44e,#ccdd3f,#ddcf34,#e5bb2c,#e8a627,#eb9423,#ed861f,#ee791c,#ee6f1a,#ed6618,#eb5f16,#e75815,#e25313,#dc4e13,#d74b12,#d34811,#d14611,#cf4410,#cd4310,#cb4210,#ca4010,#c83f0f,#c73e0f,#c53d0f,#c43c0f,#c23b0e,#c0390e,#bf380e,#bd370e,#bb350d,#b9340d,#b7320d,#b5310c,#b32f0c,#b12d0c,#af2c0b,#ad2a0b)"></i>
<i style="background:linear-gradient(90deg,#3d9ff5,#3da1f1,#3ea6ec,#40abe4,#41b2dc,#43bad1,#45c3c4,#47ceb6,#4ad8a9,#4ce29b,#50eb8d,#5cf07f,#74ee6f,#92ea5f,#b0e44e,#ccdc3f,#dece33,#e5ba2c,#e8a527,#eb9323,#ed841f,#ee781c,#ee6d19,#ec6517,#ea5e16,#e65714,#e15213,#dc4e12,#d74a12,#d34811,#d04611,#ce4410,#cd4310,#cb4210,#ca4010,#c83f0f,#c63e0f,#c53d0f,#c33c0f,#c23a0e,#c0390e,#be380e,#bd370e,#bb350d,#b9340d,#b7320d,#b5310c,#b32f0c,#b12d0c,#ae2c0b,#ad2a0b)"></i>
<i style="background:linear-gradient(90deg,#3d9ff5,#3da2f1,#3ea6eb,#40ace4,#41b2db,#43bad1,#45c4c4,#47ceb6,#4ad8a9,#4ce29b,#51eb8d,#5df07e,#75ee6f,#92ea5e,#b1e44e,#ccdc3f,#dece33,#e5ba2c,#e8a527,#eb9322,#ed831f,#ee771c,#ed6c19,#eb6317,#e95c16,#e55614,#e05113,#db4d12,#d64a12,#d34711,#d04511,#ce4410,#cd4310,#cb4110,#ca4010,#c83f0f,#c63e0f,#c53d0f,#c33c0f,#c23a0e,#c0390e,#be380e,#bd360e,#bb350d,#b9340d,#b7320d,#b5310c,#b32f0c,#b02d0c,#ae2c0b,#ac2a0b)"></i>
<i style="background:linear-gradient(90deg,#3d9ff5,#3ea2f1,#3ea6eb,#40ace3,#41b2db,#43bad0,#45c4c4,#47ceb6,#4ad8a9,#4ce29b,#51eb8d,#5df07e,#75ee6e,#93e95e,#b1e44e,#cddc3e,#dece33,#e5ba2c,#e9a427,#eb9222,#ed821f,#ee751b,#ed6a19,#eb6117,#e85b15,#e45514,#df5113,#da4d12,#d64a12,#d34711,#d04511,#ce4410,#cd4310,#cb4110,#c94010,#c83f0f,#c63e0f,#c53d0f,#c33c0f,#c23a0e,#c0390e,#be380e,#bc360e,#bb350d,#b9330d,#b7320d,#b5300c,#b22f0c,#b02d0c,#ae2b0b,#ac2a0b)"></i>
<i style="background:linear-gradient(90deg,#3d9ff4,#3ea2f1,#3fa7eb,#40ace3,#41b3da,#43bbd0,#45c4c3,#47ceb6,#4ad8a9,#4ce29b,#51eb8d,#5ef07e,#76ee6e,#93e95e,#b2e44d,#cddc3e,#dece33,#e5b92c,#e9a427,#eb9122,#ed811e,#ee741b,#ed6818,#ea6016,#e65915,#e35414,#de5013,#d94c12,#d54911,#d24711,#d04511,#ce4410,#cc4210,#cb4110,#c94010,#c83f0f,#c63e0f,#c53d0f,#c33b0f,#c23a0e,#c0390e,#be380e,#bc360d,#ba350d,#b8330d,#b6320d,#b4300c,#b22f0c,#b02d0c,#ae2b0b,#ac2a0b)"></i>
<i style="background:linear-gradient(90deg,#3d9ff4,#3ea2f0,#3fa7ea,#40ade2,#41b3da,#43bbcf,#45c4c3,#47ceb6,#4ad8a9,#4ce29b,#51ec8c,#5ef07d,#76ee6e,#94e95d,#b2e44d,#cddc3e,#dece33,#e5b92c,#e9a427,#eb9122,#ed801e,#ee721b,#ec6718,#e95e16,#e55815,#e15314,#dd4f13,#d94c12,#d54911,#d24711,#d04511,#ce4410,#cc4210,#cb4110,#c94010,#c83f0f,#c63e0f,#c53d0f,#c33b0f,#c13a0e,#c0390e,#be380e,#bc360d,#ba350d,#b8330d,#b6320d,#b4300c,#b22f0c,#b02d0c,#ae2b0b,#ac2a0b)"></i>
<i style="background:linear-gradient(90deg,#3d9ff4,#3ea2f0,#3fa7ea,#40ade2,#41b4d9,#43bbcf,#45c5c3,#47ceb6,#4ad8a9,#4ce29b,#51ec8c,#5ef07d,#77ee6d,#95e95d,#b3e44d,#cedc3e,#decd33,#e5b92c,#e9a326,#eb9022,#ed801e,#ee711a,#ec6518,#e85c16,#e45614,#e05213,#dc4e13,#d84b12,#d44911,#d24611,#d04511,#ce4410,#cc4210,#cb4110,#c94010,#c83f0f,#c63e0f,#c43c0f,#c33b0f,#c13a0e,#c0390e,#be370e,#bc360d,#ba350d,#b8330d,#b6320d,#b4300c,#b22e0c,#b02d0c,#ad2b0b,#ac2a0b)"></i>
<i style="background:linear-gradient(90deg,#3d9ff4,#3ea3f0,#3fa7e9,#40ade1,#42b4d9,#43bcce,#45c5c2,#47ceb6,#4ad8a9,#4ce29b,#51ec8c,#5ff07d,#77ee6d,#95e95d,#b3e44d,#cedc3e,#decd33,#e5b92c,#e9a326,#eb9022,#ee7f1e,#ee701a,#eb6317,#e65b15,#e25514,#df5113,#db4e12,#d74b12,#d44811,#d14611,#cf4511,#ce4310,#cc4210,#cb4110,#c94010,#c73f0f,#c63e0f,#c43c0f,#c33b0f,#c13a0e,#c0390e,#be370e,#bc360d,#ba350d,#b8330d,#b6320d,#b4300c,#b22e0c,#b02d0b,#ad2b0b,#ac2a0b)"></i>
<i style="background:linear-gradient(90deg,#3d9ff4,#3ea3f0,#3fa8e9,#40aee1,#42b4d8,#43bcce,#45c5c2,#47ceb6,#4ad8a9,#4ce29b,#51ec8c,#5ff07d,#78ee6d,#96e95c,#b4e34c,#cedc3e,#dfcd33,#e5b92c,#e9a326,#eb8f22,#ee7e1d,#ee6f1a,#eb6217,#e55915,#e15414,#de5013,#da4d12,#d74a12,#d44811,#d14611,#cf4510,#cd4310,#cc4210,#ca4110,#c9400f,#c73f0f,#c63e0f,#c43c0f,#c33b0f,#c13a0e,#bf390e,#be370e,#bc360d,#ba350d,#b8330d,#b6310c,#b4300c,#b22e0c,#af2d0b,#ad2b0b,#ab290b)"></i>
<i style="background:linear-gradient(90deg,#3d9ff4,#3ea3f0,#3fa8e9,#40aee1,#42b5d8,#43bccd,#45c5c2,#47ceb6,#4ad8a9,#4ce29b,#52ec8c,#60f07c,#79ee6c,#96e95c,#b4e34c,#cedb3d,#dfcd33,#e5b82c,#e9a326,#eb8f21,#ee7d1d,#ee6d1a,#ea6117,#e45815,#e05213,#dc4f13,#d94c12,#d64a12,#d34811,#d14611,#cf4410,#cd4310,#cc4210,#ca4110,#c9400f,#c73f0f,#c63d0f,#c43c0f,#c33b0f,#c13a0e,#bf390e,#be370e,#bc360d,#ba340d,#b8330d,#b6310c,#b4300c,#b22e0c,#af2c0b,#ad2b0b,#ab290b)"></i>
<i style="background:linear-gradient(90deg,#3d9ff4,#3ea3ef,#3fa8e8,#40aee0,#42b5d7,#43bdcd,#45c5c2,#47ceb6,#4ad8a9,#4ce29b,#52ec8c,#60f07c,#79ee6c,#97e95c,#b5e34c,#cfdb3d,#dfcd33,#e5b82c,#e9a326,#ec8e21,#ee7c1d,#ee6c19,#ea5f16,#e35614,#df5113,#db4e12,#d84b12,#d54911,#d34711,#d14611,#cf4410,#cd4310,#cc4210,#ca4110,#c9400f,#c73f0f,#c63d0f,#c43c0f,#c33b0e,#c13a0e,#bf390e,#bd370e,#bc360d,#ba340d,#b8330d,#b6310c,#b4300c,#b12e0c,#af2c0b,#ad2b0b,#ab290b)"></i>
<i style="background:linear-gradient(90deg,#3da0f4,#3ea3ef,#3fa8e8,#40afe0,#42b5d7,#43bdcd,#45c5c2,#47ceb6,#4ad8a9,#4ce29b,#52ec8c,#61f07c,#7aed6c,#98e95b,#b5e34b,#cfdb3d,#dfcd32,#e5b82c,#e9a226,#ec8e21,#ee7c1d,#ee6b19,#e95e16,#e25514,#dd5013,#da4d12,#d74b12,#d54911,#d24711,#d04511,#cf4410,#cd4310,#cc4210,#ca4110,#c9400f,#c73e0f,#c63d0f,#c43c0f,#c23b0e,#c13a0e,#bf380e,#bd370e,#bc360d,#ba340d,#b8330d,#b6310c,#b4300c,#b12e0c,#af2c0b,#ad2b0b,#ab290b)"></i>
<i style="background:linear-gradient(90deg,#3da0f4,#3ea3ef,#3fa9e8,#40afe0,#42b5d7,#44bdcd,#45c5c2,#47ceb6,#4ad8a9,#4ce29b,#52ec8b,#61f07b,#7bed6b,#98e85b,#b6e34b,#cfdb3d,#dfcd32,#e6b82c,#e9a226,#ec8e21,#ee7b1d,#ee6b19,#e95d16,#e15414,#dc4f13,#d94c12,#d74a12,#d44811,#d24711,#d04511,#cf4410,#cd4310,#cc4210,#ca4110,#c9400f,#c73e0f,#c63d0f,#c43c0f,#c23b0e,#c13a0e,#bf380e,#bd370e,#bb360d,#ba340d,#b8330d,#b6310c,#b3300c,#b12e0c,#af2c0b,#ad2a0b,#ab290b)"></i>
<i style="background:linear-gradient(90deg,#3da0f4,#3ea3ef,#3fa9e8,#40afe0,#42b5d7,#44bdcd,#45c5c2,#47ceb6,#49d8a9,#4ce29b,#52ec8b,#62f07b,#7ced6b,#99e85b,#b6e34b,#d0db3d,#dfcc32,#e6b82b,#e9a226,#ec8e21,#ee7b1d,#ee6a19,#e85c16,#e05314,#db4e13,#d84c12,#d64a12,#d44811,#d24711,#d04511,#ce4410,#cd4310,#cc4210,#ca4110,#c9400f,#c73e0f,#c53d0f,#c43c0f,#c23b0e,#c13a0e,#bf380e,#bd370e,#bb360d,#b9340d,#b7330d,#b5310c,#b32f0c,#b12e0c,#af2c0b,#ad2a0b,#ab290b)"></i>
<i style="background:linear-gradient(90deg,#3da0f4,#3ea3ef,#3fa9e8,#40afe0,#42b5d7,#43bdcd,#45c5c2,#47ceb7,#49d7a9,#4ce29b,#53ec8b,#62f07b,#7ced6a,#9ae85a,#b7e34b,#d0db3c,#dfcc32,#e6b82b,#e9a226,#ec8d21,#ee7a1d,#ee6919,#e85b15,#e05213,#db4d12,#d84b12,#d54911,#d34811,#d14611,#d04511,#ce4410,#cd4310,#cc4210,#ca4110,#c9400f,#c73e0f,#c53d0f,#c43c0f,#c23b0e,#c13a0e,#bf380e,#bd370e,#bb360d,#b9340d,#b7330d,#b5310c,#b32f0c,#b12e0c,#af2c0b,#ad2a0b,#ab290b)"></i>
<i style="background:linear-gradient(90deg,#3da0f4,#3ea3ef,#3fa9e8,#40afe0,#42b5d7,#43bccd,#45c4c3,#47cdb7,#49d7aa,#4ce29b,#53ec8b,#63f07a,#7ded6a,#9be85a,#b8e34a,#d0db3c,#dfcc32,#e6b72b,#e9a226,#ec8d21,#ee7a1c,#ee6918,#e75b15,#df5113,#da4d12,#d74b12,#d54911,#d34711,#d14611,#d04511,#ce4410,#cd4310,#cb4210,#ca4110,#c8400f,#c73e0f,#c53d0f,#c43c0f,#c23b0e,#c13a0e,#bf380e,#bd370e,#bb350d,#b9340d,#b7320d,#b5310c,#b32f0c,#b12e0c,#af2c0b,#ac2a0b,#ab290b)"></i>
<i style="background:linear-gradient(90deg,#3da0f4,#3ea3ef,#3fa9e8,#40afe0,#42b5d7,#43bcce,#45c4c4,#47cdb8,#49d7aa,#4ce29b,#53ec8b,#64ef7a,#7eed69,#9ce859,#b8e34a,#d1db3c,#e0cc32,#e6b72b,#e9a226,#ec8d21,#ee7a1c,#ee6818,#e75a15,#de5113,#d94c12,#d74a12,#d54911,#d34711,#d14611,#d04511,#ce4410,#cd4310,#cb4210,#ca4110,#c83f0f,#c73e0f,#c53d0f,#c43c0f,#c23b0e,#c0390e,#bf380e,#bd370e,#bb350d,#b9340d,#b7320d,#b5310c,#b32f0c,#b12e0c,#af2c0b,#ac2a0b,#ab290b)"></i>
<i style="background:linear-gradient(90deg,#3da0f4,#3ea3ef,#3fa8e8,#40aee0,#42b5d8,#43bccf,#45c3c4,#47ccb9,#49d7ab,#4ce29b,#53ec8a,#64ef79,#7fed69,#9de859,#b9e249,#d1da3c,#e0cc32,#e6b72b,#e9a226,#ec8d21,#ee791c,#ed6818,#e75a15,#de5013,#d94c12,#d64a12,#d44811,#d24711,#d14611,#d04511,#ce4410,#cd4310,#cb4210,#ca4110,#c83f0f,#c73e0f,#c53d0f,#c43c0f,#c23b0e,#c0390e,#bf380e,#bd370e,#bb350d,#b9340d,#b7320d,#b5310c,#b32f0c,#b12e0c,#af2c0b,#ac2a0b,#ab290b)"></i>
<i style="background:linear-gradient(90deg,#3da0f4,#3ea3ef,#3fa8e8,#40aee1,#42b4d8,#43bbcf,#45c3c5,#47cbb9,#49d6ab,#4ce29b,#54ec8a,#65ef79,#80ec68,#9ee858,#bae249,#d2da3b,#e0cb32,#e6b72b,#e9a126,#ec8d21,#ee791c,#ed6718,#e75915,#dd5013,#d84b12,#d64a12,#d44811,#d24711,#d14611,#cf4511,#ce4410,#cd4310,#cb4210,#ca4110,#c83f0f,#c73e0f,#c53d0f,#c43c0f,#c23b0e,#c0390e,#bf380e,#bd370e,#bb350d,#b9340d,#b7320d,#b5310c,#b32f0c,#b12e0c,#af2c0b,#ac2a0b,#ab290b)"></i>
<i style="background:linear-gradient(90deg,#3da0f4,#3ea3ef,#3fa8e9,#40aee1,#42b4d9,#43bad0,#45c2c6,#47cbba,#49d6ac,#4ce29b,#54ec8a,#66ef78,#81ec68,#9fe758,#bbe249,#d2da3b,#e0cb32,#e6b72b,#e9a126,#ec8d21,#ee791c,#ed6718,#e65915,#dd4f13,#d84b12,#d54911,#d44811,#d24711,#d14611,#cf4511,#ce4410,#cd4310,#cb4210,#ca4110,#c83f0f,#c73e0f,#c53d0f,#c43c0f,#c23b0e,#c0390e,#bf380e,#bd370e,#bb350d,#b9340d,#b7320d,#b5310c,#b32f0c,#b12d0c,#af2c0b,#ac2a0b,#aa290b)"></i>
<i style="background:linear-gradient(90deg,#3d9ff4,#3ea3ef,#3fa8e9,#40ade2,#41b3da,#43bad1,#44c1c8,#46cabc,#49d5ad,#4ce19c,#54ec8a,#67ef78,#82ec67,#a0e757,#bbe248,#d3da3b,#e0cb31,#e6b72b,#e9a126,#ec8d21,#ee791c,#ed6718,#e65915,#dd4f13,#d74b12,#d54911,#d44811,#d24711,#d14611,#cf4511,#ce4410,#cd4310,#cb4210,#ca4110,#c83f0f,#c73e0f,#c53d0f,#c43c0f,#c23b0e,#c0390e,#bf380e,#bd370e,#bb350d,#b9340d,#b7320d,#b5310c,#b32f0c,#b12d0c,#ae2c0b,#ac2a0b,#aa290b)"></i>
<i style="background:linear-gradient(90deg,#3d9ff4,#3ea3f0,#3fa7e9,#40ade2,#41b2db,#43b9d3,#44c0c9,#46c9bd,#49d4ad,#4ce19c,#55ec89,#68ef77,#84ec66,#a1e757,#bce248,#d3da3b,#e0cb31,#e6b62b,#e9a126,#ec8d21,#ee791c,#ed6718,#e65815,#dc4f13,#d74b12,#d54911,#d34811,#d24711,#d14611,#cf4511,#ce4410,#cd4310,#cb4210,#ca4110,#c83f0f,#c73e0f,#c53d0f,#c43c0f,#c23b0e,#c0390e,#be380e,#bd370e,#bb350d,#b9340d,#b7320d,#b5310c,#b32f0c,#b12d0c,#ae2c0b,#ac2a0b,#aa290b)"></i>
<i style="background:linear-gradient(90deg,#3d9ff4,#3ea3f0,#3fa7ea,#40ace3,#41b2dc,#42b8d4,#44bfcb,#46c8be,#49d4ae,#4ce19c,#55ec89,#69ef77,#85ec66,#a2e756,#bde247,#d4d93a,#e1ca31,#e6b62b,#e9a126,#ec8d21,#ee791c,#ed6718,#e65815,#dc4f13,#d74b12,#d54911,#d34811,#d24711,#d14611,#cf4511,#ce4410,#cd4310,#cb4210,#ca4110,#c83f0f,#c73e0f,#c53d0f,#c43c0f,#c23b0e,#c0390e,#be380e,#bd360e,#bb350d,#b9340d,#b7320d,#b5310c,#b32f0c,#b12d0c,#ae2c0b,#ac2a0b,#aa290b)"></i>
<i style="background:linear-gradient(90deg,#3d9ff4,#3ea2f0,#3fa7eb,#40abe4,#41b1dd,#42b6d5,#44bdcc,#46c7c0,#49d3af,#4ce19c,#55ec89,#6aef76,#86ec65,#a3e755,#bee147,#d4d93a,#e1ca31,#e6b62b,#e9a126,#ec8d21,#ee791c,#ed6718,#e65815,#dc4f13,#d74a12,#d54911,#d34811,#d24711,#d14611,#cf4511,#ce4410,#cd4310,#cb4210,#ca4110,#c83f0f,#c73e0f,#c53d0f,#c43c0f,#c23b0e,#c0390e,#be380e,#bd360e,#bb350d,#b9340d,#b7320d,#b5310c,#b32f0c,#b12d0c,#ae2c0b,#ac2a0b,#aa290b)"></i>
<i style="background:linear-gradient(90deg,#3d9ff4,#3ea2f1,#3ea6eb,#3fabe5,#41b0de,#42b5d7,#43bcce,#45c5c1,#48d2b0,#4ce19d,#56ec89,#6aef76,#87eb64,#a4e655,#bfe146,#d5d93a,#e1ca31,#e6b62b,#e9a126,#ec8d21,#ee791c,#ed6718,#e65815,#dc4f13,#d74a12,#d54911,#d34811,#d24711,#d14611,#cf4511,#ce4410,#cd4310,#cb4210,#ca4110,#c83f0f,#c73e0f,#c53d0f,#c43c0f,#c23a0e,#c0390e,#be380e,#bc360e,#bb350d,#b9340d,#b7320d,#b5300c,#b32f0c,#b02d0c,#ae2c0b,#ac2a0b,#aa290b)"></i>
<i style="background:linear-gradient(90deg,#3d9ff4,#3ea2f1,#3ea6ec,#3faae6,#40afe0,#42b4d9,#43bbd0,#45c4c3,#48d2b1,#4ce09d,#56ec88,#6bef75,#89eb64,#a5e654,#c0e146,#d5d939,#e1ca31,#e6b62b,#e9a126,#ec8d21,#ee791c,#ed6718,#e65815,#dc4f13,#d74a12,#d54911,#d34811,#d24711,#d14611,#cf4511,#ce4410,#cd4310,#cc4210,#ca4110,#c8400f,#c73e0f,#c53d0f,#c43c0f,#c23a0e,#c0390e,#be380e,#bc360e,#bb350d,#b9330d,#b7320d,#b5300c,#b32f0c,#b02d0c,#ae2c0b,#ac2a0b,#aa290b)"></i>
<i style="background:linear-gradient(90deg,#3d9ff4,#3da2f1,#3ea5ec,#3fa9e7,#40aee1,#41b3da,#43b9d2,#45c3c5,#48d1b2,#4ce09d,#57ec88,#6cee75,#8aeb63,#a7e653,#c1e145,#d6d839,#e1c931,#e6b62b,#e9a126,#ec8d21,#ee791c,#ed6718,#e65815,#dc4f13,#d74a12,#d54911,#d34811,#d24711,#d14611,#cf4511,#ce4410,#cd4310,#cc4210,#ca4110,#c8400f,#c73e0f,#c53d0f,#c43c0f,#c23a0e,#c0390e,#be380e,#bc360e,#ba350d,#b9330d,#b7320d,#b5300c,#b32f0c,#b02d0c,#ae2c0b,#ac2a0b,#aa290b)"></i>
<i style="background:linear-gradient(90deg,#3d9ff5,#3da1f2,#3ea5ed,#3fa8e8,#40ade2,#41b1dc,#42b8d4,#45c2c6,#48d0b3,#4de09d,#57eb88,#6dee74,#8beb62,#a8e653,#c2e145,#d6d839,#e1c931,#e6b52b,#e9a126,#ec8d21,#ee791c,#ed6718,#e65815,#dc4e13,#d74a12,#d54911,#d34811,#d24711,#d14611,#d04511,#ce4410,#cd4310,#cc4210,#ca4110,#c9400f,#c73e0f,#c53d0f,#c33c0f,#c23a0e,#c0390e,#be380e,#bc360d,#ba350d,#b9330d,#b7320d,#b5300c,#b22f0c,#b02d0c,#ae2c0b,#ac2a0b,#aa290b)"></i>
<i style="background:linear-gradient(90deg,#3d9ff5,#3da1f2,#3ea4ee,#3fa8e9,#40ace4,#41b0de,#42b6d6,#44c0c8,#48cfb4,#4ddf9e,#57eb88,#6eee74,#8ceb62,#a9e652,#c2e044,#d7d839,#e2c930,#e6b52b,#e9a126,#ec8d21,#ee791c,#ed6718,#e65815,#dc4e13,#d74a12,#d54911,#d34811,#d24711,#d14611,#d04511,#ce4410,#cd4310,#cc4210,#ca4110,#c9400f,#c73e0f,#c53d0f,#c33c0f,#c23a0e,#c0390e,#be380e,#bc360d,#ba350d,#b8330d,#b6320d,#b4300c,#b22f0c,#b02d0c,#ae2c0b,#ac2a0b,#aa290b)"></i>
<i style="background:linear-gradient(90deg,#3d9ff5,#3da1f2,#3ea4ee,#3fa7ea,#3fabe5,#40afdf,#42b5d7,#44bfca,#48ceb5,#4ddf9e,#58eb87,#6fee73,#8dea61,#aae552,#c3e044,#d7d838,#e2c930,#e6b52b,#e9a126,#ec8d21,#ee791c,#ed6718,#e65815,#dc4e13,#d74a12,#d54911,#d34811,#d24711,#d14611,#d04511,#ce4410,#cd4310,#cc4210,#ca4110,#c9400f,#c73e0f,#c53d0f,#c33c0f,#c23a0e,#c0390e,#be380e,#bc360d,#ba350d,#b8330d,#b6320d,#b4300c,#b22f0c,#b02d0c,#ae2c0b,#ac2a0b,#aa290b)"></i>
<i style="background:linear-gradient(90deg,#3d9ff5,#3da1f3,#3ea3ef,#3ea6eb,#3faae6,#40aee1,#41b4d9,#44becb,#47ceb6,#4ddf9e,#58eb87,#70ee73,#8eea61,#abe551,#c4e043,#d7d838,#e2c830,#e6b52b,#e9a126,#ec8d21,#ee791c,#ed6718,#e65815,#dc4f13,#d74a12,#d54911,#d34811,#d24711,#d14611,#d04511,#ce4410,#cd4310,#cc4210,#ca4110,#c9400f,#c73e0f,#c53d0f,#c33c0f,#c23a0e,#c0390e,#be380e,#bc360d,#ba350d,#b8330d,#b6320d,#b4300c,#b22f0c,#b02d0c,#ae2c0b,#ac2a0b,#aa290b)"></i>
<i style="background:linear-gradient(90deg,#3d9ff5,#3da0f3,#3ea3f0,#3ea6ec,#3fa9e8,#40ade3,#41b2db,#44bdcd,#47cdb7,#4ddf9e,#59eb87,#71ee72,#8fea60,#ace551,#c5e043,#d8d738,#e2c830,#e6b52b,#e9a126,#ec8d21,#ee791c,#ed6718,#e65815,#dc4f13,#d74a12,#d54911,#d44811,#d24711,#d14611,#d04511,#cf4410,#cd4310,#cc4210,#ca4110,#c9400f,#c73e0f,#c53d0f,#c33c0f,#c23a0e,#c0390e,#be380e,#bc360d,#ba350d,#b8330d,#b6320d,#b4300c,#b22f0c,#b02d0c,#ae2c0b,#ac2a0b,#aa290b)"></i>
<i style="background:linear-gradient(90deg,#3d9ff5,#3da0f3,#3ea2f0,#3ea5ed,#3fa8e9,#40abe4,#41b1dc,#43bcce,#47ccb8,#4ddf9f,#59eb87,#72ee72,#90ea60,#ade550,#c5e043,#d8d738,#e2c830,#e6b52b,#e9a126,#ec8d21,#ee791c,#ed6718,#e65815,#dc4f13,#d74a12,#d54911,#d44811,#d24711,#d14611,#d04511,#cf4410,#cd4310,#cc4210,#ca4110,#c9400f,#c73e0f,#c53d0f,#c33c0f,#c23a0e,#c0390e,#be380e,#bc360d,#ba350d,#b8330d,#b6320d,#b4300c,#b22f0c,#b02d0c,#ae2c0b,#ac2a0b,#aa290b)"></i>
<i style="background:linear-gradient(90deg,#3d9ff5,#3da0f3,#3ea2f1,#3ea4ee,#3fa7ea,#3faae5,#41b0de,#43bbd0,#47ccb9,#4dde9f,#59eb86,#72ee71,#91ea5f,#ade550,#c6e042,#d8d738,#e2c830,#e6b52b,#e9a126,#ec8d21,#ee791c,#ed6718,#e65815,#dc4f13,#d74a12,#d54911,#d44811,#d24711,#d14611,#d04511,#cf4410,#cd4310,#cc4210,#ca4110,#c9400f,#c73e0f,#c53d0f,#c33c0f,#c23a0e,#c0390e,#be370e,#bc360d,#ba350d,#b8330d,#b6320d,#b4300c,#b22f0c,#b02d0c,#ae2c0b,#ac2a0b,#aa290b)"></i>
<i style="background:linear-gradient(90deg,#3d9ff5,#3da0f4,#3da2f1,#3ea4ee,#3fa6eb,#3faae7,#40afdf,#43bad1,#47cbba,#4dde9f,#5aeb86,#73ee71,#92ea5f,#aee54f,#c6e042,#d9d737,#e2c830,#e6b52b,#e9a126,#ec8d21,#ee791c,#ed6718,#e65815,#dc4f13,#d74a12,#d54911,#d44811,#d24711,#d14611,#d04511,#cf4410,#cd4310,#cc4210,#ca4110,#c9400f,#c73e0f,#c53d0f,#c33c0f,#c23a0e,#c0390e,#be370e,#bc360d,#ba350d,#b8330d,#b6320d,#b4300c,#b22f0c,#b02d0c,#ae2c0b,#ac2a0b,#aa290b)"></i>
<i style="background:linear-gradient(90deg,#3d9ff5,#3da0f4,#3da1f2,#3ea3ef,#3ea6ec,#3fa9e8,#40aee0,#43b9d2,#47cbba,#4dde9f,#5aeb86,#73ee70,#92e95e,#afe54f,#c7e042,#d9d737,#e2c830,#e6b52b,#e9a126,#ec8d21,#ee7a1c,#ed6718,#e65915,#dc4f13,#d74b12,#d54911,#d44811,#d34711,#d14611,#d04511,#cf4410,#cd4310,#cc4210,#ca4110,#c9400f,#c73e0f,#c53d0f,#c33c0f,#c13a0e,#c0390e,#be370e,#bc360d,#ba350d,#b8330d,#b6320d,#b4300c,#b22f0c,#b02d0c,#ae2c0b,#ac2a0b,#aa290b)"></i>
<i style="background:linear-gradient(90deg,#3d9ff5,#3da0f4,#3da1f2,#3ea3f0,#3ea5ec,#3fa8e8,#40aee1,#43b9d3,#47cbbb,#4dde9f,#5aeb86,#74ed70,#93e95e,#afe54f,#c7df42,#d9d737,#e2c830,#e6b52b,#e9a226,#ec8e21,#ee7a1c,#ed6818,#e65915,#dd4f13,#d74b12,#d54911,#d44811,#d34711,#d14611,#d04511,#cf4410,#cd4310,#cc4210,#ca4110,#c9400f,#c73e0f,#c53d0f,#c33c0f,#c13a0e,#c0390e,#be370e,#bc360d,#ba350d,#b8330d,#b6320d,#b4300c,#b22f0c,#b02d0c,#ae2c0b,#ac2a0b,#aa290b)"></i>
<i style="background:linear-gradient(90deg,#3d9ff5,#3d9ff4,#3da1f2,#3ea3f0,#3ea5ed,#3fa8e9,#40ade2,#42b8d3,#47cabb,#4dde9f,#5beb85,#75ed70,#94e95e,#afe44f,#c7df42,#d9d737,#e2c830,#e6b62b,#e9a226,#ec8e21,#ee7a1d,#ed6818,#e65915,#dd4f13,#d74b12,#d54911,#d44811,#d34711,#d24611,#d04611,#cf4410,#ce4310,#cc4210,#ca4110,#c9400f,#c73e0f,#c53d0f,#c33c0f,#c13a0e,#c0390e,#be370e,#bc360d,#ba340d,#b8330d,#b6320d,#b4300c,#b22f0c,#b02d0c,#ae2b0b,#ac2a0b,#aa290b)"></i>
<i style="background:linear-gradient(90deg,#3d9ff5,#3d9ff4,#3da1f3,#3ea2f0,#3ea4ee,#3fa7ea,#40ade3,#42b8d4,#47cabb,#4dde9f,#5beb85,#75ed70,#94e95e,#b0e44e,#c7df42,#d9d737,#e2c830,#e6b62b,#e9a226,#ec8f21,#ee7b1d,#ed6918,#e75a15,#dd5013,#d84b12,#d64911,#d44811,#d34811,#d24711,#d14611,#cf4510,#ce4310,#cc4210,#ca4110,#c9400f,#c73e0f,#c53d0f,#c33b0f,#c13a0e,#bf390e,#be370e,#bc360d,#ba340d,#b8330d,#b6320d,#b4300c,#b22f0c,#b02d0c,#ae2b0b,#ac2a0b,#aa290b)"></i>
<i style="background:linear-gradient(90deg,#3d9ff5,#3d9ff4,#3da0f3,#3ea2f1,#3ea4ee,#3fa7ea,#40ace3,#42b8d4,#47cabb,#4dde9f,#5beb85,#75ed6f,#94e95d,#b0e44e,#c7df42,#d9d737,#e2c930,#e6b62b,#e9a326,#eb8f22,#ee7c1d,#ed6919,#e75a15,#de5013,#d84b12,#d64a12,#d44911,#d34811,#d24711,#d14611,#cf4511,#ce4310,#cc4210,#ca4110,#c9400f,#c73e0f,#c53d0f,#c33b0f,#c13a0e,#bf390e,#be370e,#bc360d,#ba340d,#b8330d,#b6310c,#b4300c,#b22f0c,#b02d0c,#ae2b0b,#ac2a0b,#aa290b)"></i>
<i style="background:linear-gradient(90deg,#3d9ff5,#3d9ff4,#3da0f3,#3ea2f1,#3ea4ee,#3fa7ea,#40ace3,#42b7d4,#47cabb,#4dde9f,#5bec85,#76ed6f,#94e95d,#b0e44e,#c7df42,#d9d737,#e2c930,#e6b72b,#e9a326,#eb9022,#ee7c1d,#ed6a19,#e75b15,#de5113,#d84c12,#d64a12,#d54911,#d34811,#d24711,#d14611,#cf4511,#ce4410,#cc4210,#ca4110,#c8400f,#c73e0f,#c53d0f,#c33b0f,#c13a0e,#bf390e,#bd370e,#bc360d,#ba340d,#b8330d,#b6310c,#b4300c,#b22e0c,#b02d0c,#ae2b0b,#ac2a0b,#aa290b)"></i>
<i style="background:linear-gradient(90deg,#3d9ff5,#3d9ff4,#3da0f3,#3ea2f1,#3ea4ee,#3fa7ea,#40ace3,#42b7d4,#47cabb,#4dde9e,#5cec84,#76ed6f,#95e95d,#b0e44e,#c7e042,#d8d838,#e2c930,#e6b72b,#e9a427,#eb9122,#ee7d1d,#ed6b19,#e85c16,#df5113,#d94c12,#d64a12,#d54911,#d44811,#d24711,#d14611,#d04511,#ce4410,#cc4210,#ca4110,#c83f0f,#c73e0f,#c53d0f,#c33b0f,#c13a0e,#bf390e,#bd370e,#bc360d,#ba340d,#b8330d,#b6310c,#b4300c,#b22e0c,#b02d0c,#ae2b0b,#ac2a0b,#aa290b)"></i>
<i style="background:linear-gradient(90deg,#3d9ff5,#3d9ff4,#3da0f3,#3ea2f1,#3ea4ee,#3fa7ea,#40ace3,#42b7d4,#47cabb,#4ddf9e,#5cec84,#76ed6f,#95e95d,#b0e44e,#c7e042,#d8d838,#e2ca31,#e6b82b,#e8a527,#eb9122,#ed7e1e,#ed6c19,#e85d16,#df5213,#d94c12,#d74a12,#d54911,#d44811,#d34711,#d14611,#d04511,#ce4410,#cc4210,#ca4110,#c83f0f,#c73e0f,#c53d0f,#c33b0f,#c13a0e,#bf380e,#bd370e,#bb360d,#ba340d,#b8330d,#b6310c,#b4300c,#b22e0c,#b02d0c,#ae2b0b,#ac2a0b,#aa290b)"></i>
<i style="background:linear-gradient(90deg,#3d9ff5,#3d9ff4,#3da0f3,#3ea2f1,#3ea4ee,#3fa7ea,#40ace3,#42b8d4,#47cabb,#4edf9e,#5cec84,#76ed6f,#95e95d,#b0e44e,#c7e042,#d8d838,#e1cb31,#e6b92c,#e8a627,#eb9222,#ed7f1e,#ed6e1a,#e85e16,#e05313,#da4d12,#d74b12,#d64912,#d44911,#d34811,#d24611,#d04511,#ce4410,#cc4210,#ca4110,#c83f0f,#c63e0f,#c53d0f,#c33b0f,#c13a0e,#bf380e,#bd370e,#bb360d,#ba340d,#b8330d,#b6310c,#b4300c,#b22e0c,#b02d0c,#ae2b0b,#ac2a0b,#aa290b)"></i>
<i style="background:linear-gradient(90deg,#3d9ff5,#3d9ff4,#3da0f3,#3ea2f1,#3ea4ee,#3fa7ea,#40ace3,#42b8d3,#47cbba,#4edf9d,#5cec83,#77ed6e,#95e95d,#afe44f,#c6e042,#d7d838,#e1cb31,#e5ba2c,#e8a727,#eb9423,#ed811e,#ed6f1a,#e95f16,#e15314,#db4d12,#d84b12,#d64a12,#d54911,#d34811,#d24711,#d04511,#ce4410,#cc4210,#ca4110,#c83f0f,#c63e0f,#c53d0f,#c33b0f,#c13a0e,#bf380e,#bd370e,#bb360d,#b9340d,#b8330d,#b6310c,#b4300c,#b22e0c,#b02d0c,#ae2b0b,#ac2a0b,#aa290b)"></i>
<i style="background:linear-gradient(90deg,#3d9ff5,#3d9ff4,#3da0f3,#3ea2f1,#3ea4ee,#3fa7ea,#40ade2,#43b8d3,#47cbba,#4edf9d,#5dec83,#77ed6e,#95e95d,#afe54f,#c6e043,#d7d939,#e1cc31,#e5bb2c,#e8a828,#eb9523,#ed821e,#ed701a,#e96017,#e15414,#db4e12,#d84b12,#d64a12,#d54911,#d44811,#d24711,#d04611,#ce4410,#cc4210,#ca4110,#c83f0f,#c63e0f,#c43c0f,#c33b0e,#c13a0e,#bf380e,#bd370e,#bb360d,#b9340d,#b8330d,#b6310c,#b4300c,#b22e0c,#b02d0c,#ae2b0b,#ac2a0b,#aa290b)"></i>
<i style="background:linear-gradient(90deg,#3d9ff5,#3d9ff4,#3da0f3,#3ea2f0,#3ea4ed,#3fa8e9,#40ade2,#43b9d2,#47cbb9,#4ee09d,#5dec83,#77ed6e,#94e95d,#afe54f,#c5e043,#d6d939,#e0cd32,#e5bc2c,#e8a928,#ea9623,#ed841f,#ed721b,#ea6217,#e25514,#dc4f13,#d94c12,#d74a12,#d54911,#d44811,#d34711,#d14611,#ce4410,#cc4210,#ca4110,#c83f0f,#c63e0f,#c43c0f,#c23b0e,#c13a0e,#bf380e,#bd370e,#bb350d,#b9340d,#b8330d,#b6310c,#b4300c,#b22e0c,#b02d0c,#ae2b0b,#ac2a0b,#aa290b)"></i>
<i style="background:linear-gradient(90deg,#3d9ff5,#3d9ff4,#3da1f3,#3ea2f0,#3ea5ed,#3fa8e9,#40aee1,#43b9d2,#47ccb9,#4ee09c,#5dec82,#77ed6e,#94e95d,#aee54f,#c4e043,#d6da39,#e0ce32,#e5bd2d,#e8aa28,#ea9824,#ed851f,#ed741b,#ea6317,#e35614,#dd4f13,#d94c12,#d74b12,#d64a12,#d44911,#d34711,#d14611,#cf4410,#cc4210,#ca4110,#c83f0f,#c63e0f,#c43c0f,#c23b0e,#c1390e,#bf380e,#bd370e,#bb350d,#b9340d,#b7330d,#b6310c,#b4300c,#b22e0c,#b02d0c,#ae2b0b,#ac2a0b,#aa290b)"></i>
<i style="background:linear-gradient(90deg,#3d9ff5,#3d9ff4,#3da1f2,#3ea3f0,#3ea5ed,#3fa8e8,#40aee0,#43bad1,#47ccb8,#4ee09c,#5dec82,#77ed6e,#94e95d,#aee550,#c4e144,#d5da3a,#e0cf32,#e5be2d,#e8ac28,#ea9924,#ec8720,#ed751b,#eb6518,#e45815,#de5013,#da4d12,#d84b12,#d64a12,#d54911,#d34811,#d14611,#cf4410,#cc4210,#ca4110,#c83f0f,#c63e0f,#c43c0f,#c23b0e,#c0390e,#bf380e,#bd370e,#bb350d,#b9340d,#b7330d,#b6310c,#b4300c,#b22e0c,#b02d0c,#ae2b0b,#ac2a0b,#aa290b)"></i>
<i style="background:linear-gradient(90deg,#3d9ff5,#3da0f4,#3da1f2,#3ea3f0,#3ea5ec,#3fa9e7,#40afe0,#43bad0,#47cdb8,#4ee09b,#5ded82,#77ed6e,#94e95e,#ade550,#c3e144,#d4db3a,#dfd033,#e4c02d,#e7ad29,#ea9b24,#ec8920,#ed771c,#eb6618,#e55915,#df5113,#db4d12,#d84c12,#d74a12,#d54911,#d34811,#d14611,#cf4410,#cc4210,#ca4110,#c83f0f,#c63e0f,#c43c0f,#c23b0e,#c0390e,#bf380e,#bd370e,#bb350d,#b9340d,#b7330d,#b5310c,#b4300c,#b22e0c,#b02d0c,#ae2b0b,#ac2a0b,#aa290b)"></i>
<i style="background:linear-gradient(90deg,#3d9ff4,#3da0f4,#3da1f2,#3ea3ef,#3ea6ec,#3fa9e7,#41afdf,#43bbcf,#47cdb7,#4ee19b,#5eed82,#77ed6e,#93e95e,#ade550,#c2e145,#d3db3b,#ded033,#e4c12e,#e7af29,#ea9c25,#ec8a20,#ed791c,#eb6818,#e65a15,#e05213,#db4e12,#d94c12,#d74b12,#d64a12,#d44811,#d24611,#cf4410,#cc4310,#ca4110,#c83f0f,#c63d0f,#c43c0f,#c23b0e,#c0390e,#bf380e,#bd370e,#bb350d,#b9340d,#b7320d,#b5310c,#b4300c,#b22e0c,#b02d0c,#ae2b0b,#ac2a0b,#aa290b)"></i>
<i style="background:linear-gradient(90deg,#3d9ff4,#3da0f4,#3da1f2,#3ea3ef,#3ea6eb,#3faae6,#41b0de,#43bcce,#47ceb6,#4fe19a,#5eed81,#77ee6e,#93e95e,#ace550,#c1e145,#d2dc3b,#ded134,#e4c22e,#e7b02a,#e99e25,#ec8c21,#ed7b1d,#ec6a19,#e75b15,#e15313,#dc4f13,#da4c12,#d84b12,#d64a12,#d44811,#d24711,#cf4510,#cc4310,#ca4110,#c83f0f,#c63d0f,#c43c0f,#c23b0e,#c0390e,#be380e,#bd370e,#bb350d,#b9340d,#b7320d,#b5310c,#b4300c,#b22e0c,#b02d0c,#ae2b0b,#ac2a0b,#aa290b)"></i>
<i style="background:linear-gradient(90deg,#3d9ff4,#3da0f3,#3da1f1,#3ea4ee,#3fa7ea,#3fabe5,#41b1dd,#43bcce,#48ceb6,#4fe19a,#5eed81,#77ee6e,#93e95e,#abe551,#c0e146,#d1dc3c,#ddd234,#e3c42f,#e7b22a,#e9a026,#ec8e21,#ed7d1d,#ec6c19,#e85d16,#e25414,#dd4f13,#da4d12,#d84b12,#d64a12,#d44911,#d24711,#cf4511,#cd4310,#ca4110,#c83f0f,#c63d0f,#c43c0f,#c23a0e,#c0390e,#be380e,#bd370e,#bb350d,#b9340d,#b7320d,#b5310c,#b3300c,#b22e0c,#b02d0c,#ae2b0b,#ac2a0b,#aa290b)"></i>
<i style="background:linear-gradient(90deg,#3da0f4,#3da0f3,#3da2f1,#3ea4ee,#3fa7ea,#40abe5,#41b1dc,#44bdcd,#48cfb5,#4fe299,#5eed81,#77ee6e,#92ea5e,#abe551,#bfe246,#d0dc3d,#dcd335,#e3c52f,#e6b42a,#e9a126,#eb9022,#ed7f1e,#ec6e1a,#e85e16,#e35514,#de5013,#db4d12,#d94c12,#d74a12,#d54911,#d24711,#cf4511,#cd4310,#ca4110,#c83f0f,#c53d0f,#c43c0f,#c23a0e,#c0390e,#be380e,#bd370e,#bb350d,#b9340d,#b7320d,#b5310c,#b3300c,#b22e0c,#b02d0c,#ae2b0b,#ac2a0b,#aa290b)"></i>
<i style="background:linear-gradient(90deg,#3da0f4,#3da0f3,#3ea2f1,#3ea4ed,#3fa8e9,#40ace4,#41b2db,#44becc,#48cfb4,#4fe299,#5eed81,#77ee6e,#92ea5f,#aae652,#bee247,#cfdd3d,#dcd435,#e3c630,#e6b52b,#e9a326,#eb9222,#ed811e,#ed6f1a,#e96016,#e45614,#df5113,#db4e12,#d94c12,#d74b12,#d54911,#d24711,#d04511,#cd4310,#ca4110,#c73f0f,#c53d0f,#c33c0f,#c23a0e,#c0390e,#be380e,#bd360e,#bb350d,#b9340d,#b7320d,#b5310c,#b3300c,#b22e0c,#b02d0c,#ae2b0b,#ac2a0b,#aa290b)"></i>
<i style="background:linear-gradient(90deg,#3da0f3,#3da1f3,#3ea2f0,#3ea5ed,#3fa8e8,#40ace3,#41b3da,#44becb,#48cfb4,#4fe299,#5eed81,#77ee6e,#91ea5f,#a9e652,#bde247,#cedd3e,#dbd536,#e2c830,#e6b72b,#e8a527,#eb9423,#ed831f,#ed711a,#ea6117,#e55714,#e05113,#dc4e13,#da4d12,#d84b12,#d54911,#d34711,#d04511,#cd4310,#ca4110,#c73f0f,#c53d0f,#c33c0f,#c23a0e,#c0390e,#be380e,#bd360e,#bb350d,#b9340d,#b7320d,#b5310c,#b3300c,#b22e0c,#b02d0c,#ae2b0b,#ac2a0b,#aa290b)"></i>
<i style="background:linear-gradient(90deg,#3da0f3,#3da1f2,#3ea3f0,#3ea5ec,#3fa9e8,#40ade2,#41b4d9,#44bfca,#48d0b3,#4fe298,#5eed80,#76ee6e,#91ea5f,#a8e653,#bce248,#cdde3e,#dad637,#e2c930,#e6b82c,#e8a627,#eb9523,#ec851f,#ed731b,#eb6217,#e55815,#e05213,#dd4f13,#da4d12,#d84b12,#d64911,#d34711,#d04511,#cd4310,#ca4110,#c73f0f,#c53d0f,#c33c0f,#c23a0e,#c0390e,#be380e,#bc360e,#bb350d,#b9340d,#b7320d,#b5310c,#b3300c,#b22e0c,#b02d0b,#ae2b0b,#ac2a0b,#aa290b)"></i>
<i style="background:linear-gradient(90deg,#3da0f3,#3da1f2,#3ea3ef,#3ea6ec,#3fa9e7,#40aee1,#42b4d8,#44c0c9,#48d0b3,#4fe398,#5eed80,#76ee6e,#90ea60,#a7e653,#bbe249,#ccde3f,#d9d737,#e1ca31,#e5ba2c,#e8a828,#ea9723,#ec871f,#ed751b,#eb6417,#e65915,#e15313,#dd4f13,#da4d12,#d84b12,#d64a12,#d34711,#d04511,#cd4310,#ca4110,#c73f0f,#c53d0f,#c33c0f,#c13a0e,#c0390e,#be380e,#bc360e,#bb350d,#b9340d,#b7320d,#b5310c,#b3300c,#b22e0c,#b02d0c,#ae2b0b,#ac2a0b,#aa290b)"></i>
<i style="background:linear-gradient(90deg,#3da1f2,#3da2f1,#3ea3ef,#3fa6eb,#3faae6,#40aee0,#42b5d7,#44c0c8,#48d1b2,#4fe398,#5eed81,#75ee6f,#8fea60,#a6e654,#b9e349,#cadf40,#d8d838,#e1cc31,#e5bb2c,#e8aa28,#ea9924,#ec8820,#ed761c,#ec6518,#e75a15,#e25314,#de5013,#db4d12,#d84c12,#d64a12,#d34811,#d04511,#cd4310,#ca4110,#c73f0f,#c53d0f,#c33c0f,#c13a0e,#c0390e,#be380e,#bc360e,#bb350d,#b9340d,#b7320d,#b5310c,#b3300c,#b22e0c,#b02d0c,#ae2b0b,#ac2a0b,#aa290b)"></i>
<i style="background:linear-gradient(90deg,#3da1f2,#3ea2f1,#3ea4ee,#3fa7ea,#3fabe5,#40afdf,#42b6d6,#44c1c8,#48d1b2,#4fe398,#5eee81,#75ee6f,#8eea61,#a4e655,#b8e34a,#c9df41,#d7d938,#e0cd32,#e5bd2d,#e8ab28,#ea9a24,#ec8a20,#ed781c,#ec6718,#e85b15,#e35414,#df5013,#db4e12,#d94c12,#d64a12,#d34811,#d04511,#cd4310,#ca4110,#c73f0f,#c53d0f,#c33b0f,#c13a0e,#c0390e,#be380e,#bc360e,#bb350d,#b9340d,#b7320d,#b5310c,#b3300c,#b22e0c,#b02d0c,#ae2b0b,#ac2a0b,#aa290b)"></i>
<i style="background:linear-gradient(90deg,#3ea2f1,#3ea3f0,#3ea5ed,#3fa8e9,#40abe4,#41b0de,#42b7d5,#45c1c7,#48d1b1,#4fe398,#5dee81,#74ee6f,#8dea61,#a3e755,#b7e34b,#c8e041,#d6d939,#e0ce32,#e5be2d,#e7ad29,#ea9c25,#ec8c21,#ed7a1c,#ed6818,#e95c15,#e45514,#df5113,#dc4e12,#d94c12,#d64a12,#d34811,#d04511,#cd4310,#ca4110,#c73f0f,#c53d0f,#c33b0f,#c13a0e,#c0390e,#be380e,#bc360e,#bb350d,#b9340d,#b7320d,#b5310c,#b3300c,#b22e0c,#b02d0c,#ae2b0b,#ac2a0b,#aa290b)"></i>
<i style="background:linear-gradient(90deg,#3ea2f0,#3ea3ef,#3ea5ec,#3fa8e8,#40ace3,#41b1dd,#42b7d4,#45c2c6,#48d2b1,#4fe398,#5ded81,#73ee70,#8ceb62,#a2e756,#b5e44c,#c6e042,#d5da3a,#dfcf33,#e4c02d,#e7ae29,#e99e25,#ec8d21,#ed7b1d,#ed6a19,#ea5d16,#e55614,#e05113,#dc4e13,#d94c12,#d64a12,#d44811,#d04511,#cd4310,#ca4110,#c73f0f,#c53d0f,#c33c0f,#c13a0e,#c0390e,#be380e,#bd360e,#bb350d,#b9340d,#b7320d,#b5310c,#b3300c,#b22e0c,#b02d0c,#ae2b0b,#ac2a0b,#ab290b)"></i>
<i style="background:linear-gradient(90deg,#3ea3ef,#3ea4ee,#3ea6eb,#3fa9e7,#40ade2,#41b2dc,#42b8d3,#45c3c5,#48d2b1,#4fe398,#5ded82,#72ee71,#8aeb63,#a0e757,#b3e44c,#c5e043,#d4db3a,#dfd033,#e4c12e,#e7b029,#e99f25,#eb8e21,#ed7d1d,#ed6b19,#ea5e16,#e55714,#e05213,#dc4f13,#d94c12,#d74a12,#d44811,#d04611,#cd4310,#ca4110,#c73f0f,#c53d0f,#c33c0f,#c13a0e,#c0390e,#be380e,#bd360e,#bb350d,#b9340d,#b7320d,#b5310c,#b4300c,#b22e0c,#b02d0c,#ae2b0b,#ac2a0b,#ab290b)"></i>
<i style="background:linear-gradient(90deg,#3ea4ee,#3ea5ed,#3fa7ea,#3faae6,#40aee1,#41b2db,#43b9d2,#45c3c4,#48d2b0,#4fe398,#5ced82,#71ee71,#89eb64,#9ee758,#b2e44d,#c3e144,#d3db3b,#ded134,#e4c22e,#e7b12a,#e9a026,#eb9022,#ed7e1d,#ee6c19,#eb6016,#e65814,#e15213,#dd4f13,#d94c12,#d74a12,#d44811,#d14611,#cd4310,#ca4110,#c73f0f,#c53d0f,#c33c0f,#c23a0e,#c0390e,#be380e,#bd370e,#bb350d,#b9340d,#b7320d,#b5310c,#b4300c,#b22e0c,#b02d0c,#ae2b0b,#ac2a0b,#ab290b)"></i>
<i style="background:linear-gradient(90deg,#3ea5ed,#3ea6ec,#3fa8e9,#3fabe5,#40afe0,#41b3da,#43bad1,#45c4c4,#48d2b0,#4fe398,#5bed83,#70ee72,#87eb65,#9ce859,#b0e44e,#c2e145,#d2dc3c,#ddd234,#e3c42f,#e7b22a,#e9a226,#eb9122,#ed7f1e,#ee6e1a,#ec6117,#e75815,#e15313,#dd4f13,#da4d12,#d74a12,#d44811,#d14611,#cd4310,#ca4110,#c83f0f,#c53d0f,#c33c0f,#c23a0e,#c0390e,#be380e,#bd370e,#bb350d,#b9340d,#b7330d,#b5310c,#b4300c,#b22e0c,#b02d0c,#ae2b0b,#ac2a0b,#ab290b)"></i>
<i style="background:linear-gradient(90deg,#3ea6ec,#3fa6eb,#3fa8e8,#40ace4,#41b0df,#42b4d8,#43bbd0,#45c4c3,#49d2b0,#4ee399,#5bed83,#6eef73,#85ec66,#9be85a,#aee54f,#c0e146,#d0dc3d,#dcd335,#e3c52f,#e6b42a,#e9a326,#eb9222,#ed811e,#ee6f1a,#ec6217,#e85915,#e25314,#dd4f13,#da4d12,#d74a12,#d44811,#d14611,#cd4310,#ca4110,#c83f0f,#c53d0f,#c33c0f,#c23a0e,#c0390e,#be380e,#bd370e,#bb350d,#b9340d,#b7330d,#b6310c,#b4300c,#b22e0c,#b02d0c,#ae2b0b,#ac2a0b,#ab290b)"></i>
<i style="background:linear-gradient(90deg,#3fa7eb,#3fa7e9,#3fa9e7,#40ade3,#41b1dd,#42b5d7,#43bbcf,#45c5c2,#49d3b0,#4ee299,#5aed84,#6def74,#83ec67,#98e85b,#ace550,#bfe246,#cfdd3d,#dcd435,#e3c62f,#e6b52b,#e9a427,#eb9323,#ed821e,#ee711a,#ed6317,#e85a15,#e35414,#dd4f13,#da4d12,#d74a12,#d44811,#d14611,#cd4310,#ca4110,#c83f0f,#c63d0f,#c43c0f,#c23a0e,#c0390e,#bf380e,#bd370e,#bb350d,#b9340d,#b7330d,#b6310c,#b4300c,#b22e0c,#b02d0c,#ae2c0b,#ac2a0b,#ab290b)"></i>
<i style="background:linear-gradient(90deg,#3fa8e9,#3fa9e8,#3fabe5,#40aee1,#41b2dc,#42b6d6,#43bcce,#45c5c1,#49d3b0,#4ee29a,#59ed85,#6bef75,#81ec68,#96e95c,#aae551,#bde247,#cede3e,#dbd536,#e2c730,#e6b62b,#e8a527,#eb9523,#ed831f,#ee721b,#ed6517,#e95b15,#e35414,#de5013,#da4d12,#d74b12,#d44811,#d14611,#ce4310,#cb4110,#c83f0f,#c63d0f,#c43c0f,#c23b0e,#c0390e,#bf380e,#bd370e,#bb350d,#b9340d,#b8330d,#b6310c,#b4300c,#b22e0c,#b02d0c,#ae2c0b,#ac2a0b,#ab290b)"></i>
<i style="background:linear-gradient(90deg,#3fa9e8,#3faae7,#40ace4,#40afe0,#41b3db,#42b7d5,#44bdcd,#46c6c1,#49d3b0,#4ee29a,#58ec86,#6aef76,#7eed69,#94e95e,#a8e652,#bbe248,#ccde3f,#dad636,#e2c830,#e6b72b,#e8a627,#eb9623,#ed841f,#ee731b,#ed6618,#ea5c15,#e45514,#de5013,#da4d12,#d74b12,#d44811,#d14611,#ce4310,#cb4110,#c83f0f,#c63d0f,#c43c0f,#c23b0e,#c0390e,#bf380e,#bd370e,#bb360d,#ba340d,#b8330d,#b6310c,#b4300c,#b22f0c,#b02d0c,#ae2c0b,#ac2a0b,#ab290b)"></i>
<i style="background:linear-gradient(90deg,#3faae6,#40abe5,#40ade2,#41b0de,#41b4d9,#42b8d3,#44becb,#46c7c0,#49d3af,#4de19b,#57ec87,#68ef78,#7ced6b,#91ea5f,#a6e654,#b9e349,#cbde40,#d9d737,#e2c931,#e6b92c,#e8a727,#ea9723,#ed851f,#ee751b,#ee6718,#ea5d16,#e45514,#de5013,#da4d12,#d74b12,#d44811,#d14611,#ce4410,#cb4110,#c83f0f,#c63e0f,#c43c0f,#c23b0e,#c13a0e,#bf380e,#bd370e,#bb360d,#ba340d,#b8330d,#b6310c,#b4300c,#b22f0c,#b02d0c,#ae2c0b,#ad2a0b,#ab290b)"></i>
<i style="background:linear-gradient(90deg,#40abe5,#40ace3,#40aee1,#41b1dd,#42b5d8,#43b9d2,#44bfca,#46c7bf,#49d3af,#4de19b,#56ec88,#66ef79,#79ed6c,#8fea60,#a4e655,#b8e34a,#cadf40,#d8d738,#e1cb31,#e5ba2c,#e8a828,#ea9824,#ed8720,#ee761c,#ee6818,#eb5e16,#e55614,#de5013,#da4d12,#d74b12,#d44811,#d14611,#ce4410,#cb4110,#c83f0f,#c63e0f,#c43c0f,#c23b0e,#c13a0e,#bf380e,#bd370e,#bc360d,#ba340d,#b8330d,#b6320d,#b4300c,#b22f0c,#b02d0c,#af2c0b,#ad2a0b,#ab290b)"></i>
<i style="background:linear-gradient(90deg,#40ace3,#40ade2,#40afdf,#41b2db,#42b6d6,#43bad1,#44bfc9,#46c7bf,#49d3af,#4de19c,#55eb8a,#64ef7b,#77ee6e,#8cea62,#a2e756,#b6e34b,#c8df41,#d8d838,#e1cc31,#e5bb2c,#e8a928,#ea9924,#ec8820,#ee771c,#ee6a19,#eb5f16,#e55614,#df5013,#da4d12,#d74b12,#d44811,#d14611,#ce4410,#cb4110,#c9400f,#c63e0f,#c43c0f,#c33b0e,#c13a0e,#bf380e,#bd370e,#bc360d,#ba340d,#b8330d,#b6320d,#b4300c,#b22f0c,#b12d0c,#af2c0b,#ad2a0b,#ab290b)"></i>
<i style="background:linear-gradient(90deg,#40ade1,#40aee0,#41b0de,#41b3da,#42b7d5,#43bbd0,#44c0c8,#46c8be,#49d3af,#4de09d,#54ea8b,#62ef7c,#74ee6f,#8aeb63,#a0e757,#b4e44c,#c7e042,#d7d939,#e0cd32,#e5bc2c,#e8aa28,#ea9924,#ec8920,#ee791c,#ee6b19,#ec6016,#e65714,#df5113,#da4d12,#d74b12,#d44811,#d14611,#ce4410,#cb4210,#c9400f,#c73e0f,#c53d0f,#c33b0f,#c13a0e,#bf390e,#be370e,#bc360d,#ba350d,#b8330d,#b6320d,#b4300c,#b22f0c,#b12d0c,#af2c0b,#ad2b0b,#ab290b)"></i>
<i style="background:linear-gradient(90deg,#40afe0,#41afdf,#41b1dc,#42b4d9,#42b8d4,#43bcce,#44c1c7,#46c8be,#48d3af,#4ce09e,#53ea8c,#60ee7e,#72ee71,#87eb65,#9de858,#b2e44d,#c5e043,#d6d939,#e0ce32,#e5bd2d,#e8ab28,#ea9a24,#ec8a20,#ee7a1c,#ef6c19,#ec6117,#e65714,#df5113,#da4d12,#d74b12,#d44811,#d14611,#ce4410,#cb4210,#c9400f,#c73e0f,#c53d0f,#c33b0f,#c13a0e,#bf390e,#be370e,#bc360d,#ba350d,#b8330d,#b6320d,#b4300c,#b32f0c,#b12d0c,#af2c0b,#ad2b0b,#ac2a0b)"></i>
<i style="background:linear-gradient(90deg,#41b0de,#41b1dd,#41b2db,#42b5d7,#43b9d3,#43bdcd,#45c2c7,#46c9bd,#48d3b0,#4cdf9f,#53e98e,#5eee80,#6fee73,#84ec66,#9be85a,#b0e44e,#c4e044,#d5da3a,#dfcf33,#e5be2d,#e7ac29,#ea9b24,#ec8b21,#ee7b1d,#ef6e1a,#ec6217,#e65815,#df5113,#db4d12,#d74b12,#d44911,#d14611,#ce4410,#cc4210,#c94010,#c73e0f,#c53d0f,#c33b0f,#c13a0e,#c0390e,#be370e,#bc360d,#ba350d,#b8330d,#b6320d,#b5300c,#b32f0c,#b12e0c,#af2c0b,#ad2b0b,#ac2a0b)"></i>
<i style="background:linear-gradient(90deg,#41b1dd,#41b2dc,#41b3da,#42b6d6,#43b9d1,#44bdcc,#45c2c6,#46c9bd,#48d3b0,#4cde9f,#52e88f,#5cee81,#6cef75,#82ec68,#99e85b,#afe54f,#c2e144,#d4db3b,#dfcf33,#e4bf2d,#e7ad29,#ea9c25,#ec8c21,#ee7c1d,#ef6f1a,#ed6317,#e75915,#df5113,#db4d12,#d74b12,#d44911,#d24611,#cf4410,#cc4210,#c94010,#c73e0f,#c53d0f,#c33c0f,#c23a0e,#c0390e,#be380e,#bc360d,#ba350d,#b8330d,#b7320d,#b5300c,#b32f0c,#b12e0c,#af2c0b,#ad2b0b,#ac2a0b)"></i>
<i style="background:linear-gradient(90deg,#41b2dc,#41b3db,#42b4d8,#42b7d5,#43bad0,#44becb,#45c3c5,#46c9bc,#48d3b0,#4bdea0,#51e891,#5bed83,#6aef76,#7fed69,#97e95c,#ade550,#c1e145,#d3db3b,#ded033,#e4c02e,#e7ae29,#ea9d25,#ec8d21,#ee7e1d,#ef701a,#ed6417,#e75915,#e05113,#db4d12,#d74b12,#d44911,#d24611,#cf4410,#cc4210,#ca4010,#c73f0f,#c53d0f,#c33c0f,#c23a0e,#c0390e,#be380e,#bc360d,#ba350d,#b9330d,#b7320d,#b5310c,#b32f0c,#b12e0c,#af2c0b,#ad2b0b,#ac2a0b)"></i>
<i style="background:linear-gradient(90deg,#41b3da,#41b4d9,#42b5d7,#42b8d4,#43bbcf,#44bfca,#45c3c4,#46cabc,#48d3b0,#4bdda1,#50e792,#59ed85,#68ef78,#7ced6b,#94e95d,#abe551,#bfe146,#d1dc3c,#ded134,#e4c12e,#e7af29,#e99e25,#ec8e21,#ee7f1e,#ef711a,#ed6518,#e75a15,#e05213,#db4d12,#d74b12,#d54911,#d24711,#cf4410,#cc4210,#ca4010,#c83f0f,#c63d0f,#c43c0f,#c23a0e,#c0390e,#be380e,#bc360e,#ba350d,#b9330d,#b7320d,#b5310c,#b32f0c,#b12e0c,#af2c0b,#ad2b0b,#ac2a0b)"></i>
<i style="background:linear-gradient(90deg,#41b4d9,#42b4d8,#42b6d6,#43b8d3,#43bccf,#44bfca,#45c4c4,#46cabb,#48d2b0,#4bdda2,#4fe694,#57ec87,#65ef7a,#7aed6c,#92ea5f,#a9e652,#bee247,#d0dc3c,#ddd234,#e4c22e,#e7b029,#e99e25,#ec8f21,#ed801e,#ef731b,#ed6618,#e85a15,#e05213,#db4d12,#d74b12,#d54911,#d24711,#cf4510,#cc4310,#ca4110,#c83f0f,#c63d0f,#c43c0f,#c23b0e,#c0390e,#be380e,#bc360e,#bb350d,#b9340d,#b7320d,#b5310c,#b32f0c,#b12e0c,#af2c0b,#ae2b0b,#ac2a0b)"></i>
<i style="background:linear-gradient(90deg,#42b4d8,#42b5d7,#42b7d5,#43b9d2,#43bcce,#44c0c9,#45c4c3,#46cabb,#48d2b0,#4bdca3,#4fe596,#56ec88,#63ef7b,#77ee6e,#90ea60,#a7e653,#bde248,#cfdd3d,#ddd335,#e3c32f,#e7b12a,#e99f25,#eb8f22,#ed811e,#ef741b,#ee6718,#e85b15,#e05213,#db4e12,#d84b12,#d54911,#d24711,#cf4511,#cd4310,#ca4110,#c83f0f,#c63e0f,#c43c0f,#c23b0e,#c0390e,#be380e,#bd360e,#bb350d,#b9340d,#b7320d,#b5310c,#b32f0c,#b12e0c,#af2d0b,#ae2b0b,#ac2a0b)"></i>
<i style="background:linear-gradient(90deg,#42b5d7,#42b6d6,#42b7d4,#43bad1,#43bdcd,#44c0c9,#45c4c3,#46cabb,#48d2b1,#4bdba4,#4ee497,#55eb8a,#61ef7d,#75ee6f,#8eea61,#a6e654,#bbe248,#cedd3e,#dcd435,#e3c42f,#e7b22a,#e9a026,#eb9022,#ed821e,#ef751b,#ee6818,#e85b15,#e05213,#db4e12,#d84b12,#d54911,#d24711,#d04511,#cd4310,#ca4110,#c83f0f,#c63e0f,#c43c0f,#c23b0e,#c0390e,#bf380e,#bd370e,#bb350d,#b9340d,#b7320d,#b5310c,#b32f0c,#b12e0c,#b02d0b,#ae2b0b,#ac2a0b)"></i>
<i style="background:linear-gradient(90deg,#42b6d7,#42b6d6,#42b8d4,#43bad0,#44bdcd,#44c0c8,#45c4c3,#46cabb,#48d2b1,#4adaa5,#4de399,#53ea8c,#5fee7f,#73ee71,#8beb62,#a4e755,#bae349,#cdde3e,#dbd436,#e3c52f,#e7b22a,#e9a126,#eb9122,#ed831f,#ee761b,#ee6918,#e85b15,#e15213,#db4e12,#d84b12,#d54911,#d24711,#d04511,#cd4310,#cb4110,#c83f0f,#c63e0f,#c43c0f,#c23b0e,#c1390e,#bf380e,#bd370e,#bb350d,#b9340d,#b7320d,#b5310c,#b32f0c,#b12e0c,#b02d0b,#ae2b0b,#ad2a0b)"></i>
<i style="background:linear-gradient(90deg,#42b6d6,#42b7d5,#43b8d3,#43bbd0,#44bdcc,#44c1c8,#45c5c3,#46cabb,#48d1b2,#4ad9a7,#4de29a,#52ea8e,#5dee80,#70ee72,#89eb63,#a2e756,#b8e34a,#ccde3f,#dbd536,#e3c62f,#e6b32a,#e9a126,#eb9222,#ed841f,#ee771c,#ee6919,#e95c15,#e15313,#db4e12,#d84b12,#d54911,#d34711,#d04511,#cd4310,#cb4110,#c9400f,#c73e0f,#c43c0f,#c33b0e,#c13a0e,#bf380e,#bd370e,#bb350d,#b9340d,#b7320d,#b5310c,#b32f0c,#b22e0c,#b02d0c,#ae2b0b,#ad2a0b)"></i>
<i style="background:linear-gradient(90deg,#42b6d5,#42b7d5,#43b9d3,#43bbd0,#44becc,#44c1c8,#45c5c2,#46cabb,#48d1b2,#4ad9a8,#4ce19c,#51e98f,#5bee82,#6eee73,#87eb65,#a0e757,#b7e34b,#cbde40,#dad637,#e2c730,#e6b42b,#e9a226,#eb9322,#ed851f,#ee781c,#ee6a19,#e95c16,#e15313,#db4e12,#d84b12,#d54911,#d34711,#d04511,#ce4310,#cb4210,#c9400f,#c73e0f,#c53d0f,#c33b0f,#c13a0e,#bf380e,#bd370e,#bb350d,#b9340d,#b7320d,#b5310c,#b3300c,#b22e0c,#b02d0c,#ae2b0b,#ad2a0b)"></i>
<i style="background:linear-gradient(90deg,#42b7d5,#42b7d4,#43b9d2,#43bbcf,#44becc,#44c1c8,#45c5c3,#46cabc,#48d0b3,#4ad8a9,#4ce09e,#50e891,#5aee83,#6cef75,#85ec66,#9fe758,#b6e34b,#cadf40,#d9d737,#e2c830,#e6b52b,#e9a326,#eb9323,#ed861f,#ee791c,#ee6b19,#e95d16,#e15313,#dc4e12,#d84b12,#d54911,#d34711,#d04611,#ce4410,#cb4210,#c94010,#c73e0f,#c53d0f,#c33b0f,#c13a0e,#bf380e,#bd370e,#bb350d,#b9340d,#b7320d,#b5310c,#b3300c,#b22e0c,#b02d0c,#ae2c0b,#ad2b0b)"></i>
<i style="background:linear-gradient(90deg,#42b7d5,#42b8d4,#43b9d2,#43bbcf,#44becc,#44c1c8,#45c4c3,#46cabc,#48d0b4,#49d7aa,#4cdf9f,#50e793,#58ed85,#6aef76,#83ec67,#9de859,#b4e44c,#c9df41,#d8d738,#e2c930,#e6b62b,#e9a326,#eb9423,#ed871f,#ee791c,#ee6b19,#e95d16,#e15314,#dc4e12,#d84c12,#d64a12,#d34811,#d14611,#ce4410,#cc4210,#c94010,#c73e0f,#c53d0f,#c33b0f,#c13a0e,#bf380e,#bd370e,#bb350d,#b9340d,#b7320d,#b5310c,#b3300c,#b22e0c,#b02d0c,#ae2c0b,#ad2b0b)"></i>
<i style="background:linear-gradient(90deg,#42b7d5,#42b8d4,#43b9d2,#43bbcf,#44becc,#44c1c8,#45c4c3,#46c9bc,#48cfb4,#49d6ab,#4bdea1,#4fe694,#57ed86,#68ef77,#81ec68,#9be85a,#b3e44d,#c8df41,#d8d838,#e1ca31,#e6b62b,#e9a427,#eb9523,#ed8720,#ee7a1d,#ee6c19,#e95e16,#e25314,#dc4e13,#d94c12,#d64a12,#d34811,#d14611,#ce4410,#cc4210,#c94010,#c73f0f,#c53d0f,#c33b0f,#c13a0e,#bf380e,#bd370e,#bb350d,#b9340d,#b7320d,#b5310c,#b3300c,#b22e0c,#b02d0c,#ae2c0b,#ad2b0b)"></i>
<i style="background:linear-gradient(90deg,#42b7d5,#42b8d4,#43b9d2,#43bbcf,#44becc,#44c1c8,#45c4c3,#46c9bd,#47cfb5,#49d5ad,#4bdca2,#4ee596,#56ec88,#66ef79,#7fed69,#9ae85a,#b2e44d,#c7e042,#d7d838,#e1ca31,#e6b72b,#e9a527,#eb9523,#ec8820,#ee7b1d,#ee6d19,#ea5e16,#e25414,#dc4e13,#d94c12,#d64a12,#d44811,#d14611,#cf4410,#cc4210,#ca4010,#c73f0f,#c53d0f,#c33b0f,#c13a0e,#bf380e,#bd370e,#bb350d,#b9340d,#b7320d,#b5310c,#b4300c,#b22e0c,#b02d0c,#ae2c0b,#ad2b0b)"></i>
<i style="background:linear-gradient(90deg,#42b7d5,#42b8d4,#43b9d2,#43bbcf,#44bdcc,#44c0c8,#45c4c4,#46c8be,#47ceb6,#49d4ae,#4bdba4,#4ee498,#55ec89,#65ef7a,#7ded6a,#98e95b,#b0e44e,#c5e043,#d6d939,#e1cb31,#e6b82c,#e8a527,#eb9623,#ec8920,#ee7c1d,#ee6d19,#ea5e16,#e25414,#dc4f13,#d94c12,#d64a12,#d44811,#d14611,#cf4410,#cc4210,#ca4110,#c83f0f,#c53d0f,#c33b0f,#c13a0e,#bf380e,#bd370e,#bb350d,#b9340d,#b7320d,#b5310c,#b4300c,#b22e0c,#b02d0c,#af2c0b,#ad2b0b)"></i>
<i style="background:linear-gradient(90deg,#42b7d5,#42b8d4,#43b9d2,#43bbcf,#44bdcc,#44c0c9,#45c3c4,#46c8be,#47cdb7,#48d3af,#4adaa6,#4de399,#54eb8b,#63ef7b,#7bed6b,#96e95c,#afe54f,#c4e043,#d5d939,#e0cc32,#e5b92c,#e8a627,#ea9623,#ec8920,#ee7c1d,#ee6e1a,#ea5f16,#e25414,#dd4f13,#d94c12,#d74a12,#d44911,#d24711,#cf4510,#cd4310,#ca4110,#c83f0f,#c53d0f,#c33c0f,#c13a0e,#bf380e,#bd370e,#bb350d,#b9340d,#b7320d,#b5310c,#b4300c,#b22e0c,#b02d0c,#af2c0b,#ad2b0b)"></i>
<i style="background:linear-gradient(90deg,#42b7d5,#42b7d4,#43b9d2,#43bbd0,#44bdcd,#44c0c9,#45c3c5,#46c7bf,#47ccb8,#48d2b1,#4ad9a7,#4de29b,#53ea8c,#61ef7d,#79ed6d,#95e95d,#aee54f,#c3e144,#d4da3a,#e0cd32,#e5b92c,#e8a627,#ea9723,#ec8a20,#ee7d1d,#ee6e1a,#ea5f16,#e35414,#dd4f13,#da4c12,#d74b12,#d54911,#d24711,#cf4511,#cd4310,#ca4110,#c83f0f,#c63d0f,#c33c0f,#c13a0e,#bf380e,#bd370e,#bb350d,#b9340d,#b7320d,#b5310c,#b4300c,#b22e0c,#b02d0c,#af2c0b,#ae2b0b)"></i>
<i style="background:linear-gradient(90deg,#42b7d5,#42b7d4,#43b9d2,#43bbd0,#44bdcd,#44bfca,#45c2c5,#46c7c0,#47cbb9,#48d1b2,#4ad8a9,#4ce19c,#52ea8e,#60ee7e,#77ee6e,#93e95e,#ade550,#c2e145,#d4da3b,#dfcd32,#e5ba2c,#e8a727,#ea9724,#ec8a20,#ee7e1d,#ee6f1a,#ea5f16,#e35414,#dd4f13,#da4d12,#d74b12,#d54911,#d24711,#d04511,#cd4310,#ca4110,#c83f0f,#c63d0f,#c33c0f,#c13a0e,#bf380e,#bd370e,#bb350d,#b9340d,#b7320d,#b5310c,#b4300c,#b22e0c,#b02d0c,#af2c0b,#ae2b0b)"></i>
<i style="background:linear-gradient(90deg,#42b6d5,#42b7d4,#43b8d3,#43bad0,#43bccd,#44bfca,#45c2c6,#46c6c1,#47cbba,#48d0b4,#49d7aa,#4ce09e,#51e98f,#5fee7f,#76ee6f,#92ea5f,#abe551,#c1e145,#d3db3b,#dfce33,#e5bb2c,#e8a727,#ea9824,#ec8b21,#ee7e1d,#ee6f1a,#ea6016,#e35514,#dd4f13,#da4d12,#d84b12,#d54911,#d34711,#d04511,#cd4310,#cb4110,#c83f0f,#c63d0f,#c33c0f,#c13a0e,#bf380e,#bd370e,#bb350d,#b9340d,#b7320d,#b5310c,#b4300c,#b22e0c,#b02d0c,#af2c0b,#ae2b0b)"></i>
<i style="background:linear-gradient(90deg,#42b6d6,#42b7d5,#43b8d3,#43bad1,#43bcce,#44bfcb,#45c1c7,#45c5c2,#46cabc,#47cfb5,#49d6ac,#4cdf9f,#51e891,#5dee80,#74ee70,#90ea60,#aae552,#c0e146,#d2db3c,#decf33,#e5bb2d,#e8a828,#ea9824,#ec8c21,#ee7f1e,#ee701a,#eb6016,#e35514,#de5013,#da4d12,#d84b12,#d64a12,#d34711,#d04511,#cd4310,#cb4110,#c83f0f,#c63e0f,#c43c0f,#c13a0e,#bf380e,#bd370e,#bb350d,#b9340d,#b7320d,#b5310c,#b4300c,#b22e0c,#b02d0c,#af2c0b,#ae2b0b)"></i>
<i style="background:linear-gradient(90deg,#42b6d6,#42b7d5,#42b8d3,#43bad1,#43bcce,#44becb,#44c1c7,#45c5c3,#46c9bd,#47ceb6,#49d5ad,#4bdea1,#50e792,#5cee82,#72ee71,#8eea61,#a9e652,#bfe246,#d1dc3c,#ddcf34,#e4bc2d,#e8a828,#ea9924,#ec8c21,#ed7f1e,#ee701a,#eb6016,#e45514,#de5013,#db4d12,#d84c12,#d64a12,#d34811,#d04611,#ce4410,#cb4210,#c9400f,#c63e0f,#c43c0f,#c13a0e,#bf380e,#bd370e,#bb350d,#b9340d,#b7320d,#b5310c,#b4300c,#b22e0c,#b02d0c,#af2c0b,#ae2b0b)"></i>
<i style="background:linear-gradient(90deg,#42b6d6,#42b7d5,#42b8d4,#43bad1,#43bccf,#44becc,#44c0c8,#45c4c3,#46c8be,#47cdb8,#49d3af,#4bdda2,#4fe793,#5bed83,#70ee72,#8dea61,#a7e653,#bde247,#cfdc3d,#ddd034,#e4bd2d,#e8a928,#ea9924,#ec8d21,#ed801e,#ee711a,#eb6117,#e45514,#de5013,#db4e12,#d94c12,#d64a12,#d44811,#d14611,#ce4410,#cb4210,#c9400f,#c63e0f,#c43c0f,#c13a0e,#bf380e,#bd370e,#bb350d,#b9340d,#b7320d,#b5310c,#b4300c,#b22e0c,#b02d0c,#af2c0b,#ae2b0b)"></i>
<i style="background:linear-gradient(90deg,#42b6d6,#42b6d5,#42b8d4,#43b9d2,#43bbcf,#44bdcc,#44c0c9,#45c3c4,#46c7bf,#47ccb9,#48d2b0,#4bdca4,#4fe695,#5aed84,#6fee73,#8beb62,#a6e654,#bce248,#cedd3e,#dcd135,#e4be2d,#e8aa28,#ea9a24,#ec8d21,#ed801e,#ee711a,#eb6117,#e45614,#de5013,#db4e12,#d94c12,#d74a12,#d44811,#d14611,#ce4410,#cc4210,#c9400f,#c63e0f,#c43c0f,#c13a0e,#bf380e,#bd370e,#bb350d,#b9340d,#b7320d,#b5310c,#b4300c,#b22e0c,#b12d0c,#af2c0b,#ae2c0b)"></i>
<i style="background:linear-gradient(90deg,#42b6d7,#42b6d6,#42b7d4,#43b9d2,#43bbcf,#44bdcd,#44bfc9,#45c3c5,#46c6c0,#47cabb,#48d1b2,#4adba5,#4ee596,#58ed85,#6dee74,#89eb63,#a5e654,#bbe249,#cddd3e,#dbd235,#e3bf2e,#e7ab28,#ea9b24,#ec8e21,#ed811e,#ee721b,#eb6217,#e45614,#df5113,#dc4e12,#d94c12,#d74b12,#d44811,#d14611,#cf4410,#cc4210,#c94010,#c63e0f,#c43c0f,#c13a0e,#bf380e,#bd370e,#bb350d,#b9340d,#b7320d,#b5310c,#b4300c,#b22f0c,#b12d0c,#af2c0b,#ae2c0b)"></i>
<i style="background:linear-gradient(90deg,#42b5d7,#42b6d6,#42b7d4,#43b9d2,#43bbd0,#43bdcd,#44bfca,#45c2c6,#45c5c2,#46c9bc,#48d0b3,#4adaa6,#4ee497,#57ec87,#6cee75,#88eb64,#a3e755,#b9e349,#cbdd3f,#dad236,#e3c02e,#e7ab29,#ea9c25,#eb8f21,#ed821e,#ee731b,#eb6217,#e55714,#df5113,#dc4e13,#da4d12,#d74b12,#d54911,#d24611,#cf4410,#cc4210,#c94010,#c73e0f,#c43c0f,#c13a0e,#bf380e,#bd370e,#bb350d,#b9340d,#b7320d,#b5310c,#b4300c,#b22f0c,#b12d0c,#af2c0b,#ae2c0b)"></i>
<i style="background:linear-gradient(90deg,#42b5d7,#42b6d6,#42b7d4,#43b9d2,#43bad0,#43bcce,#44becb,#44c1c7,#45c4c3,#46c9bd,#48cfb4,#4ad9a8,#4ee399,#56ec88,#6aee77,#86eb65,#a2e756,#b8e34a,#cade40,#d9d337,#e2c12f,#e7ac29,#ea9c25,#eb9022,#ed831f,#ee731b,#ec6317,#e55714,#e05113,#dc4f13,#da4d12,#d84b12,#d54911,#d24711,#cf4510,#cc4210,#ca4010,#c73e0f,#c43c0f,#c13a0e,#bf380e,#bd370e,#bb350d,#b9340d,#b7320d,#b5310c,#b4300c,#b22f0c,#b12d0c,#af2c0b,#ae2c0b)"></i>
<i style="background:linear-gradient(90deg,#42b5d7,#42b6d6,#42b7d5,#43b9d3,#43bad0,#43bcce,#44becb,#44c1c8,#45c4c4,#46c8bf,#47ceb6,#4ad8a9,#4de29a,#56eb89,#68ee78,#84ec66,#a0e757,#b6e34b,#c8de41,#d7d438,#e1c22f,#e7ad29,#e99d25,#eb9122,#ed831f,#ee741b,#ec6417,#e65814,#e05213,#dd4f13,#da4d12,#d84b12,#d54911,#d24711,#cf4511,#cd4310,#ca4110,#c73e0f,#c43c0f,#c23a0e,#bf380e,#bd370e,#bb350d,#b9340d,#b7320d,#b5310c,#b4300c,#b22f0c,#b12d0c,#af2d0b,#af2c0b)"></i>
<i style="background:linear-gradient(90deg,#42b5d7,#42b6d6,#42b7d5,#43b8d3,#43bad1,#43bcce,#44becc,#44c0c9,#45c3c5,#46c7c0,#47cdb7,#49d7aa,#4de19b,#55eb8b,#67ee79,#83ec67,#9ee758,#b4e44c,#c6df42,#d6d538,#e1c330,#e6af2a,#e99f25,#eb9222,#ed841f,#ee751b,#ec6417,#e65815,#e05213,#dd4f13,#db4d12,#d84b12,#d54911,#d34711,#d04511,#cd4310,#ca4110,#c73e0f,#c43c0f,#c23a0e,#bf380e,#bd370e,#bb350d,#b9340d,#b7320d,#b5310c,#b4300c,#b22f0c,#b12e0c,#b02d0b,#af2c0b)"></i>
<i style="background:linear-gradient(90deg,#42b5d7,#42b6d6,#42b7d5,#43b8d3,#43bad1,#43bccf,#44bdcc,#44c0c9,#45c2c6,#46c6c1,#47ccb8,#49d6ac,#4ce09d,#54ea8c,#66ee7a,#81ec68,#9ce859,#b2e44d,#c4df43,#d4d639,#e0c431,#e6b02a,#e9a026,#eb9322,#ed851f,#ee761c,#ec6518,#e65915,#e15213,#dd4f13,#db4e12,#d84c12,#d64912,#d34711,#d04511,#cd4310,#ca4110,#c73f0f,#c43c0f,#c23a0e,#bf390e,#bd370e,#bb350d,#b9340d,#b7320d,#b5310c,#b4300c,#b22f0c,#b12e0c,#b02d0b,#af2c0b)"></i>
<i style="background:linear-gradient(90deg,#42b5d7,#42b6d6,#42b7d4,#43b8d3,#43bad1,#43bbcf,#44bdcd,#44bfca,#45c1c7,#45c5c2,#47cbba,#49d5ad,#4ce09e,#53ea8d,#64ee7b,#7fec69,#9ae85a,#b0e44e,#c2e044,#d2d73b,#dec632,#e5b22b,#e9a126,#eb9423,#ed861f,#ee771c,#ec6618,#e75915,#e15313,#de5013,#db4e12,#d94c12,#d64a12,#d34811,#d04511,#ce4310,#cb4110,#c83f0f,#c53d0f,#c23a0e,#bf390e,#bd370e,#bb350d,#b9340d,#b7320d,#b5310c,#b4300c,#b22f0c,#b12e0c,#b02d0c,#af2c0b)"></i>
<i style="background:linear-gradient(90deg,#42b6d7,#42b6d6,#42b7d4,#43b8d3,#43bad1,#43bbcf,#44bdcd,#44bfcb,#44c1c8,#45c4c3,#47cabb,#49d4ae,#4cdf9f,#52e98e,#63ee7c,#7ded6a,#98e85b,#aee550,#c0e146,#d0d83c,#ddc733,#e4b32b,#e8a327,#ea9523,#ec8820,#ee781c,#ec6718,#e75a15,#e25314,#de5013,#db4e12,#d94c12,#d64a12,#d34811,#d14611,#ce4410,#cb4110,#c83f0f,#c53d0f,#c23b0e,#bf390e,#bd370e,#bb350d,#b9340d,#b7320d,#b6310c,#b4300c,#b22f0c,#b12e0c,#b02d0c,#af2c0b)"></i>
<i style="background:linear-gradient(90deg,#42b6d6,#42b6d5,#42b7d4,#43b9d3,#43bad1,#43bbcf,#43bdcd,#44becb,#44c0c9,#45c3c4,#46cabc,#48d3b0,#4bdea1,#52e890,#61ee7d,#7bed6c,#96e95c,#abe551,#bde147,#cdd93d,#dbc934,#e3b52c,#e8a527,#ea9724,#ec8920,#ee7a1c,#ed6918,#e85b15,#e25414,#de5013,#dc4e12,#d94c12,#d64a12,#d44811,#d14611,#ce4410,#cb4210,#c83f0f,#c53d0f,#c23b0e,#bf390e,#bd370e,#bb350d,#b9340d,#b7330d,#b6310c,#b4300c,#b22f0c,#b12e0c,#b02d0c,#af2c0b)"></i>
<i style="background:linear-gradient(90deg,#42b6d6,#42b7d5,#42b8d4,#43b9d2,#43bad1,#43bbcf,#43bccd,#44becc,#44c0c9,#45c3c5,#46c9bd,#48d2b1,#4bdda2,#51e891,#60ee7f,#79ed6d,#94e95e,#a9e652,#bae249,#cbda3f,#d9ca35,#e2b72d,#e7a728,#ea9824,#ec8b21,#ed7b1d,#ed6a19,#e85c16,#e35414,#df5113,#dc4e13,#d94c12,#d74a12,#d44811,#d14611,#cf4410,#cc4210,#c83f0f,#c53d0f,#c23b0e,#c0390e,#bd370e,#bb350d,#b9340d,#b7330d,#b6310c,#b4300c,#b22f0c,#b12e0c,#b02d0c,#af2c0b)"></i>
<i style="background:linear-gradient(90deg,#42b7d5,#42b7d4,#42b8d3,#43b9d2,#43bad0,#43bbcf,#43bcce,#44bdcc,#44bfca,#45c2c6,#46c8be,#48d1b2,#4bdca3,#50e792,#5fee80,#77ed6e,#92ea5f,#a6e654,#b7e24a,#c8db41,#d7cc36,#e1ba2e,#e6a929,#e99a25,#eb8c21,#ed7d1d,#ed6c19,#e95d16,#e35514,#df5113,#dc4e13,#d94c12,#d74a12,#d44811,#d24611,#cf4410,#cc4210,#c8400f,#c53d0f,#c23b0e,#c0390e,#bd370e,#bb360d,#b9340d,#b7330d,#b6310c,#b4300c,#b32f0c,#b12e0c,#b02d0c,#af2c0b)"></i>
<i style="background:linear-gradient(90deg,#42b7d4,#42b8d4,#43b8d3,#43b9d2,#43bad0,#43bbcf,#43bcce,#44bdcc,#44bfcb,#45c1c7,#46c7bf,#48d0b3,#4bdba4,#50e693,#5ded81,#75ee6f,#8fea60,#a3e755,#b4e34c,#c5dc42,#d5ce38,#dfbc2f,#e5ab2a,#e99d25,#eb8e22,#ed7f1e,#ed6e1a,#e95f16,#e45614,#df5113,#dc4f13,#da4c12,#d74a12,#d44911,#d24711,#cf4511,#cc4210,#c9400f,#c53d0f,#c23b0e,#c0390e,#bd370e,#bb360d,#b9340d,#b8330d,#b6310c,#b4300c,#b32f0c,#b12e0c,#b02d0c,#af2c0b)"></i>
<i style="background:linear-gradient(90deg,#42b8d4,#42b8d3,#43b9d2,#43bad1,#43bbd0,#43bbcf,#43bcce,#44bdcd,#44becb,#44c1c8,#46c6c0,#48cfb4,#4adaa6,#4fe595,#5ced82,#73ee70,#8dea62,#a0e757,#b0e44e,#c1dd44,#d2d03a,#debf31,#e4ae2b,#e89f26,#eb9122,#ed811e,#ed701a,#ea6016,#e45614,#e05213,#dd4f13,#da4d12,#d74b12,#d54911,#d24711,#d04511,#cd4310,#c94010,#c63d0f,#c33b0e,#c0390e,#be370e,#bb360d,#ba340d,#b8330d,#b6310c,#b4300c,#b32f0c,#b12e0c,#b02d0c,#af2d0b)"></i>
<i style="background:linear-gradient(90deg,#43b8d3,#43b9d2,#43b9d2,#43bad1,#43bbd0,#43bcce,#43bcce,#43bdcd,#44becc,#44c0c8,#46c6c1,#47ceb5,#4ad9a7,#4fe596,#5bed83,#71ee72,#8aeb63,#9de858,#ade450,#bede46,#cfd23b,#dbc132,#e3b12c,#e7a227,#ea9323,#ec841f,#ed721b,#ea6217,#e55714,#e05213,#dd4f13,#da4d12,#d74b12,#d54911,#d34711,#d04511,#cd4310,#c94010,#c63e0f,#c33b0f,#c0390e,#be370e,#bc360d,#ba340d,#b8330d,#b6310c,#b4300c,#b32f0c,#b12e0c,#b02d0c,#b02d0b)"></i>
<i style="background:linear-gradient(90deg,#43b9d2,#43b9d1,#43bad1,#43bbd0,#43bbcf,#43bcce,#43bcce,#43bccd,#44bdcc,#44c0c9,#45c5c2,#47ceb7,#4ad8a8,#4ee497,#5aec85,#6fee73,#87eb65,#9ae85a,#a9e552,#bae049,#ccd43d,#d9c434,#e1b42d,#e6a428,#e99624,#ec8620,#ed741b,#eb6317,#e65815,#e15213,#dd4f13,#da4d12,#d74b12,#d54911,#d34711,#d04611,#cd4310,#ca4010,#c63e0f,#c33b0f,#c0390e,#be370e,#bc360d,#ba340d,#b8330d,#b6320d,#b4300c,#b32f0c,#b22e0c,#b02d0c,#b02d0b)"></i>
<i style="background:linear-gradient(90deg,#43bad1,#43bad0,#43bbd0,#43bbcf,#43bccf,#43bcce,#43bcce,#43bcce,#44bdcd,#44bfca,#45c4c3,#47cdb8,#4ad7a9,#4ee398,#59ec86,#6dee74,#84ec66,#97e95c,#a6e654,#b6e14b,#c8d640,#d6c736,#dfb72f,#e4a829,#e99925,#ec8920,#ed761c,#eb6518,#e65915,#e15313,#dd4f13,#da4d12,#d84b12,#d54911,#d34811,#d14611,#ce4310,#ca4110,#c63e0f,#c33b0f,#c0390e,#be380e,#bc360d,#ba340d,#b8330d,#b6320d,#b5300c,#b32f0c,#b22e0c,#b12d0c,#b02d0c)"></i>
<i style="background:linear-gradient(90deg,#43bbcf,#43bbcf,#43bbcf,#43bccf,#43bcce,#43bcce,#43bcce,#43bcce,#43bdcd,#44bfca,#45c4c3,#47ccb9,#49d7aa,#4ee299,#58ec87,#6bee76,#81ec68,#93e95e,#a2e756,#b2e24d,#c4d842,#d3ca38,#dcba31,#e3ab2b,#e89c26,#eb8c21,#ed791c,#eb6718,#e75a15,#e25314,#dd5013,#da4d12,#d84b12,#d54911,#d34811,#d14611,#ce4410,#ca4110,#c73e0f,#c33c0f,#c13a0e,#be380e,#bc360d,#ba350d,#b8330d,#b6320d,#b5300c,#b32f0c,#b22e0c,#b12d0c,#b02d0c)"></i>
<i style="background:linear-gradient(90deg,#43bcce,#43bcce,#43bcce,#43bcce,#43bccd,#43bdcd,#43bcce,#43bcce,#43bcce,#44becb,#45c3c4,#47cbba,#49d6ab,#4de29b,#57eb88,#69ef77,#7eed69,#90ea60,#9ee758,#ade34f,#c0da44,#d0cd3a,#dabe33,#e1ae2c,#e6a027,#ea9022,#ed7c1d,#ec6919,#e75c15,#e25414,#de5013,#da4d12,#d84b12,#d64a12,#d44811,#d14611,#ce4410,#cb4110,#c73e0f,#c43c0f,#c13a0e,#be380e,#bc360d,#ba350d,#b8330d,#b6320d,#b5310c,#b32f0c,#b22e0c,#b12e0c,#b02d0c)"></i>
<i style="background:linear-gradient(90deg,#44bdcd,#44bdcd,#44bdcd,#44bdcd,#44bdcd,#44bdcd,#43bccd,#43bcce,#43bcce,#44becb,#45c3c5,#47cbba,#49d5ac,#4de19c,#56eb89,#67ef78,#7ced6b,#8deb61,#9ae85a,#a9e452,#bcdc47,#ccd03d,#d7c135,#dfb22e,#e5a328,#ea9323,#ec7f1e,#ec6b19,#e85d16,#e35514,#de5013,#db4d12,#d84b12,#d64a12,#d44811,#d24611,#cf4410,#cb4110,#c73e0f,#c43c0f,#c13a0e,#bf380e,#bc360e,#ba350d,#b8330d,#b7320d,#b5310c,#b3300c,#b22f0c,#b12e0c,#b02d0c)"></i>
<i style="background:linear-gradient(90deg,#44becb,#44becb,#44becc,#44becc,#44bdcc,#44bdcc,#43bdcd,#43bcce,#43bcce,#44becc,#45c2c6,#46cabb,#49d4ad,#4de09d,#55eb8b,#65ef7a,#79ee6d,#89eb63,#96e95c,#a5e554,#b8de49,#c8d23f,#d3c537,#dcb630,#e3a72a,#e99724,#ec821e,#ec6d1a,#e95e16,#e35514,#de5013,#db4d12,#d84b12,#d64a12,#d44811,#d24711,#cf4410,#cb4210,#c73f0f,#c43c0f,#c13a0e,#bf380e,#bd360e,#bb350d,#b9330d,#b7320d,#b5310c,#b4300c,#b22f0c,#b12e0c,#b02d0c)"></i>
<i style="background:linear-gradient(90deg,#44bfca,#44bfca,#44bfcb,#44becb,#44becb,#44bdcc,#43bdcd,#43bcce,#43bccf,#44bdcc,#45c2c6,#46c9bc,#49d4ae,#4ce09e,#54ea8c,#63ef7b,#76ee6e,#86ec65,#92e95e,#a1e657,#b3df4c,#c3d542,#d0c83a,#d9ba32,#e2ab2b,#e89b25,#ec851f,#ec701a,#e96016,#e45614,#df5113,#db4e12,#d84b12,#d64a12,#d44811,#d24711,#cf4510,#cb4210,#c83f0f,#c43c0f,#c13a0e,#bf380e,#bd370e,#bb350d,#b9340d,#b7320d,#b5310c,#b4300c,#b22f0c,#b12e0c,#b02d0c)"></i>
<i style="background:linear-gradient(90deg,#44c1c8,#44c0c9,#44bfc9,#44bfca,#44becb,#44becc,#43bdcd,#43bccf,#43bbcf,#44bdcd,#45c1c7,#46c9bd,#49d3af,#4cdf9f,#53ea8d,#61ef7d,#73ee70,#82ec67,#8eea60,#9ce759,#aee14f,#bfd845,#cbcc3c,#d6be34,#e0b02d,#e79f26,#eb8820,#ec721b,#ea6217,#e55714,#df5113,#db4e12,#d84c12,#d64a12,#d44811,#d24711,#cf4511,#cc4210,#c83f0f,#c53d0f,#c23a0e,#bf380e,#bd370e,#bb350d,#b9340d,#b7320d,#b5310c,#b4300c,#b22f0c,#b12e0c,#b02d0c)"></i>
<i style="background:linear-gradient(90deg,#45c2c6,#44c1c7,#44c0c8,#44c0c9,#44bfca,#44becb,#44bdcd,#43bbcf,#43bbcf,#44bdcd,#44c1c7,#46c8be,#48d2b0,#4cdea0,#52e98e,#5fef7e,#70ef72,#7fed69,#8aeb63,#98e85b,#a9e351,#bada48,#c7cf3f,#d3c237,#deb42f,#e6a328,#eb8c21,#ec751b,#ea6417,#e55815,#e05213,#dc4e12,#d94c12,#d64a12,#d44911,#d24711,#d04511,#cc4210,#c83f0f,#c53d0f,#c23b0e,#bf390e,#bd370e,#bb350d,#b9340d,#b7320d,#b5310c,#b4300c,#b32f0c,#b12e0c,#b12d0c)"></i>
<i style="background:linear-gradient(90deg,#45c3c5,#45c2c6,#45c1c7,#44c0c8,#44c0c9,#44becb,#44bdcd,#43bbcf,#43bbcf,#43bdcd,#44c1c8,#46c8be,#48d2b1,#4bdea1,#52e98f,#5eef7f,#6def73,#7bed6b,#87eb65,#94e95d,#a5e454,#b5dd4b,#c2d242,#cfc639,#dbb831,#e5a729,#ea8f22,#ec771c,#eb6518,#e65a15,#e15313,#dc4e13,#d94c12,#d74a12,#d54911,#d34711,#d04511,#cc4210,#c9400f,#c53d0f,#c23b0e,#c0390e,#bd370e,#bb360d,#b9340d,#b7330d,#b6310c,#b4300c,#b32f0c,#b12e0c,#b12d0c)"></i>
<i style="background:linear-gradient(90deg,#45c4c3,#45c3c4,#45c2c5,#45c1c7,#44c0c8,#44bfca,#44bdcd,#43bbcf,#43bbd0,#43bcce,#44c0c8,#46c7bf,#48d1b1,#4bdda1,#51e890,#5cef81,#6aef75,#78ee6d,#83ec66,#90ea60,#a0e557,#afdf4e,#bdd645,#cbca3c,#d8bd33,#e3ab2a,#ea9323,#ec7a1d,#eb6718,#e75b15,#e15314,#dc4f13,#d94c12,#d74a12,#d54911,#d34711,#d04511,#cd4310,#c94010,#c63d0f,#c33b0e,#c0390e,#be370e,#bc360d,#ba340d,#b8330d,#b6310c,#b4300c,#b32f0c,#b22e0c,#b12e0c)"></i>
<i style="background:linear-gradient(90deg,#45c6c1,#45c5c2,#45c3c4,#45c2c6,#44c1c8,#44bfca,#44bdcc,#43bbcf,#43bbd0,#43bcce,#44c0c9,#46c7bf,#48d1b2,#4bdda2,#50e891,#5aee82,#68f077,#75ee6e,#80ed68,#8cea62,#9be759,#aae151,#b8d848,#c7ce3f,#d6c135,#e2af2c,#e99624,#ec7d1d,#eb6a19,#e75c16,#e25414,#dd4f13,#d94c12,#d74b12,#d54911,#d34711,#d04511,#cd4310,#c94010,#c63e0f,#c33b0f,#c0390e,#be380e,#bc360d,#ba340d,#b8330d,#b6310c,#b4300c,#b32f0c,#b22e0c,#b12e0c)"></i>
<i style="background:linear-gradient(90deg,#46c7bf,#46c6c1,#45c4c3,#45c3c5,#45c1c7,#44c0c9,#44bdcc,#43bbcf,#43bbd0,#43bcce,#44c0c9,#46c7c0,#48d0b3,#4bdca3,#50e792,#59ee83,#65f078,#72ef70,#7ced6a,#88eb64,#96e85c,#a5e354,#b3db4b,#c3d142,#d3c537,#e0b32d,#e99a25,#ec801e,#ec6c19,#e85e16,#e35514,#dd5013,#da4d12,#d74b12,#d54911,#d34811,#d14611,#cd4310,#ca4110,#c63e0f,#c33c0f,#c1390e,#be380e,#bc360d,#ba340d,#b8330d,#b6320d,#b5300c,#b32f0c,#b22e0c,#b12e0c)"></i>
<i style="background:linear-gradient(90deg,#46c8bd,#46c7bf,#45c5c1,#45c4c4,#45c2c6,#44c0c9,#44bdcc,#43bbcf,#43bbd0,#43bcce,#44c0c9,#46c6c0,#48d0b3,#4bdca4,#4fe793,#57ee85,#63f07a,#6fef72,#79ee6c,#84ec66,#92e95e,#a0e457,#aede4e,#bed444,#d0c93a,#dfb72f,#e89d26,#ec831f,#ec6e1a,#e95f16,#e35614,#de5013,#da4d12,#d84b12,#d54911,#d34811,#d14611,#ce4310,#ca4110,#c73e0f,#c43c0f,#c13a0e,#be380e,#bc360d,#ba350d,#b8330d,#b6320d,#b5300c,#b32f0c,#b22e0c,#b12e0c)"></i>
<i style="background:linear-gradient(90deg,#46cabc,#46c8be,#46c6c0,#45c5c3,#45c2c5,#44c0c8,#44becc,#43bbcf,#43bad0,#43bcce,#44bfc9,#46c6c0,#48d0b4,#4adba4,#4fe694,#56ee86,#61f07b,#6cf074,#76ee6e,#81ec68,#8eea61,#9be659,#a9e051,#bad747,#cccc3c,#ddbb30,#e7a127,#ec861f,#ec701a,#e96117,#e45714,#df5113,#db4e12,#d84b12,#d64a12,#d44811,#d14611,#ce4410,#cb4110,#c73e0f,#c43c0f,#c13a0e,#bf380e,#bd360e,#ba350d,#b8330d,#b6320d,#b5310c,#b32f0c,#b22e0c,#b12e0c)"></i>
<i style="background:linear-gradient(90deg,#47cbba,#46cabc,#46c7bf,#45c5c2,#45c3c5,#44c1c8,#44becc,#43bbcf,#43bad0,#43bcce,#44bfca,#46c6c1,#48d0b4,#4adba5,#4ee695,#55ed87,#5ff07d,#69f075,#73ef6f,#7eed69,#8aeb63,#96e75c,#a4e254,#b5da4a,#c9d03e,#dbbe32,#e7a428,#eb8920,#ec731b,#ea6317,#e55815,#df5213,#db4e12,#d94c12,#d64a12,#d44811,#d24611,#ce4410,#cb4110,#c73f0f,#c43c0f,#c13a0e,#bf380e,#bd370e,#bb350d,#b9330d,#b7320d,#b5310c,#b3300c,#b22f0c,#b12e0c)"></i>
<i style="background:linear-gradient(90deg,#47cdb8,#47cbba,#46c8bd,#46c6c1,#45c4c4,#44c1c8,#44becb,#43bbcf,#43bad0,#43bcce,#44bfca,#46c6c1,#48cfb4,#4adaa6,#4ee596,#54ed88,#5df07e,#67f177,#70ef71,#7aee6b,#86eb65,#91e85f,#9fe457,#b1dd4d,#c6d340,#dac233,#e6a729,#eb8c21,#ed751b,#eb6518,#e65a15,#e05313,#dc4f13,#d94c12,#d74a12,#d44911,#d24711,#cf4410,#cb4210,#c83f0f,#c53d0f,#c23a0e,#bf390e,#bd370e,#bb350d,#b9340d,#b7320d,#b5310c,#b4300c,#b22f0c,#b12e0c)"></i>
<i style="background:linear-gradient(90deg,#47ceb6,#47ccb9,#46cabc,#46c7bf,#45c4c3,#44c1c7,#44becb,#43bbcf,#43bad0,#43bcce,#44bfca,#46c6c1,#48cfb4,#4adaa6,#4de597,#53ed8a,#5bf07f,#64f178,#6ef072,#77ee6d,#82ec67,#8dea61,#9ae55a,#acdf4f,#c3d642,#d8c535,#e5ab2a,#eb8f22,#ed781c,#eb6718,#e65b15,#e15414,#dd4f13,#da4d12,#d74b12,#d54911,#d24711,#cf4510,#cc4210,#c83f0f,#c53d0f,#c23b0e,#c0390e,#bd370e,#bb350d,#b9340d,#b7320d,#b5310c,#b4300c,#b22f0c,#b12e0c)"></i>
<i style="background:linear-gradient(90deg,#48cfb4,#47cdb7,#47cbbb,#46c8be,#45c5c2,#45c1c7,#44becb,#43bccf,#43bbd0,#43bcce,#44bfc9,#46c6c1,#48cfb5,#4adaa6,#4de498,#52ec8b,#59f081,#62f179,#6bf074,#75ef6e,#7eed69,#89eb63,#96e75c,#a8e152,#bfd844,#d6c836,#e4ae2b,#ea9222,#ed7b1d,#ec6919,#e75d16,#e25514,#de5013,#db4d12,#d84b12,#d54911,#d34711,#d04511,#cc4210,#c9400f,#c53d0f,#c23b0e,#c0390e,#be370e,#bb360d,#b9340d,#b7320d,#b5310c,#b4300c,#b22f0c,#b22e0c)"></i>
<i style="background:linear-gradient(90deg,#48d1b2,#47ceb5,#47cbb9,#46c8bd,#45c5c2,#45c2c6,#44becb,#43bcce,#43bbd0,#43bcce,#44c0c9,#46c6c1,#48cfb5,#4ad9a7,#4de499,#51ec8c,#58f082,#60f17b,#69f075,#72ef70,#7bed6b,#85eb66,#91e85f,#a4e354,#bcda46,#d4cb38,#e3b12c,#ea9523,#ec7e1d,#ec6b19,#e85e16,#e35614,#df5113,#db4e13,#d94c12,#d64a12,#d34811,#d04511,#cd4310,#c94010,#c63d0f,#c33b0f,#c0390e,#be370e,#bc360d,#b9340d,#b7330d,#b6310c,#b4300c,#b32f0c,#b22e0c)"></i>
<i style="background:linear-gradient(90deg,#48d2b1,#48d0b4,#47ccb8,#46c9bc,#45c6c1,#45c2c6,#44bfcb,#43bcce,#43bbd0,#43bcce,#44c0c9,#46c6c1,#48cfb5,#4ad9a7,#4de399,#50eb8d,#56f083,#5ef17c,#67f176,#6fef71,#78ee6c,#81ec68,#8ee961,#a1e456,#b9dc48,#d2cd39,#e2b42d,#e99824,#ec801e,#ec6e1a,#e96016,#e45715,#e05213,#dc4f13,#d94d12,#d74a12,#d44811,#d14611,#cd4310,#c94010,#c63e0f,#c33b0f,#c1390e,#be380e,#bc360d,#ba340d,#b8330d,#b6310c,#b4300c,#b32f0c,#b22e0c)"></i>
<i style="background:linear-gradient(90deg,#49d3af,#48d1b2,#47cdb7,#46cabb,#46c6c0,#45c2c6,#44bfca,#43bcce,#43bbcf,#43bcce,#44c0c9,#46c6c0,#48cfb5,#4ad9a8,#4ce39a,#50eb8e,#55f085,#5cf17d,#65f177,#6df073,#75ee6e,#7eed69,#8aea63,#9de658,#b6de4a,#d0d03b,#e1b72e,#e99b25,#ec831f,#ec701a,#e96217,#e55915,#e15414,#dd5013,#da4d12,#d74b12,#d44911,#d14611,#ce4310,#ca4110,#c63e0f,#c33c0f,#c13a0e,#be380e,#bc360d,#ba340d,#b8330d,#b6310c,#b4300c,#b32f0c,#b22e0c)"></i>
<i style="background:linear-gradient(90deg,#49d5ad,#48d2b1,#47ceb5,#47cbba,#46c7c0,#45c3c5,#44bfca,#43bcce,#43bbcf,#43bccd,#44c0c9,#46c6c0,#48cfb5,#4ad9a8,#4ce29b,#4fea8f,#54ef86,#5bf17e,#63f179,#6bf074,#73ef6f,#7bed6b,#87eb65,#9ae75a,#b3e04c,#ced23c,#e0ba2f,#e89f26,#ec861f,#ed731b,#ea6417,#e65b15,#e25514,#df5113,#db4e12,#d84c12,#d54911,#d24711,#ce4410,#ca4110,#c73e0f,#c43c0f,#c13a0e,#bf380e,#bc360d,#ba350d,#b8330d,#b6320d,#b4300c,#b32f0c,#b22e0c)"></i>
<i style="background:linear-gradient(90deg,#49d6ab,#48d3af,#48cfb4,#47cbba,#46c7bf,#45c3c5,#44bfca,#43bcce,#43bbcf,#43bdcd,#44c0c8,#46c7c0,#48cfb5,#4ad8a8,#4ce29c,#4fea90,#53ef87,#59f180,#61f17a,#69f175,#70ef71,#78ee6d,#83ec66,#96e85c,#b1e14d,#ccd43d,#dfbd30,#e8a226,#ec8920,#ed751b,#eb6618,#e75d16,#e35714,#e05213,#dc4f13,#d94c12,#d64a12,#d24711,#cf4410,#cb4110,#c73f0f,#c43c0f,#c13a0e,#bf380e,#bd360e,#ba350d,#b8330d,#b6320d,#b4300c,#b32f0c,#b22f0c)"></i>
<i style="background:linear-gradient(90deg,#49d7a9,#49d4ae,#48d0b3,#47ccb9,#46c8bf,#45c3c4,#44bfca,#43bccd,#43bccf,#44bdcd,#44c1c8,#46c7bf,#48cfb5,#4ad8a9,#4ce19c,#4ee991,#52ee88,#58f181,#5ff27b,#67f176,#6ef072,#75ee6e,#81ec68,#94e95e,#aee24f,#cad63f,#dec031,#e7a527,#eb8c21,#ed781c,#eb6918,#e85f16,#e45815,#e15414,#de5013,#da4d12,#d74a12,#d34811,#cf4510,#cb4210,#c83f0f,#c53d0f,#c23a0e,#bf390e,#bd370e,#ba350d,#b8330d,#b6320d,#b5300c,#b32f0c,#b22f0c)"></i>
<i style="background:linear-gradient(90deg,#4ad9a8,#49d5ac,#48d1b2,#47cdb8,#46c8be,#45c3c4,#44bfc9,#43bdcd,#43bcce,#44bdcc,#44c1c7,#46c7bf,#48cfb4,#4ad8a9,#4ce19d,#4ee892,#51ee89,#56f182,#5df27c,#65f177,#6cf073,#73ef6f,#7eed69,#91e95f,#abe350,#c8d740,#ddc232,#e7a828,#eb8f22,#ed7b1d,#ec6b19,#e96117,#e55a15,#e25514,#df5113,#db4e12,#d84b12,#d44811,#d04511,#cc4210,#c83f0f,#c53d0f,#c23b0e,#c0390e,#bd370e,#bb350d,#b8330d,#b6320d,#b5310c,#b32f0c,#b22f0c)"></i>
<i style="background:linear-gradient(90deg,#4adaa6,#49d7aa,#48d2b0,#47ceb7,#46c9bd,#45c4c4,#44c0c9,#44bdcd,#43bcce,#44becc,#45c1c7,#46c8bf,#48cfb4,#49d8a9,#4be09e,#4ee893,#51ed8a,#55f183,#5cf27d,#63f179,#69f075,#70ef71,#7bed6b,#8eea60,#a9e452,#c6d941,#dbc533,#e6ab29,#eb9222,#ed7d1d,#ec6e1a,#e96317,#e75c16,#e45714,#e05313,#dc4f13,#d84c12,#d44911,#d04511,#cc4210,#c9400f,#c53d0f,#c33b0e,#c0390e,#bd370e,#bb350d,#b9330d,#b7320d,#b5310c,#b3300c,#b22f0c)"></i>
<i style="background:linear-gradient(90deg,#4adba4,#4ad8a9,#48d3af,#47ceb6,#46c9bd,#45c4c3,#44c0c9,#44bdcc,#43bccd,#44becb,#45c2c6,#46c8be,#48cfb4,#49d8a9,#4be09e,#4de794,#50ed8c,#54f084,#5af17e,#61f17a,#67f176,#6ef072,#79ee6c,#8cea62,#a6e553,#c4da43,#dac734,#e5ae2a,#ea9523,#ec801e,#ec711a,#ea6518,#e85e16,#e55915,#e15414,#de5013,#d94c12,#d54911,#d14611,#cd4310,#c94010,#c63d0f,#c33b0f,#c0390e,#be370e,#bb350d,#b9340d,#b7320d,#b5310c,#b4300c,#b32f0c)"></i>
<i style="background:linear-gradient(90deg,#4bdda2,#4ad9a7,#49d4ae,#48cfb5,#46c9bc,#45c4c3,#44c0c8,#44becc,#44bdcd,#44becb,#45c2c6,#46c8be,#48d0b4,#49d7aa,#4bdf9f,#4de695,#50ec8d,#53f086,#59f180,#5ff17b,#66f177,#6cf073,#77ee6d,#89eb63,#a4e555,#c2db44,#d8c935,#e4b12b,#ea9824,#ec831f,#ec731b,#eb6818,#e96016,#e65a15,#e35514,#df5113,#da4d12,#d64a12,#d24611,#cd4310,#c94010,#c63e0f,#c33c0f,#c0390e,#be370e,#bb360d,#b9340d,#b7320d,#b5310c,#b4300c,#b32f0c)"></i>
<i style="background:linear-gradient(90deg,#4bdea1,#4adaa6,#49d5ac,#48d0b4,#46cabb,#45c5c3,#44c0c8,#44becc,#44bdcc,#44bfca,#45c3c5,#46c9bd,#48d0b4,#49d7aa,#4bdfa0,#4de696,#4feb8e,#53ef87,#58f181,#5ef17c,#64f178,#6af074,#75ef6e,#87eb64,#a2e656,#bfdd45,#d7cc36,#e3b42c,#e99b25,#ec8620,#ed761c,#eb6b19,#ea6317,#e75c16,#e45714,#e05213,#db4e12,#d74a12,#d24711,#ce4410,#ca4110,#c73e0f,#c43c0f,#c13a0e,#be380e,#bc360d,#b9340d,#b7320d,#b5310c,#b4300c,#b32f0c)"></i>
<i style="background:linear-gradient(90deg,#4bdf9f,#4adba4,#49d6ab,#48d0b3,#47cbbb,#45c5c2,#44c1c8,#44becb,#44becc,#44bfca,#45c3c4,#46c9bd,#48d0b4,#49d7aa,#4bdea0,#4de597,#4feb8f,#52ef88,#57f182,#5cf17d,#62f179,#69f175,#73ef6f,#85ec65,#9fe757,#bdde47,#d5ce38,#e2b72d,#e99f26,#ec8a20,#ed791c,#ec6e1a,#ea6518,#e85e16,#e55815,#e15314,#dc4f13,#d84b12,#d34711,#ce4410,#ca4110,#c73e0f,#c43c0f,#c13a0e,#be380e,#bc360d,#b9340d,#b7320d,#b5310c,#b4300c,#b32f0c)"></i>
<i style="background:linear-gradient(90deg,#4ce19d,#4bdca3,#49d7aa,#48d1b2,#47cbba,#45c5c2,#44c1c7,#44bfcb,#44becb,#44c0c9,#45c4c4,#46c9bc,#48d0b3,#49d7aa,#4bdea1,#4ce498,#4eea90,#51ee8a,#55f084,#5bf17f,#60f17a,#67f176,#71ef70,#83ec67,#9de758,#bbdf48,#d3d039,#e1ba2e,#e8a226,#eb8d21,#ed7c1d,#ec701a,#eb6718,#e96016,#e75a15,#e25414,#dd5013,#d84c12,#d44811,#cf4510,#cb4110,#c83f0f,#c43c0f,#c23a0e,#bf380e,#bc360d,#ba340d,#b7330d,#b6310c,#b4300c,#b32f0c)"></i>
<i style="background:linear-gradient(90deg,#4ce29b,#4bdea1,#4ad8a8,#48d2b1,#47ccb9,#45c6c1,#45c1c7,#44bfca,#44becb,#44c0c8,#45c4c3,#46cabb,#48d0b3,#49d7aa,#4bdda2,#4ce399,#4ee992,#50ed8b,#54f085,#59f180,#5ff17b,#65f177,#6fef71,#81ec68,#9be85a,#b8e049,#d1d23a,#e0bd2f,#e7a527,#eb9022,#ec801e,#ec731b,#ec6a19,#ea6217,#e85b15,#e45614,#df5113,#d94c12,#d44911,#d04511,#cc4210,#c83f0f,#c53d0f,#c23b0e,#bf380e,#bc360e,#ba340d,#b8330d,#b6310c,#b4300c,#b32f0c)"></i>
<i style="background:linear-gradient(90deg,#4de399,#4bdf9f,#4ad9a7,#48d3af,#47ccb8,#46c6c0,#45c2c6,#44c0c9,#44bfca,#44c1c7,#45c5c2,#47cabb,#48d0b3,#49d6ab,#4bdda2,#4ce39a,#4ee893,#50ec8d,#53ef87,#58f181,#5df17d,#63f178,#6ef072,#7fed69,#99e85b,#b6e14b,#cfd43c,#dfc030,#e7a828,#ea9323,#ec831f,#ed761c,#ec6d19,#eb6417,#e95d16,#e55714,#e05213,#da4d12,#d54911,#d04611,#cc4210,#c9400f,#c53d0f,#c23b0e,#bf390e,#bd370e,#ba350d,#b8330d,#b6310c,#b4300c,#b32f0c)"></i>
<i style="background:linear-gradient(90deg,#4de497,#4ce09e,#4adaa6,#49d4ae,#47cdb7,#46c7c0,#45c2c5,#44c0c9,#44c0c9,#45c2c7,#45c6c1,#47cbba,#48d0b3,#49d6ab,#4adca3,#4ce29c,#4de795,#4feb8e,#52ee88,#57f083,#5cf17e,#62f179,#6cf073,#7ded6a,#96e95c,#b3e24c,#cdd53d,#ddc231,#e6ac29,#ea9724,#ec861f,#ed791c,#ed6f1a,#ec6618,#ea5f16,#e65815,#e15313,#db4e12,#d64a12,#d14611,#cd4310,#c94010,#c63e0f,#c33b0f,#c0390e,#bd370e,#ba350d,#b8330d,#b6310c,#b4300c,#b32f0c)"></i>
<i style="background:linear-gradient(90deg,#4ee695,#4ce19c,#4adba4,#49d5ad,#47ceb6,#46c7bf,#45c3c5,#44c1c8,#44c0c8,#45c2c6,#46c6c0,#47cbba,#48d1b3,#49d6ab,#4adca4,#4ce19d,#4de696,#4fea90,#52ed8a,#56ef84,#5af17f,#60f17a,#6af074,#7bed6b,#94e95d,#b0e24e,#cad73f,#dcc533,#e5af2a,#e99a24,#ec8a20,#ed7d1d,#ed721b,#ec6918,#eb6117,#e75a15,#e25414,#dc4f13,#d74b12,#d24711,#ce4310,#ca4110,#c63e0f,#c33b0f,#c0390e,#bd370e,#bb350d,#b8330d,#b6320d,#b5300c,#b3300c)"></i>
<i style="background:linear-gradient(90deg,#4fe794,#4de29a,#4bdca3,#49d6ac,#47ceb5,#46c8be,#45c4c4,#45c1c7,#44c1c7,#45c3c5,#46c7c0,#47ccb9,#48d1b2,#49d6ac,#4adba5,#4be09e,#4de598,#4ee992,#51ec8c,#54ef86,#59f081,#5ff17b,#69f075,#7aee6c,#92ea5f,#aee34f,#c8d940,#dac834,#e4b22b,#e99e25,#eb8d21,#ec801e,#ed751b,#ed6b19,#eb6217,#e85b15,#e35514,#dd5013,#d84b12,#d34711,#ce4410,#cb4110,#c73e0f,#c43c0f,#c0390e,#be370e,#bb350d,#b8330d,#b6320d,#b5310c,#b4300c)"></i>
<i style="background:linear-gradient(90deg,#4fe892,#4de498,#4bdea1,#49d7aa,#48cfb4,#46c9bd,#45c4c3,#45c2c6,#45c2c6,#45c4c4,#46c7bf,#47ccb8,#48d1b2,#49d6ac,#4adaa6,#4bdfa0,#4ce39a,#4ee794,#50eb8e,#53ee88,#58f082,#5df17d,#67f176,#78ee6d,#8fea60,#abe451,#c5da42,#d8ca36,#e3b52d,#e8a126,#eb9122,#ec831f,#ed781c,#ed6d19,#ec6417,#e95d16,#e45614,#de5113,#d94c12,#d44811,#cf4511,#cb4210,#c83f0f,#c43c0f,#c13a0e,#be370e,#bb350d,#b9340d,#b7320d,#b5310c,#b4300c)"></i>
<i style="background:linear-gradient(90deg,#50e990,#4ee596,#4bdf9f,#4ad8a9,#48d0b3,#46c9bc,#45c5c2,#45c3c5,#45c2c5,#45c4c3,#46c8be,#47cdb8,#48d1b2,#49d5ac,#4adaa7,#4bdea1,#4ce29b,#4de696,#4fe990,#52ed8a,#56ef84,#5cf17e,#66f177,#76ee6e,#8dea61,#a8e553,#c2dc44,#d6cd37,#e1b92e,#e7a527,#ea9423,#ec8720,#ed7a1d,#ee701a,#ed6618,#ea5e16,#e55714,#e05213,#da4d12,#d54911,#d04511,#cc4210,#c83f0f,#c53d0f,#c13a0e,#be380e,#bb360d,#b9340d,#b7320d,#b5310c,#b4300c)"></i>
<i style="background:linear-gradient(90deg,#51ea8e,#4fe695,#4ce09e,#4ad9a7,#48d1b2,#47cabb,#46c6c1,#45c4c4,#45c3c4,#45c5c2,#46c9bd,#47cdb7,#48d1b2,#49d5ad,#4ad9a7,#4bdda2,#4ce09d,#4de498,#4fe892,#51ec8c,#55ef85,#5bf17f,#64f178,#74ef6f,#8aeb63,#a5e654,#bfdd46,#d3cf39,#e0bc2f,#e6a828,#ea9824,#ec8a20,#ed7d1d,#ee721b,#ed6818,#eb6016,#e65915,#e15313,#db4e12,#d64a12,#d14611,#cd4310,#c9400f,#c53d0f,#c23a0e,#bf380e,#bc360d,#b9340d,#b7320d,#b5310c,#b4300c)"></i>
<i style="background:linear-gradient(90deg,#53eb8c,#4fe793,#4ce19c,#4adaa6,#48d2b0,#47cbba,#46c7bf,#45c5c2,#45c4c3,#46c6c1,#46cabc,#47ceb7,#48d1b2,#49d5ad,#4ad8a8,#4adca4,#4bdf9f,#4ce29a,#4ee695,#50ea8e,#54ee87,#59f180,#63f179,#72ef70,#88eb64,#a1e656,#bbde48,#d1d13a,#debf30,#e5ac2a,#e99c25,#eb8d21,#ed801e,#ee741b,#ee6a19,#eb6117,#e75a15,#e25414,#dc4f13,#d74b12,#d24711,#ce4310,#ca4010,#c63d0f,#c23b0e,#bf380e,#bc360d,#b9340d,#b7320d,#b5310c,#b4300c)"></i>
<i style="background:linear-gradient(90deg,#54ec8a,#50e891,#4de29a,#4adba4,#49d3af,#47ccb8,#46c8be,#46c6c1,#45c5c2,#46c7bf,#47cabb,#47ceb6,#48d1b2,#49d4ad,#49d7a9,#4adaa6,#4bdda2,#4ce19d,#4de597,#50e990,#53ed89,#58f082,#61f17a,#70ef71,#85ec65,#9ee758,#b8e04a,#ced43c,#dcc232,#e4b02b,#e99f26,#eb9122,#ed831f,#ee771c,#ee6c19,#ec6317,#e85b15,#e35514,#de5013,#d84c12,#d34811,#cf4410,#ca4110,#c63e0f,#c33b0f,#bf390e,#bc360e,#ba340d,#b7330d,#b6310c,#b4300c)"></i>
<i style="background:linear-gradient(90deg,#55ed88,#51e98f,#4de498,#4bdda2,#49d5ad,#47ceb6,#46c9bc,#46c7bf,#46c6c0,#46c8be,#47cbba,#47cfb5,#48d1b1,#49d4ae,#49d7aa,#4ad9a7,#4adca4,#4bdfa0,#4de39a,#4fe793,#52ec8b,#57f083,#60f17b,#6ff072,#83ec67,#9be85a,#b4e14c,#cbd63e,#dac533,#e3b32c,#e8a327,#ea9423,#ec861f,#ee791c,#ee6e1a,#ed6517,#e95d16,#e45714,#df5113,#da4d12,#d44911,#d04511,#cb4210,#c73e0f,#c33c0f,#c0390e,#bd370e,#ba340d,#b8330d,#b6310c,#b5300c)"></i>
<i style="background:linear-gradient(90deg,#57ee86,#52ea8d,#4ee596,#4bdea1,#49d6ab,#48cfb5,#47cabb,#46c8be,#46c8be,#46c9bd,#47ccb9,#48cfb5,#48d2b1,#49d4ae,#49d6ac,#4ad8a9,#4adaa6,#4bdda2,#4ce19d,#4ee695,#51eb8d,#56ef84,#5ff17c,#6df073,#80ed68,#97e85c,#b1e24e,#c8d840,#d8c835,#e2b72d,#e7a728,#ea9824,#ec8920,#ee7c1d,#ee701a,#ed6618,#ea5e16,#e55815,#e05313,#db4e12,#d64a12,#d14611,#cc4210,#c83f0f,#c43c0f,#c0390e,#bd370e,#ba350d,#b8330d,#b6310c,#b5310c)"></i>
<i style="background:linear-gradient(90deg,#59ee84,#53eb8b,#4fe695,#4cdf9f,#49d7a9,#48d0b3,#47ccb9,#46cabc,#46c9bd,#46cabb,#47cdb8,#48d0b4,#48d2b1,#49d3af,#49d5ad,#49d6ab,#4ad8a9,#4adba5,#4bdf9f,#4de498,#50ea8f,#55ef86,#5df17d,#6bf074,#7eed69,#94e95d,#ade350,#c4d942,#d6cb37,#e0bb2f,#e6ab29,#e99b25,#ec8c21,#ed7e1d,#ee721b,#ed6818,#eb6016,#e65915,#e25414,#dc4f13,#d74b12,#d24711,#cd4310,#c83f0f,#c43c0f,#c13a0e,#bd370e,#bb350d,#b8330d,#b6320d,#b5310c)"></i>
<i style="background:linear-gradient(90deg,#5bef82,#55ec89,#4fe793,#4ce19d,#4ad9a7,#48d2b1,#47cdb7,#47cbba,#46cabb,#47cbba,#47ceb6,#48d0b3,#48d2b1,#48d3af,#49d4ae,#49d5ad,#49d6ab,#4ad9a8,#4bdda2,#4de29a,#4fe991,#54ee87,#5cf17e,#69f075,#7bee6b,#90ea5f,#a9e452,#c1db44,#d3ce39,#dfbe30,#e5af2a,#e99f26,#eb8f22,#ed801e,#ee741b,#ee6a19,#eb6117,#e85b15,#e35514,#de5013,#d84c12,#d34711,#ce4410,#c94010,#c53d0f,#c13a0e,#be370e,#bb350d,#b8330d,#b6320d,#b5310c)"></i>
<i style="background:linear-gradient(90deg,#5def80,#56ed87,#50e891,#4de29b,#4adaa6,#49d3af,#48cfb5,#47ccb8,#47ccb9,#47ccb8,#47cfb5,#48d1b3,#48d2b1,#48d3b0,#49d3af,#49d4ae,#49d4ae,#49d6ab,#4adaa5,#4ce09d,#4fe793,#53ee88,#5bf17f,#68f176,#79ee6c,#8dea61,#a5e554,#bddd46,#d0d13a,#ddc232,#e4b22b,#e8a226,#eb9222,#ed831f,#ee761c,#ee6c19,#ec6317,#e95c16,#e45714,#df5113,#da4d12,#d44811,#cf4410,#ca4110,#c63d0f,#c23a0e,#be380e,#bb350d,#b9330d,#b7320d,#b5310c)"></i>
<i style="background:linear-gradient(90deg,#5fef7e,#58ed85,#51e98f,#4de399,#4bdca3,#49d5ad,#48d0b3,#47ceb6,#47cdb7,#47ceb6,#48cfb4,#48d1b2,#48d2b1,#48d2b0,#48d3b0,#48d2b0,#48d2b0,#49d4ae,#4ad8a8,#4cdfa0,#4ee695,#52ed8a,#5af17f,#66f176,#76ee6e,#8aeb63,#a1e656,#b9de49,#cdd33c,#dbc533,#e3b62c,#e8a627,#eb9523,#ed851f,#ee781c,#ee6e1a,#ed6517,#ea5e16,#e65815,#e15313,#db4e12,#d54911,#d04511,#cb4110,#c63e0f,#c23b0e,#bf380e,#bc360d,#b9340d,#b7320d,#b6310c)"></i>
<i style="background:linear-gradient(90deg,#61ef7c,#59ee83,#52ea8d,#4ee597,#4bdda1,#49d7ab,#48d2b1,#48cfb4,#47ceb5,#48cfb5,#48d0b3,#48d2b1,#48d2b1,#48d2b1,#48d2b1,#48d1b2,#48d1b3,#48d2b1,#49d6ab,#4bdda2,#4ee597,#52ec8b,#59f180,#65f177,#74ef6f,#86ec65,#9de759,#b5e04b,#cad53e,#d9c835,#e2ba2e,#e7a928,#ea9824,#ec8820,#ee7a1d,#ee6f1a,#ed6718,#eb6016,#e75a15,#e25414,#dc4f13,#d64a12,#d14611,#cb4210,#c73e0f,#c33b0f,#bf380e,#bc360d,#b9340d,#b7320d,#b6310c)"></i>
<i style="background:linear-gradient(90deg,#63f07a,#5bef81,#53eb8b,#4ee695,#4bdf9f,#4ad8a8,#49d4ae,#48d1b2,#48d0b4,#48d0b3,#48d1b2,#48d2b1,#48d2b1,#48d2b1,#48d1b2,#48d0b4,#47cfb5,#48d0b4,#49d4ae,#4adba5,#4de399,#51eb8d,#58f181,#63f178,#71ef70,#83ec67,#99e85b,#b1e14d,#c7d840,#d7cb36,#e1bd2f,#e6ad29,#ea9b24,#ec8a20,#ee7c1d,#ee711a,#ee6818,#eb6117,#e85b15,#e35514,#de5013,#d84b12,#d24711,#cc4210,#c73f0f,#c33c0f,#c0390e,#bc360d,#b9340d,#b7320d,#b6320d)"></i>
<i style="background:linear-gradient(90deg,#66f078,#5def80,#54ec89,#4fe793,#4ce09d,#4adaa6,#49d5ac,#48d3b0,#48d1b2,#48d1b2,#48d2b1,#48d2b0,#48d2b0,#48d1b2,#48d0b3,#47ceb6,#47cdb8,#47cdb7,#48d1b2,#4ad9a8,#4ce29b,#50eb8e,#57f082,#62f179,#6ff071,#80ed68,#95e95d,#ade34f,#c4da43,#d4ce38,#dfc130,#e6b02a,#e99e25,#ec8d21,#ed7f1e,#ee731b,#ee6a19,#ec6317,#e95d16,#e55714,#df5113,#d94c12,#d34711,#cd4310,#c83f0f,#c43c0f,#c0390e,#bd370e,#ba340d,#b8330d,#b6320d)"></i>
<i style="background:linear-gradient(90deg,#68ef76,#5fef7e,#55ed87,#4fe891,#4ce29b,#4adca4,#49d7aa,#49d4ae,#48d3b0,#48d3b0,#48d3af,#48d3af,#48d2b0,#48d1b2,#48cfb4,#47cdb7,#47cbba,#47cbba,#48cfb4,#49d7aa,#4ce09d,#50ea8f,#56f083,#60f27a,#6df073,#7ced6a,#91e95f,#a9e452,#c0dc45,#d2d13a,#dec432,#e5b32b,#e9a026,#eb8f21,#ed801e,#ee751b,#ee6c19,#ed6517,#ea5e16,#e65815,#e15213,#da4d12,#d44811,#ce4410,#c9400f,#c43c0f,#c1390e,#bd370e,#ba350d,#b8330d,#b6320d)"></i>
<i style="background:linear-gradient(90deg,#6bef75,#61ef7c,#57ee86,#50ea8f,#4de499,#4bdda1,#4ad9a8,#49d6ac,#49d4ae,#49d4ae,#49d4ae,#49d3af,#48d2b0,#48d1b2,#47ceb5,#47ccb9,#46c9bc,#46c9bd,#47cdb7,#49d5ad,#4cdf9f,#4fe991,#56f084,#5ff27b,#6af074,#79ee6c,#8dea61,#a5e554,#bcdd47,#cfd33c,#dcc733,#e4b72c,#e8a326,#eb9122,#ed821f,#ee771c,#ee6d19,#ed6618,#eb6016,#e75915,#e25314,#db4e12,#d54911,#cf4410,#c94010,#c53d0f,#c13a0e,#bd370e,#ba350d,#b8330d,#b7320d)"></i>
<i style="background:linear-gradient(90deg,#6def73,#63f07a,#58ee84,#51eb8d,#4de597,#4bdf9f,#4adaa5,#49d7a9,#49d6ac,#49d5ad,#49d5ad,#49d4ae,#48d2b0,#48d0b3,#47ceb6,#47cabb,#46c8bf,#46c7bf,#47cbba,#49d3af,#4bdea1,#4fe892,#55f084,#5ef27b,#68f175,#76ee6d,#8aeb63,#a1e656,#b9df49,#ccd63e,#daca34,#e3ba2d,#e8a627,#eb9323,#ed841f,#ee781c,#ee6f1a,#ee6818,#ec6117,#e85b15,#e35514,#dd4f13,#d64a12,#d04511,#ca4110,#c63d0f,#c13a0e,#be370e,#bb350d,#b8330d,#b7320d)"></i>
<i style="background:linear-gradient(90deg,#70ef72,#65f079,#59ef82,#52ec8b,#4ee695,#4ce19d,#4adca3,#4ad9a7,#49d7aa,#49d6ab,#49d6ac,#49d4ad,#48d3b0,#48d0b3,#47cdb7,#46c9bc,#46c6c1,#45c5c2,#46c9bd,#48d1b2,#4bdca3,#4ee793,#54f085,#5df27c,#66f176,#74ef6f,#86ec65,#9ee758,#b5e04b,#c9d83f,#d9cd36,#e2bc2e,#e8a828,#eb9523,#ed861f,#ee7a1c,#ef711a,#ee6919,#ed6317,#ea5c16,#e45614,#de5013,#d74a12,#d04611,#cb4110,#c63e0f,#c23b0e,#be380e,#bb350d,#b9330d,#b7320d)"></i>
<i style="background:linear-gradient(90deg,#73ef70,#67f077,#5bef81,#53ed8a,#4ee893,#4ce29b,#4bdea1,#4adaa5,#4ad8a8,#49d7aa,#49d6ab,#49d5ad,#48d3b0,#48d0b4,#47ccb8,#46c8be,#45c4c3,#45c3c4,#46c7c0,#48d0b4,#4adba5,#4ee794,#54f086,#5bf27d,#65f177,#71ef70,#83ec67,#9ae85a,#b1e24d,#c6da41,#d7cf37,#e2bf2f,#e7ab28,#ea9824,#ec8820,#ee7c1d,#ef721b,#ee6b19,#ed6417,#eb5d16,#e65714,#df5113,#d84b12,#d14611,#cc4210,#c73e0f,#c23b0e,#be380e,#bb350d,#b9340d,#b7330d)"></i>
<i style="background:linear-gradient(90deg,#75ee6f,#69f076,#5cf07f,#54ee88,#4fe991,#4ce499,#4bdf9f,#4adca4,#4adaa6,#4ad8a8,#49d7aa,#49d5ac,#48d3b0,#48d0b4,#47ccb9,#46c7bf,#45c3c5,#45c1c7,#45c5c2,#47ceb6,#4adaa6,#4ee695,#53ef86,#5af27d,#63f278,#6ef072,#80ed68,#96e85c,#aee34f,#c3dc43,#d5d138,#e1c230,#e7ad29,#ea9a24,#ec8a20,#ee7d1d,#ef741b,#ef6c19,#ee6618,#eb5f16,#e75815,#e05213,#d94c12,#d24711,#cc4210,#c73f0f,#c33b0f,#bf380e,#bc360d,#b9340d,#b8330d)"></i>
<i style="background:linear-gradient(90deg,#77ee6d,#6bef75,#5ef07e,#55ee86,#4fea8f,#4de597,#4be19d,#4bdda2,#4adba5,#4ad9a7,#4ad8a9,#49d6ac,#48d3b0,#48cfb4,#47cbba,#46c6c0,#45c2c6,#44c0c9,#45c3c4,#47ccb8,#4ad9a8,#4de596,#53ef87,#5af37e,#61f279,#6cf073,#7ded6a,#93e95e,#aae451,#c0dd45,#d3d43a,#e0c431,#e6b02a,#ea9b25,#ec8b21,#ee7f1e,#ef751b,#ef6e1a,#ee6718,#ec6016,#e85915,#e15313,#da4d12,#d34711,#cd4310,#c83f0f,#c33c0f,#bf380e,#bc360d,#b9340d,#b8330d)"></i>
<i style="background:linear-gradient(90deg,#7aee6c,#6def73,#5ff07c,#56ef85,#50eb8d,#4de695,#4ce29b,#4bdfa0,#4adca3,#4adaa6,#4ad8a8,#49d6ab,#48d3af,#48cfb4,#47cbba,#45c5c1,#44c0c8,#44becb,#45c2c7,#47cbba,#4ad7a9,#4de597,#52ef87,#59f37e,#60f27a,#6af174,#7aee6b,#90ea60,#a7e553,#bddf47,#d1d53b,#dfc631,#e6b22a,#e99d25,#ec8d21,#ed801e,#ee761c,#ef6f1a,#ef6818,#ed6117,#e95a15,#e25314,#db4d12,#d44811,#cd4310,#c83f0f,#c43c0f,#c0390e,#bc360d,#ba340d,#b8330d)"></i>
<i style="background:linear-gradient(90deg,#7ced6b,#6fef72,#61f07b,#57f083,#51ec8c,#4ee893,#4ce39a,#4be09e,#4bdda2,#4adba4,#4ad9a7,#49d6ab,#48d3af,#48cfb5,#47cabb,#45c5c2,#44bfca,#44bdcd,#44c0c9,#46c9bc,#49d6ab,#4de498,#52ef88,#58f37f,#5ef27a,#68f175,#77ee6d,#8cea61,#a4e655,#bae048,#cfd73c,#dec832,#e6b42b,#e99f25,#ec8e21,#ed811e,#ee781c,#ef701a,#ef6919,#ed6217,#ea5b15,#e35414,#dc4e12,#d44911,#ce4410,#c9400f,#c43c0f,#c0390e,#bc360e,#ba340d,#b8330d)"></i>
<i style="background:linear-gradient(90deg,#7eed69,#71ef71,#62f07a,#58f082,#51ed8a,#4ee992,#4ce498,#4ce19d,#4bdea0,#4adca3,#4adaa6,#49d7aa,#48d3af,#48cfb5,#46cabb,#45c4c3,#44becb,#43bbcf,#44bfcb,#46c8be,#49d5ac,#4de499,#52ef88,#57f37f,#5df37b,#66f176,#75ef6e,#89eb63,#a0e757,#b7e14a,#cdd93e,#ddca33,#e5b62b,#e9a126,#eb9022,#ed821f,#ee791c,#ef711a,#ef6a19,#ee6317,#eb5c15,#e45514,#dd4f13,#d54911,#cf4410,#c94010,#c53d0f,#c0390e,#bd370e,#ba350d,#b9330d)"></i>
<i style="background:linear-gradient(90deg,#80ed68,#73ef70,#64f078,#59f081,#52ee89,#4eea90,#4de696,#4ce29b,#4bdf9f,#4bdda2,#4adaa5,#49d7aa,#48d3af,#48cfb5,#46cabc,#45c3c4,#44bdcc,#43bad0,#44bdcc,#46c7c0,#49d4ad,#4de399,#51ef88,#57f37f,#5cf37c,#64f277,#72ef6f,#87ec65,#9de758,#b5e24c,#cbda3f,#dccc34,#e5b72c,#e9a226,#eb9122,#ed841f,#ee7a1c,#ef721b,#ef6c19,#ee6417,#eb5d16,#e55614,#de5013,#d64a12,#cf4511,#ca4110,#c53d0f,#c13a0e,#bd370e,#ba350d,#b9340d)"></i>
<i style="background:linear-gradient(90deg,#82ec67,#75ee6e,#66f077,#5af180,#53ef87,#4feb8f,#4de795,#4ce39a,#4be09e,#4bdea1,#4adba5,#49d8a9,#49d3af,#47cfb5,#46c9bc,#45c3c5,#43bccd,#43b9d2,#43bcce,#45c6c1,#49d3af,#4ce39a,#51ef89,#56f380,#5bf37c,#63f278,#70ef71,#84ec66,#9ae85a,#b2e34d,#c9db40,#dbce35,#e4b92c,#e9a427,#eb9222,#ed851f,#ee7b1d,#ef731b,#ef6d19,#ef6518,#ec5e16,#e65714,#de5013,#d74a12,#d04511,#ca4110,#c53d0f,#c13a0e,#bd370e,#bb350d,#b9340d)"></i>
<i style="background:linear-gradient(90deg,#84ec66,#77ee6d,#67f076,#5bf17e,#53f086,#4fec8d,#4de894,#4ce499,#4ce19d,#4bdea0,#4adba4,#4ad8a9,#49d3af,#47cfb5,#46c9bd,#45c2c6,#43bcce,#42b8d3,#43bbd0,#45c5c3,#48d3b0,#4ce29b,#51ee89,#56f380,#5af37d,#61f279,#6ef072,#81ec67,#97e85c,#afe44f,#c7dc41,#dacf36,#e4bb2d,#e8a527,#eb9323,#ed861f,#ee7c1d,#ef741b,#ef6d19,#ef6618,#ed5f16,#e75714,#df5113,#d74b12,#d14611,#cb4110,#c63e0f,#c13a0e,#be370e,#bb350d,#b9340d)"></i>
<i style="background:linear-gradient(90deg,#86ec65,#78ee6c,#69f075,#5cf17d,#54f085,#4fed8c,#4de992,#4ce598,#4ce29c,#4bdf9f,#4adca3,#4ad8a8,#49d4af,#47cfb5,#46c9bd,#45c2c6,#43bbcf,#42b7d5,#43bad1,#45c4c4,#48d2b1,#4ce29b,#51ee89,#55f380,#59f37d,#60f279,#6cf073,#7fed69,#95e95d,#ace450,#c5dd43,#d8d136,#e3bc2d,#e8a627,#eb9423,#ed8720,#ee7d1d,#ef751b,#ef6e1a,#ef6718,#ed5f16,#e85815,#e05113,#d84b12,#d14611,#cb4210,#c63e0f,#c23a0e,#be380e,#bb350d,#b9340d)"></i>
<i style="background:linear-gradient(90deg,#88eb64,#7aee6b,#6af074,#5df17c,#55f184,#50ee8b,#4eea91,#4de697,#4ce29b,#4be09f,#4bdca3,#4ad8a8,#49d4ae,#47ceb5,#46c8bd,#45c1c7,#43bad0,#42b6d6,#43b9d2,#45c3c5,#48d1b2,#4ce19c,#51ee89,#55f381,#59f37d,#5ff27a,#6bf074,#7ded6a,#92ea5f,#aae552,#c3de44,#d7d237,#e3be2e,#e8a828,#eb9523,#ec8820,#ee7d1d,#ef761c,#ef6f1a,#f06818,#ee6016,#e85915,#e15213,#d94c12,#d24711,#cc4210,#c73e0f,#c23b0e,#be380e,#bb360d,#ba340d)"></i>
<i style="background:linear-gradient(90deg,#8aeb63,#7ced6b,#6cf073,#5ff17b,#55f183,#50ee8a,#4eea90,#4de695,#4ce39a,#4be09e,#4bdda2,#4ad9a8,#49d4ae,#47ceb5,#46c8be,#44c1c7,#43bad1,#42b5d7,#42b8d4,#45c2c6,#48d0b3,#4ce19c,#51ee89,#55f381,#58f47e,#5df37b,#69f175,#7aee6b,#8fea60,#a7e653,#c1df45,#d6d338,#e3bf2e,#e8a928,#ea9623,#ec8820,#ee7e1d,#ef771c,#ef701a,#f06918,#ee6117,#e95915,#e25313,#d94c12,#d24711,#cc4210,#c73e0f,#c23b0e,#bf380e,#bc360d,#ba340d)"></i>
<i style="background:linear-gradient(90deg,#8beb62,#7ded6a,#6df073,#60f17b,#56f182,#51ef89,#4eeb8f,#4de795,#4ce499,#4be19d,#4bdda2,#4ad9a7,#49d4ae,#47ceb5,#46c8be,#44c1c8,#43b9d2,#42b5d8,#42b7d5,#44c1c8,#48d0b4,#4ce19d,#51ee89,#54f381,#57f47e,#5cf37b,#67f175,#78ee6c,#8dea61,#a5e654,#bfe046,#d5d439,#e2c02f,#e8aa28,#ea9724,#ec8920,#ee7f1e,#ef771c,#ef711a,#f06919,#ee6217,#ea5a15,#e25314,#da4d12,#d34711,#cd4310,#c73f0f,#c33b0f,#bf380e,#bc360d,#ba350d)"></i>
<i style="background:linear-gradient(90deg,#8dea61,#7fed69,#6ff072,#61f17a,#57f281,#51ef88,#4eec8e,#4de894,#4ce498,#4ce19c,#4bdea1,#4ad9a7,#49d4ae,#47ceb6,#46c8be,#44c0c8,#43b9d2,#42b4d9,#42b6d6,#44c0c9,#48cfb4,#4ce19d,#51ee8a,#54f381,#57f47f,#5bf37c,#66f176,#76ee6d,#8beb62,#a3e756,#bde047,#d4d539,#e2c22f,#e7ab28,#ea9824,#ec8a20,#ee801e,#ef781c,#ef711a,#f06a19,#ef6217,#ea5b15,#e35414,#db4d12,#d34811,#cd4310,#c83f0f,#c33b0f,#bf380e,#bc360d,#ba350d)"></i>
<i style="background:linear-gradient(90deg,#8eea60,#80ed68,#70ef71,#62f179,#58f280,#52f087,#4fec8d,#4de893,#4ce597,#4ce29c,#4bdea1,#4adaa7,#49d4ae,#47ceb6,#46c8be,#44c0c8,#43b8d3,#41b3da,#42b5d7,#44bfca,#47cfb5,#4ce09d,#50ee8a,#54f381,#56f47f,#5bf37c,#65f177,#75ef6e,#89eb64,#a0e757,#bbe148,#d3d63a,#e1c330,#e7ac29,#ea9924,#ec8b20,#ed801e,#ef781c,#ef721b,#f06b19,#ef6317,#eb5b15,#e45414,#db4e12,#d44811,#ce4310,#c83f0f,#c33c0f,#bf390e,#bc360e,#bb350d)"></i>
<i style="background:linear-gradient(90deg,#90ea60,#82ec67,#71ef70,#63f178,#59f27f,#52f086,#4fed8c,#4de992,#4de597,#4ce29b,#4bdea0,#4adaa6,#49d4ad,#47ceb6,#46c8be,#44c0c9,#42b8d3,#41b3da,#42b5d8,#44bfcb,#47ceb6,#4ce09e,#50ee8a,#54f381,#56f47f,#5af37d,#63f278,#73ef6f,#86ec65,#9ee758,#b9e249,#d2d73b,#e1c430,#e7ad29,#ea9a24,#ec8b21,#ed811e,#ee791c,#ef721b,#f06b19,#ef6417,#eb5c15,#e45514,#dc4e13,#d44911,#ce4410,#c9400f,#c43c0f,#c0390e,#bd370e,#bb350d)"></i>
<i style="background:linear-gradient(90deg,#91ea5f,#83ec66,#73ef6f,#64f177,#5af27e,#53f185,#4fee8b,#4eea91,#4de696,#4ce39b,#4bdfa0,#4adaa6,#49d5ad,#47ceb5,#46c8bf,#44c0c9,#42b8d4,#41b2db,#42b4d9,#44becb,#47cdb7,#4ce09e,#50ee8a,#53f381,#55f47f,#59f37d,#62f278,#71ef70,#84ec66,#9ce859,#b8e24a,#d1d83c,#e0c530,#e7ae29,#ea9a24,#ec8c21,#ed811e,#ee791c,#ef731b,#f06c19,#ef6417,#ec5d16,#e55514,#dd4f13,#d54911,#cf4410,#c94010,#c43c0f,#c0390e,#bd370e,#bb350d)"></i>
<i style="background:linear-gradient(90deg,#93ea5e,#85ec66,#74ef6f,#66f177,#5af27e,#53f184,#4fee8b,#4eea91,#4de695,#4ce39a,#4bdf9f,#4adaa6,#49d5ad,#47ceb5,#46c7bf,#44c0c9,#42b7d4,#41b2dc,#41b3da,#44bdcc,#47cdb7,#4ce09e,#50ee8a,#53f381,#55f480,#58f47e,#61f279,#70f071,#83ec67,#9ae85a,#b6e24b,#d0d83c,#e0c631,#e7af29,#ea9b24,#ec8c21,#ed821e,#ee7a1c,#ef731b,#f06d19,#f06517,#ec5d16,#e65614,#dd4f13,#d64911,#cf4410,#c94010,#c43c0f,#c0390e,#bd370e,#bb350d)"></i>
<i style="background:linear-gradient(90deg,#94e95d,#86ec65,#75ef6e,#67f176,#5bf27d,#53f184,#4fee8a,#4eeb90,#4de795,#4ce39a,#4bdf9f,#4adba5,#49d5ad,#47ceb5,#46c7bf,#44bfc9,#42b7d5,#41b1dc,#41b3da,#43bdcd,#47cdb8,#4cdf9f,#50ee8a,#53f482,#54f480,#58f47e,#60f279,#6ef072,#81ed68,#98e85b,#b4e34c,#cfd93d,#e0c731,#e7b02a,#ea9c25,#ec8d21,#ed821e,#ee7a1d,#ef741b,#f06d19,#f06618,#ed5e16,#e65614,#de5013,#d64a12,#cf4511,#ca4010,#c53d0f,#c13a0e,#bd370e,#bb360d)"></i>
<i style="background:linear-gradient(90deg,#95e95d,#87ec64,#76ee6d,#68f175,#5cf27c,#54f283,#50ef89,#4eeb8f,#4de794,#4ce499,#4be09e,#4adba5,#49d5ad,#47ceb5,#46c7bf,#44bfca,#42b7d5,#41b1dd,#41b2db,#43bcce,#47ccb8,#4cdf9f,#50ee8a,#53f482,#54f480,#57f47e,#5ff27a,#6df072,#7fed69,#97e95c,#b3e34d,#ced93d,#dfc831,#e6b12a,#ea9c25,#ec8d21,#ed831f,#ee7b1d,#ef741b,#f06e1a,#f06618,#ed5e16,#e75714,#de5013,#d74a12,#d04511,#ca4110,#c53d0f,#c13a0e,#be370e,#bc360d)"></i>
<i style="background:linear-gradient(90deg,#96e95c,#88eb64,#78ee6d,#69f175,#5df27c,#54f282,#50ef89,#4eeb8f,#4de894,#4ce499,#4be09e,#4adba5,#49d5ad,#47ceb5,#46c7bf,#44bfca,#42b6d5,#41b0de,#41b2dc,#43bcce,#47ccb9,#4cdf9f,#50ee8a,#53f482,#54f480,#57f47e,#5ef37a,#6cf073,#7eed69,#95e95d,#b2e34d,#cdda3e,#dfc832,#e6b12a,#ea9d25,#ec8e21,#ed831f,#ee7b1d,#ef751b,#f06e1a,#f06718,#ed5f16,#e75714,#df5113,#d74b12,#d04511,#ca4110,#c53d0f,#c13a0e,#be370e,#bc360d)"></i>
<i style="background:linear-gradient(90deg,#97e95c,#89eb63,#79ee6c,#6af074,#5ef27b,#55f282,#50f088,#4eec8e,#4de893,#4ce498,#4be09e,#4adba5,#49d5ac,#47ceb5,#46c7bf,#44bfca,#42b6d6,#41b0de,#41b1dc,#43bbcf,#47cbb9,#4cdf9f,#50ee8a,#53f482,#53f480,#56f47f,#5df37b,#6bf074,#7ced6a,#94e95e,#b0e44e,#ccda3e,#dec932,#e6b22a,#e99e25,#ec8e21,#ed831f,#ee7b1d,#ef751b,#f06f1a,#f06718,#ee5f16,#e85815,#e05113,#d74b12,#d14611,#cb4110,#c63d0f,#c13a0e,#be380e,#bc360d)"></i>
<i style="background:linear-gradient(90deg,#98e95b,#8aeb63,#7aee6c,#6bf074,#5ef27b,#55f281,#50f088,#4eec8e,#4de893,#4ce498,#4be09e,#4adba4,#49d5ac,#47cfb5,#46c7bf,#44bfca,#42b6d6,#41b0de,#41b1dd,#43bbcf,#47cbba,#4cdf9f,#50ee8a,#52f482,#53f480,#56f47f,#5df37b,#69f174,#7bee6b,#92ea5e,#afe44f,#cbdb3f,#deca32,#e6b32a,#e99e25,#ec8f21,#ed841f,#ee7c1d,#ef751b,#f06f1a,#f06818,#ee6016,#e85815,#e05113,#d84b12,#d14611,#cb4110,#c63e0f,#c23a0e,#be380e,#bc360e)"></i>
<i style="background:linear-gradient(90deg,#99e85b,#8beb62,#7bee6b,#6bf073,#5ff27a,#56f281,#50f087,#4eec8d,#4de893,#4ce598,#4be19d,#4adba4,#49d5ac,#47cfb5,#46c7bf,#44bfca,#42b6d6,#41afdf,#41b0dd,#43bbd0,#47cbba,#4cdfa0,#50ee8a,#52f482,#53f480,#55f47f,#5cf37b,#69f175,#7aee6b,#91ea5f,#aee44f,#cbdb3f,#deca33,#e6b32b,#e99e25,#eb8f21,#ed841f,#ee7c1d,#ef761b,#f06f1a,#f06818,#ee6016,#e95915,#e15213,#d84c12,#d14611,#cb4210,#c63e0f,#c23b0e,#bf380e,#bd360e)"></i>
<i style="background:linear-gradient(90deg,#9ae85a,#8ceb62,#7bee6b,#6cf073,#60f27a,#56f381,#50f087,#4eed8d,#4de992,#4ce597,#4be19d,#4adca4,#49d5ac,#47cfb5,#46c7bf,#44bfca,#42b6d6,#40afdf,#41b0de,#43bad0,#47cbbb,#4bdea0,#50ee8a,#52f482,#53f481,#55f47f,#5cf37c,#68f175,#79ee6c,#90ea60,#ade450,#cadc40,#ddcb33,#e6b42b,#e99f25,#eb8f22,#ed841f,#ee7c1d,#ef761c,#f0701a,#f06818,#ef6116,#e95915,#e15213,#d94c12,#d24611,#cc4210,#c73e0f,#c23b0e,#bf380e,#bd370e)"></i>
<i style="background:linear-gradient(90deg,#9be85a,#8deb61,#7ced6a,#6df072,#60f27a,#56f380,#51f187,#4eed8d,#4de992,#4ce597,#4ce19d,#4adca4,#49d6ac,#47cfb5,#46c7bf,#44bfca,#42b6d7,#40afdf,#41b0de,#43bad1,#47cabb,#4bdea0,#50ee8a,#52f482,#53f581,#55f480,#5bf37c,#67f176,#78ee6d,#8fea60,#ace550,#c9dc40,#ddcb33,#e6b42b,#e99f25,#eb8f22,#ed841f,#ee7c1d,#ef761c,#f0701a,#f06918,#ef6117,#ea5915,#e15313,#d94c12,#d24711,#cc4210,#c73e0f,#c23b0e,#bf380e,#bd370e)"></i>
<i style="background:linear-gradient(90deg,#9ce859,#8eea61,#7ded6a,#6ef072,#61f279,#57f380,#51f186,#4eed8c,#4de992,#4ce597,#4ce19d,#4adca4,#49d6ac,#47cfb5,#46c7bf,#44bfcb,#42b5d7,#40afe0,#41b0de,#43bad1,#47cabb,#4bdea0,#50ee8a,#52f482,#52f581,#54f480,#5bf37c,#66f176,#77ee6d,#8eea61,#abe551,#c9dc40,#ddcc33,#e6b52b,#e99f25,#eb9022,#ed841f,#ee7d1d,#ef761c,#f0701a,#f06918,#ef6117,#ea5a15,#e25313,#d94c12,#d24711,#cc4210,#c73e0f,#c33b0e,#bf380e,#bd370e)"></i>
<i style="background:linear-gradient(90deg,#9ce859,#8eea61,#7ded6a,#6ef072,#61f279,#57f380,#51f186,#4eed8c,#4de992,#4de597,#4ce19d,#4adca3,#49d6ac,#47cfb5,#46c7bf,#44bfcb,#42b5d7,#40afe0,#41afdf,#43b9d1,#46cabb,#4bdea0,#50ee8a,#52f482,#52f581,#54f480,#5af37c,#66f176,#76ee6d,#8dea61,#abe551,#c8dc41,#ddcc33,#e6b52b,#e9a026,#eb9022,#ed851f,#ee7d1d,#ef771c,#f0711a,#f06918,#ef6217,#ea5a15,#e25314,#da4d12,#d24711,#cc4210,#c73f0f,#c33b0f,#bf390e,#bd370e)"></i>
</div>
<svg width="1100" height="1050" viewBox="0 0 1100 1050">
<clipPath id="mc"><rect x="100" y="150" width="800" height="800"/></clipPath>
<g clip-path="url(#mc)">
<path d="M292.7 150.7 L235.5 161.9" fill="none" stroke="#000" stroke-width="1.5"/><path d="M222.3 164.5 L235.6 156.8 L237.5 166.6 Z" fill="#000"/>
<path d="M493.0 150.5 L434.2 160.4" fill="none" stroke="#000" stroke-width="1.5"/><path d="M420.9 162.7 L434.4 155.4 L436.0 165.2 Z" fill="#000"/>
<path d="M692.0 150.2 L633.4 158.3" fill="none" stroke="#000" stroke-width="1.5"/><path d="M620.0 160.2 L633.7 153.3 L635.0 163.2 Z" fill="#000"/>
<path d="M892.5 150.0 L833.4 155.5" fill="none" stroke="#000" stroke-width="1.5"/><path d="M820.0 156.8 L834.0 150.5 L834.9 160.4 Z" fill="#000"/>
<path d="M292.5 351.6 L232.1 365.0" fill="none" stroke="#000" stroke-width="1.5"/><path d="M218.9 367.9 L232.0 359.9 L234.1 369.6 Z" fill="#000"/>
<path d="M492.4 351.6 L429.2 363.8" fill="none" stroke="#000" stroke-width="1.5"/><path d="M415.9 366.4 L429.2 358.7 L431.1 368.6 Z" fill="#000"/>
<path d="M692.4 350.4 L627.2 361.3" fill="none" stroke="#000" stroke-width="1.5"/><path d="M613.9 363.5 L627.4 356.2 L629.0 366.0 Z" fill="#000"/>
<path d="M892.5 350.1 L826.8 358.3" fill="none" stroke="#000" stroke-width="1.5"/><path d="M813.4 360.0 L827.2 353.2 L828.4 363.2 Z" fill="#000"/>
<path d="M292.5 551.9 L231.9 568.4" fill="none" stroke="#000" stroke-width="1.5"/><path d="M218.9 571.9 L231.6 563.3 L234.2 572.9 Z" fill="#000"/>
<path d="M492.4 551.9 L427.8 568.5" fill="none" stroke="#000" stroke-width="1.5"/><path d="M414.7 571.9 L427.5 563.4 L430.0 573.1 Z" fill="#000"/>
<path d="M691.8 551.6 L624.1 566.4" fill="none" stroke="#000" stroke-width="1.5"/><path d="M610.9 569.3 L624.0 561.3 L626.1 571.1 Z" fill="#000"/>
<path d="M892.0 550.4 L860.5 553.9 L822.9 560.3" fill="none" stroke="#000" stroke-width="1.5"/><path d="M809.6 562.6 L823.1 555.2 L824.7 565.1 Z" fill="#000"/>
<path d="M293.1 752.7 L237.4 772.6" fill="none" stroke="#000" stroke-width="1.5"/><path d="M224.7 777.2 L236.7 767.6 L240.0 777.0 Z" fill="#000"/>
<path d="M492.4 752.7 L433.7 775.3" fill="none" stroke="#000" stroke-width="1.5"/><path d="M421.1 780.1 L432.8 770.2 L436.4 779.6 Z" fill="#000"/>
<path d="M692.4 752.5 L627.6 772.6" fill="none" stroke="#000" stroke-width="1.5"/><path d="M614.7 776.6 L627.1 767.5 L630.0 777.1 Z" fill="#000"/>
<path d="M892.0 750.4 L860.5 754.8 L825.7 762.2" fill="none" stroke="#000" stroke-width="1.5"/><path d="M812.5 765.0 L825.6 757.1 L827.7 766.9 Z" fill="#000"/>
<path d="M899.5 950.0 L857.8 941.3 L845.0 942.9 L843.8 943.0" fill="none" stroke="#000" stroke-width="1.5"/><path d="M830.3 944.0 L844.4 937.9 L845.1 947.9 Z" fill="#000"/>
</g>
<path d="M140 150 V950 M640 150 V950 M100 650 H900" stroke="#e2e2e2" stroke-opacity="0.55" stroke-width="1.9" fill="none"/>
<circle cx="437.4" cy="710.2" r="6.3" fill="#fff" stroke="#000" stroke-width="1.8"/>
<rect x="100.2" y="150.1" width="800.2" height="799.9" fill="none" stroke="#000" stroke-width="2.6"/>
<path d="M140 150 v-8 M140 950 v8 M190 150 v-4 M190 950 v4 M240 150 v-4 M240 950 v4 M290 150 v-4 M290 950 v4 M340 150 v-4 M340 950 v4 M390 150 v-4 M390 950 v4 M440 150 v-4 M440 950 v4 M490 150 v-4 M490 950 v4 M540 150 v-4 M540 950 v4 M590 150 v-4 M590 950 v4 M640 150 v-8 M640 950 v8 M690 150 v-4 M690 950 v4 M740 150 v-4 M740 950 v4 M790 150 v-4 M790 950 v4 M840 150 v-4 M840 950 v4 M890 150 v-4 M890 950 v4 M100 150 h-8 M900 150 h8 M100 200 h-4 M900 200 h4 M100 250 h-4 M900 250 h4 M100 300 h-4 M900 300 h4 M100 350 h-4 M900 350 h4 M100 400 h-4 M900 400 h4 M100 450 h-4 M900 450 h4 M100 500 h-4 M900 500 h4 M100 550 h-4 M900 550 h4 M100 600 h-4 M900 600 h4 M100 650 h-8 M900 650 h8 M100 700 h-4 M900 700 h4 M100 750 h-4 M900 750 h4 M100 800 h-4 M900 800 h4 M100 850 h-4 M900 850 h4 M100 900 h-4 M900 900 h4 M100 950 h-4 M900 950 h4" stroke="#000" stroke-width="1.3" fill="none"/>
<text x="140.4" y="135.4" text-anchor="middle" class="an">−89°05'15"</text>
<text x="640.4" y="135.4" text-anchor="middle" class="an">−89°04'30"</text>
<text x="140.4" y="973.6" text-anchor="middle" class="an">−89°05'15"</text>
<text x="640.4" y="973.6" text-anchor="middle" class="an">−89°04'30"</text>
<text x="84.6" y="154.4" text-anchor="end" class="an">30°16'30"</text>
<text x="84.6" y="654.4" text-anchor="end" class="an">30°15'45"</text>
<text x="914.6" y="154.4" class="an">30°16'30"</text>
<text x="914.6" y="654.4" class="an">30°15'45"</text>
<text x="499.7" y="30" text-anchor="middle" class="sb" font-size="19.5">Mississippi Sound, Gulfport</text>
<text x="499.7" y="1044.6" text-anchor="middle" class="sb" font-size="19.5">Mississippi Sound, Gulfport</text>
<text x="499.9" y="114.2" text-anchor="middle" class="tb" font-size="18.16">Salinity at surface FORECAST valid Jan 22 2025 18:00Z</text>
<text x="811.2" y="109.6" class="tb" font-size="14">Gulf of Mexico</text>
<circle cx="120.2" cy="45.1" r="6.3" fill="#fff" stroke="#000" stroke-width="1.8"/>
<text x="130.3" y="49.6" class="sb" font-size="13.95">USM Instrumentation</text>
<rect x="582" y="40.1" width="312.9" height="39.6" fill="#fff" stroke="#000" stroke-width="1.8"/>
<text x="586.3" y="55.0" class="sb" font-size="12.3">0.25 kts</text>
<text x="586.3" y="64.8" class="sb" font-size="12.3">0.50 kts</text>
<text x="586.3" y="74.6" class="sb" font-size="12.3">0.75 kts</text>
<path d="M803.3 50.3 H880 M723 60.2 H880 M641.2 70.1 H880" stroke="#000" stroke-width="0.95" fill="none"/>
<path d="M893 50.2 L878 45.1 V55.3 Z M893 60.1 L878 55 V65.2 Z M893 70 L878 64.9 V75.1 Z" fill="#000"/>
<text x="582.4" y="94.0" class="sb" font-size="11.17">CURRENTS Vectors</text>
<defs><linearGradient id="cb" x1="0" y1="0" x2="0" y2="1"><stop offset="0%" stop-color="#7a0403"/><stop offset="20%" stop-color="#f25f16"/><stop offset="40%" stop-color="#e1dc34"/><stop offset="60%" stop-color="#50f582"/><stop offset="80%" stop-color="#3c9bfa"/><stop offset="100%" stop-color="#30123b"/></linearGradient></defs>
<rect x="980.3" y="400" width="20.2" height="300" fill="url(#cb)" stroke="#000" stroke-width="2.7" stroke-linejoin="round"/>
<path d="M979 400 H1001.6 M979 460 H1001.6 M979 520 H1001.6 M979 580 H1001.6 M979 640 H1001.6 M979 700 H1001.6" stroke="#e4e4de" stroke-opacity="0.85" stroke-width="1.2" fill="none"/>
<path d="M1001.8 400 H1008.4 M1001.8 460 H1008.4 M1001.8 520 H1008.4 M1001.8 580 H1008.4 M1001.8 640 H1008.4 M1001.8 700 H1008.4" stroke="#222" stroke-width="1.3" fill="none"/>
<text x="1027.6" y="404.1" text-anchor="end" class="an">28</text>
<text x="1027.6" y="464.1" text-anchor="end" class="an">23</text>
<text x="1027.6" y="524.1" text-anchor="end" class="an">18</text>
<text x="1027.6" y="584.1" text-anchor="end" class="an">13</text>
<text x="1027.6" y="644.1" text-anchor="end" class="an">8</text>
<text x="1027.6" y="704.1" text-anchor="end" class="an">3</text>
<text transform="translate(1055.3 550) rotate(-90)" text-anchor="middle" class="sb" font-size="13.89">Salinity (psu)</text>
</svg>
</body></html>
